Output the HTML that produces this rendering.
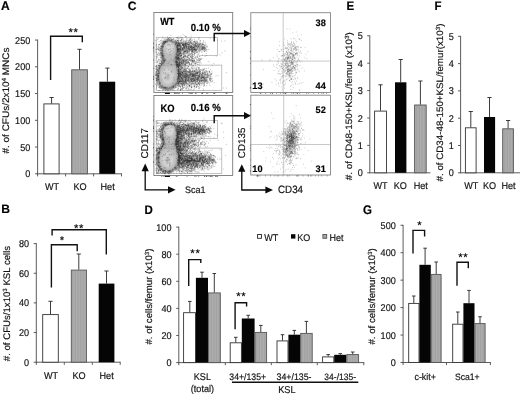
<!DOCTYPE html>
<html lang="en">
<head>
<meta charset="utf-8">
<title>Figure</title>
<style>
html,body{margin:0;padding:0;background:#fff;}
body{width:520px;height:395px;overflow:hidden;}
svg{display:block;font-family:"Liberation Sans",sans-serif;text-rendering:geometricPrecision;filter:blur(0.3px);}
text{stroke:#111;stroke-width:0.16px;paint-order:stroke;}
</style>
</head>
<body>
<svg width="520" height="395" viewBox="0 0 520 395">
<defs>
<pattern id="gs" width="1.6" height="4" patternUnits="userSpaceOnUse"><rect width="1.6" height="4" fill="#adadad"/><rect width="0.8" height="4" fill="#a1a1a1"/></pattern>
<filter id="b3" x="-5%" y="-5%" width="110%" height="110%"><feGaussianBlur stdDeviation="0.5"/></filter>
<filter id="b6" x="-10%" y="-10%" width="120%" height="120%"><feGaussianBlur stdDeviation="0.9"/></filter>
</defs>
<rect width="520" height="395" fill="#fff"/>
<text transform="translate(1.1 9.8) scale(1 1.04)" font-size="12.1" text-anchor="start" font-weight="bold" fill="#000">A</text>
<line x1="37.6" y1="39.6" x2="37.6" y2="174.2" stroke="#4a4a4a" stroke-width="0.9"/>
<line x1="35" y1="173.8" x2="37.6" y2="173.8" stroke="#4a4a4a" stroke-width="0.9"/>
<text transform="translate(30.3 177.35) scale(1 1.08)" font-size="9.1" text-anchor="end" font-weight="normal" fill="#111">0</text>
<line x1="35" y1="147.05" x2="37.6" y2="147.05" stroke="#4a4a4a" stroke-width="0.9"/>
<text transform="translate(30.3 150.6) scale(1 1.08)" font-size="9.1" text-anchor="end" font-weight="normal" fill="#111">50</text>
<line x1="35" y1="120.3" x2="37.6" y2="120.3" stroke="#4a4a4a" stroke-width="0.9"/>
<text transform="translate(30.3 123.85) scale(1 1.08)" font-size="9.1" text-anchor="end" font-weight="normal" fill="#111">100</text>
<line x1="35" y1="93.55" x2="37.6" y2="93.55" stroke="#4a4a4a" stroke-width="0.9"/>
<text transform="translate(30.3 97.1) scale(1 1.08)" font-size="9.1" text-anchor="end" font-weight="normal" fill="#111">150</text>
<line x1="35" y1="66.8" x2="37.6" y2="66.8" stroke="#4a4a4a" stroke-width="0.9"/>
<text transform="translate(30.3 70.35) scale(1 1.08)" font-size="9.1" text-anchor="end" font-weight="normal" fill="#111">200</text>
<line x1="35" y1="40.05" x2="37.6" y2="40.05" stroke="#4a4a4a" stroke-width="0.9"/>
<text transform="translate(30.3 43.6) scale(1 1.08)" font-size="9.1" text-anchor="end" font-weight="normal" fill="#111">250</text>
<line x1="37.2" y1="173.8" x2="121.9" y2="173.8" stroke="#4a4a4a" stroke-width="0.9"/>
<line x1="37.6" y1="173.8" x2="37.6" y2="176.4" stroke="#4a4a4a" stroke-width="0.9"/>
<line x1="65.6" y1="173.8" x2="65.6" y2="176.4" stroke="#4a4a4a" stroke-width="0.9"/>
<line x1="93.6" y1="173.8" x2="93.6" y2="176.4" stroke="#4a4a4a" stroke-width="0.9"/>
<line x1="121.5" y1="173.8" x2="121.5" y2="176.4" stroke="#4a4a4a" stroke-width="0.9"/>
<rect x="43.9" y="103.9" width="15.2" height="69.9" fill="#fff" stroke="#333" stroke-width="0.9"/>
<line x1="51.6" y1="97.5" x2="51.6" y2="103.5" stroke="#262626" stroke-width="0.9"/>
<line x1="49.5" y1="97.5" x2="53.7" y2="97.5" stroke="#262626" stroke-width="0.9"/>
<rect x="71.7" y="69.8" width="15.7" height="104" fill="url(#gs)" stroke="#555" stroke-width="0.9"/>
<line x1="79.5" y1="49.3" x2="79.5" y2="69.4" stroke="#262626" stroke-width="0.9"/>
<line x1="77.4" y1="49.3" x2="81.6" y2="49.3" stroke="#262626" stroke-width="0.9"/>
<rect x="99.3" y="81.7" width="15.9" height="92.1" fill="#050505"/>
<line x1="107.4" y1="68.1" x2="107.4" y2="81.7" stroke="#262626" stroke-width="0.9"/>
<line x1="105.3" y1="68.1" x2="109.5" y2="68.1" stroke="#262626" stroke-width="0.9"/>
<path d="M50.6 80V36.3H82.3V42.2" fill="none" stroke="#111" stroke-width="1.4" stroke-linejoin="miter"/>
<text transform="translate(73.55 36)" font-size="11.3" letter-spacing="0.7" text-anchor="middle" fill="#000" stroke="#000" stroke-width="0.25">**</text>
<text transform="translate(52 189.7) scale(1 1.08)" font-size="9.1" text-anchor="middle" font-weight="normal" fill="#111">WT</text>
<text transform="translate(80 189.7) scale(1 1.08)" font-size="9.1" text-anchor="middle" font-weight="normal" fill="#111">KO</text>
<text transform="translate(107.6 189.7) scale(1 1.08)" font-size="9.1" text-anchor="middle" font-weight="normal" fill="#111">Het</text>
<text transform="translate(9.4 100.5) scale(1 1.05) rotate(-90)" font-size="9.5" text-anchor="middle" fill="#111">#. of CFUs/2x10<tspan font-size="6" dy="-3">4</tspan><tspan dy="3"> MNCs</tspan></text>
<text transform="translate(1.3 213.4) scale(1 1.0)" font-size="12.1" text-anchor="start" font-weight="bold" fill="#000">B</text>
<line x1="36.3" y1="243.2" x2="36.3" y2="362.6" stroke="#4a4a4a" stroke-width="0.9"/>
<line x1="33.7" y1="362.2" x2="36.3" y2="362.2" stroke="#4a4a4a" stroke-width="0.9"/>
<text transform="translate(29 365.75) scale(1 1.08)" font-size="9.1" text-anchor="end" font-weight="normal" fill="#111">0</text>
<line x1="33.7" y1="332.55" x2="36.3" y2="332.55" stroke="#4a4a4a" stroke-width="0.9"/>
<text transform="translate(29 336.1) scale(1 1.08)" font-size="9.1" text-anchor="end" font-weight="normal" fill="#111">20</text>
<line x1="33.7" y1="302.9" x2="36.3" y2="302.9" stroke="#4a4a4a" stroke-width="0.9"/>
<text transform="translate(29 306.45) scale(1 1.08)" font-size="9.1" text-anchor="end" font-weight="normal" fill="#111">40</text>
<line x1="33.7" y1="273.25" x2="36.3" y2="273.25" stroke="#4a4a4a" stroke-width="0.9"/>
<text transform="translate(29 276.8) scale(1 1.08)" font-size="9.1" text-anchor="end" font-weight="normal" fill="#111">60</text>
<line x1="33.7" y1="243.6" x2="36.3" y2="243.6" stroke="#4a4a4a" stroke-width="0.9"/>
<text transform="translate(29 247.15) scale(1 1.08)" font-size="9.1" text-anchor="end" font-weight="normal" fill="#111">80</text>
<line x1="35.9" y1="362.2" x2="120.6" y2="362.2" stroke="#4a4a4a" stroke-width="0.9"/>
<line x1="36.3" y1="362.2" x2="36.3" y2="364.8" stroke="#4a4a4a" stroke-width="0.9"/>
<line x1="64.3" y1="362.2" x2="64.3" y2="364.8" stroke="#4a4a4a" stroke-width="0.9"/>
<line x1="92.3" y1="362.2" x2="92.3" y2="364.8" stroke="#4a4a4a" stroke-width="0.9"/>
<line x1="120.2" y1="362.2" x2="120.2" y2="364.8" stroke="#4a4a4a" stroke-width="0.9"/>
<rect x="42.7" y="314.6" width="15.6" height="47.6" fill="#fff" stroke="#333" stroke-width="0.9"/>
<line x1="50.5" y1="301.3" x2="50.5" y2="314.2" stroke="#262626" stroke-width="0.9"/>
<line x1="48.4" y1="301.3" x2="52.6" y2="301.3" stroke="#262626" stroke-width="0.9"/>
<rect x="71.3" y="270.1" width="15.1" height="92.1" fill="url(#gs)" stroke="#555" stroke-width="0.9"/>
<line x1="78.8" y1="254" x2="78.8" y2="269.7" stroke="#262626" stroke-width="0.9"/>
<line x1="76.7" y1="254" x2="80.9" y2="254" stroke="#262626" stroke-width="0.9"/>
<rect x="98.7" y="283.6" width="15.7" height="78.6" fill="#050505"/>
<line x1="106.5" y1="271" x2="106.5" y2="283.6" stroke="#262626" stroke-width="0.9"/>
<line x1="104.4" y1="271" x2="108.6" y2="271" stroke="#262626" stroke-width="0.9"/>
<path d="M51.4 287.4V244.8H77.2V251.2" fill="none" stroke="#111" stroke-width="1.4" stroke-linejoin="miter"/>
<text transform="translate(62 244.3)" font-size="11.3" letter-spacing="0" text-anchor="middle" fill="#000" stroke="#000" stroke-width="0.25">*</text>
<path d="M52.1 235.6V229.8H106.3V254.6" fill="none" stroke="#111" stroke-width="1.4" stroke-linejoin="miter"/>
<text transform="translate(79.05 232.3)" font-size="11.3" letter-spacing="0.7" text-anchor="middle" fill="#000" stroke="#000" stroke-width="0.25">**</text>
<text transform="translate(51 379.2) scale(1 1.08)" font-size="9.1" text-anchor="middle" font-weight="normal" fill="#111">WT</text>
<text transform="translate(79 379.2) scale(1 1.08)" font-size="9.1" text-anchor="middle" font-weight="normal" fill="#111">KO</text>
<text transform="translate(106.6 379.2) scale(1 1.08)" font-size="9.1" text-anchor="middle" font-weight="normal" fill="#111">Het</text>
<text transform="translate(9.8 303.5) scale(1 1.013) rotate(-90)" font-size="9.5" text-anchor="middle" fill="#111">#. of CFUs/1x10<tspan font-size="6" dy="-3">3</tspan><tspan dy="3"> KSL cells</tspan></text>
<text transform="translate(346.4 9.9) scale(1 1.08)" font-size="11.5" text-anchor="start" font-weight="bold" fill="#000">E</text>
<line x1="369.8" y1="35.4" x2="369.8" y2="173.2" stroke="#4a4a4a" stroke-width="0.9"/>
<line x1="367.2" y1="172.8" x2="369.8" y2="172.8" stroke="#4a4a4a" stroke-width="0.9"/>
<text transform="translate(362.7 176.35) scale(1 1.08)" font-size="9.1" text-anchor="end" font-weight="normal" fill="#111">0</text>
<line x1="367.2" y1="145.4" x2="369.8" y2="145.4" stroke="#4a4a4a" stroke-width="0.9"/>
<text transform="translate(362.7 148.95) scale(1 1.08)" font-size="9.1" text-anchor="end" font-weight="normal" fill="#111">1</text>
<line x1="367.2" y1="118" x2="369.8" y2="118" stroke="#4a4a4a" stroke-width="0.9"/>
<text transform="translate(362.7 121.55) scale(1 1.08)" font-size="9.1" text-anchor="end" font-weight="normal" fill="#111">2</text>
<line x1="367.2" y1="90.6" x2="369.8" y2="90.6" stroke="#4a4a4a" stroke-width="0.9"/>
<text transform="translate(362.7 94.15) scale(1 1.08)" font-size="9.1" text-anchor="end" font-weight="normal" fill="#111">3</text>
<line x1="367.2" y1="63.2" x2="369.8" y2="63.2" stroke="#4a4a4a" stroke-width="0.9"/>
<text transform="translate(362.7 66.75) scale(1 1.08)" font-size="9.1" text-anchor="end" font-weight="normal" fill="#111">4</text>
<line x1="367.2" y1="35.8" x2="369.8" y2="35.8" stroke="#4a4a4a" stroke-width="0.9"/>
<text transform="translate(362.7 39.35) scale(1 1.08)" font-size="9.1" text-anchor="end" font-weight="normal" fill="#111">5</text>
<line x1="369.4" y1="172.8" x2="430.4" y2="172.8" stroke="#4a4a4a" stroke-width="0.9"/>
<rect x="374.6" y="111.1" width="11.9" height="61.7" fill="#fff" stroke="#333" stroke-width="0.9"/>
<line x1="380.5" y1="84.8" x2="380.5" y2="110.7" stroke="#262626" stroke-width="0.9"/>
<line x1="378.4" y1="84.8" x2="382.6" y2="84.8" stroke="#262626" stroke-width="0.9"/>
<rect x="395" y="82.3" width="11.4" height="90.5" fill="#050505"/>
<line x1="400.7" y1="59.5" x2="400.7" y2="82.3" stroke="#262626" stroke-width="0.9"/>
<line x1="398.6" y1="59.5" x2="402.8" y2="59.5" stroke="#262626" stroke-width="0.9"/>
<rect x="414.6" y="105" width="11.6" height="67.8" fill="url(#gs)" stroke="#555" stroke-width="0.9"/>
<line x1="420.4" y1="81" x2="420.4" y2="104.6" stroke="#262626" stroke-width="0.9"/>
<line x1="418.3" y1="81" x2="422.5" y2="81" stroke="#262626" stroke-width="0.9"/>
<text transform="translate(380.6 189.2) scale(1 1.08)" font-size="9.1" text-anchor="middle" font-weight="normal" fill="#111">WT</text>
<text transform="translate(400.3 189.2) scale(1 1.08)" font-size="9.1" text-anchor="middle" font-weight="normal" fill="#111">KO</text>
<text transform="translate(420.8 189.2) scale(1 1.08)" font-size="9.1" text-anchor="middle" font-weight="normal" fill="#111">Het</text>
<text transform="translate(352.2 106.2) scale(1 1.06) rotate(-90)" font-size="9.3" text-anchor="middle" fill="#111">#. of CD48-150+KSL/femur (x10<tspan font-size="6" dy="-3">3</tspan><tspan dy="3">)</tspan></text>
<text transform="translate(434.5 9.9) scale(1 1.08)" font-size="11.5" text-anchor="start" font-weight="bold" fill="#000">F</text>
<line x1="460.6" y1="35.9" x2="460.6" y2="173.2" stroke="#4a4a4a" stroke-width="0.9"/>
<line x1="458" y1="172.8" x2="460.6" y2="172.8" stroke="#4a4a4a" stroke-width="0.9"/>
<text transform="translate(453.8 176.35) scale(1 1.08)" font-size="9.1" text-anchor="end" font-weight="normal" fill="#111">0</text>
<line x1="458" y1="145.5" x2="460.6" y2="145.5" stroke="#4a4a4a" stroke-width="0.9"/>
<text transform="translate(453.8 149.05) scale(1 1.08)" font-size="9.1" text-anchor="end" font-weight="normal" fill="#111">1</text>
<line x1="458" y1="118.2" x2="460.6" y2="118.2" stroke="#4a4a4a" stroke-width="0.9"/>
<text transform="translate(453.8 121.75) scale(1 1.08)" font-size="9.1" text-anchor="end" font-weight="normal" fill="#111">2</text>
<line x1="458" y1="90.9" x2="460.6" y2="90.9" stroke="#4a4a4a" stroke-width="0.9"/>
<text transform="translate(453.8 94.45) scale(1 1.08)" font-size="9.1" text-anchor="end" font-weight="normal" fill="#111">3</text>
<line x1="458" y1="63.6" x2="460.6" y2="63.6" stroke="#4a4a4a" stroke-width="0.9"/>
<text transform="translate(453.8 67.15) scale(1 1.08)" font-size="9.1" text-anchor="end" font-weight="normal" fill="#111">4</text>
<line x1="458" y1="36.3" x2="460.6" y2="36.3" stroke="#4a4a4a" stroke-width="0.9"/>
<text transform="translate(453.8 39.85) scale(1 1.08)" font-size="9.1" text-anchor="end" font-weight="normal" fill="#111">5</text>
<line x1="460.2" y1="172.8" x2="520" y2="172.8" stroke="#4a4a4a" stroke-width="0.9"/>
<rect x="465.4" y="127.8" width="10.7" height="45" fill="#fff" stroke="#333" stroke-width="0.9"/>
<line x1="470.8" y1="111.5" x2="470.8" y2="127.4" stroke="#262626" stroke-width="0.9"/>
<line x1="468.7" y1="111.5" x2="472.9" y2="111.5" stroke="#262626" stroke-width="0.9"/>
<rect x="484" y="117" width="11.1" height="55.8" fill="#050505"/>
<line x1="489.5" y1="97.5" x2="489.5" y2="117" stroke="#262626" stroke-width="0.9"/>
<line x1="487.4" y1="97.5" x2="491.6" y2="97.5" stroke="#262626" stroke-width="0.9"/>
<rect x="502.7" y="128.8" width="10.7" height="44" fill="url(#gs)" stroke="#555" stroke-width="0.9"/>
<line x1="508.1" y1="120.5" x2="508.1" y2="128.4" stroke="#262626" stroke-width="0.9"/>
<line x1="506" y1="120.5" x2="510.2" y2="120.5" stroke="#262626" stroke-width="0.9"/>
<text transform="translate(471.3 189.2) scale(1 1.08)" font-size="9.1" text-anchor="middle" font-weight="normal" fill="#111">WT</text>
<text transform="translate(489.6 189.2) scale(1 1.08)" font-size="9.1" text-anchor="middle" font-weight="normal" fill="#111">KO</text>
<text transform="translate(508.5 189.2) scale(1 1.08)" font-size="9.1" text-anchor="middle" font-weight="normal" fill="#111">Het</text>
<text transform="translate(443.2 102.5) scale(1 1.05) rotate(-90)" font-size="9.3" text-anchor="middle" fill="#111">#. of CD34-48-150+KSL/femur(x10<tspan font-size="6" dy="-3">3</tspan><tspan dy="3">)</tspan></text>
<text transform="translate(144.6 214.1) scale(1 1.08)" font-size="11.5" text-anchor="start" font-weight="bold" fill="#000">D</text>
<line x1="178.8" y1="226.7" x2="178.8" y2="363" stroke="#4a4a4a" stroke-width="0.9"/>
<line x1="176.2" y1="362.6" x2="178.8" y2="362.6" stroke="#4a4a4a" stroke-width="0.9"/>
<text transform="translate(171.5 366.15) scale(1 1.08)" font-size="9.1" text-anchor="end" font-weight="normal" fill="#111">0</text>
<line x1="176.2" y1="335.5" x2="178.8" y2="335.5" stroke="#4a4a4a" stroke-width="0.9"/>
<text transform="translate(171.5 339.05) scale(1 1.08)" font-size="9.1" text-anchor="end" font-weight="normal" fill="#111">20</text>
<line x1="176.2" y1="308.4" x2="178.8" y2="308.4" stroke="#4a4a4a" stroke-width="0.9"/>
<text transform="translate(171.5 311.95) scale(1 1.08)" font-size="9.1" text-anchor="end" font-weight="normal" fill="#111">40</text>
<line x1="176.2" y1="281.3" x2="178.8" y2="281.3" stroke="#4a4a4a" stroke-width="0.9"/>
<text transform="translate(171.5 284.85) scale(1 1.08)" font-size="9.1" text-anchor="end" font-weight="normal" fill="#111">60</text>
<line x1="176.2" y1="254.2" x2="178.8" y2="254.2" stroke="#4a4a4a" stroke-width="0.9"/>
<text transform="translate(171.5 257.75) scale(1 1.08)" font-size="9.1" text-anchor="end" font-weight="normal" fill="#111">80</text>
<line x1="176.2" y1="227.1" x2="178.8" y2="227.1" stroke="#4a4a4a" stroke-width="0.9"/>
<text transform="translate(171.5 230.65) scale(1 1.08)" font-size="9.1" text-anchor="end" font-weight="normal" fill="#111">100</text>
<line x1="178.4" y1="362.6" x2="364.2" y2="362.6" stroke="#4a4a4a" stroke-width="0.9"/>
<line x1="178.8" y1="362.6" x2="178.8" y2="365.2" stroke="#4a4a4a" stroke-width="0.9"/>
<line x1="225.3" y1="362.6" x2="225.3" y2="365.2" stroke="#4a4a4a" stroke-width="0.9"/>
<line x1="271.3" y1="362.6" x2="271.3" y2="365.2" stroke="#4a4a4a" stroke-width="0.9"/>
<line x1="317.3" y1="362.6" x2="317.3" y2="365.2" stroke="#4a4a4a" stroke-width="0.9"/>
<line x1="363.8" y1="362.6" x2="363.8" y2="365.2" stroke="#4a4a4a" stroke-width="0.9"/>
<rect x="183.6" y="312.7" width="11.9" height="49.9" fill="#fff" stroke="#333" stroke-width="0.9"/>
<line x1="189.8" y1="301.4" x2="189.8" y2="312.3" stroke="#262626" stroke-width="0.9"/>
<line x1="188" y1="301.4" x2="191.6" y2="301.4" stroke="#262626" stroke-width="0.9"/>
<rect x="195.9" y="277.8" width="12.1" height="84.8" fill="#050505"/>
<line x1="202" y1="272.2" x2="202" y2="277.8" stroke="#262626" stroke-width="0.9"/>
<line x1="200.2" y1="272.2" x2="203.8" y2="272.2" stroke="#262626" stroke-width="0.9"/>
<rect x="208.4" y="292.9" width="11.9" height="69.7" fill="url(#gs)" stroke="#555" stroke-width="0.9"/>
<line x1="214.3" y1="273.5" x2="214.3" y2="292.5" stroke="#262626" stroke-width="0.9"/>
<line x1="212.5" y1="273.5" x2="216.1" y2="273.5" stroke="#262626" stroke-width="0.9"/>
<path d="M188.7 286V259.6H200.8V263" fill="none" stroke="#111" stroke-width="1.4" stroke-linejoin="miter"/>
<text transform="translate(195.45 256.6)" font-size="11.3" letter-spacing="0.7" text-anchor="middle" fill="#000" stroke="#000" stroke-width="0.25">**</text>
<rect x="230.2" y="342.8" width="11.2" height="19.8" fill="#fff" stroke="#333" stroke-width="0.9"/>
<line x1="235.8" y1="337.3" x2="235.8" y2="342.4" stroke="#262626" stroke-width="0.9"/>
<line x1="234" y1="337.3" x2="237.6" y2="337.3" stroke="#262626" stroke-width="0.9"/>
<rect x="241.8" y="318.5" width="12.8" height="44.1" fill="#050505"/>
<line x1="248.2" y1="315.3" x2="248.2" y2="318.5" stroke="#262626" stroke-width="0.9"/>
<line x1="246.4" y1="315.3" x2="250" y2="315.3" stroke="#262626" stroke-width="0.9"/>
<rect x="255" y="332.4" width="11.6" height="30.2" fill="url(#gs)" stroke="#555" stroke-width="0.9"/>
<line x1="260.8" y1="325.4" x2="260.8" y2="332" stroke="#262626" stroke-width="0.9"/>
<line x1="259" y1="325.4" x2="262.6" y2="325.4" stroke="#262626" stroke-width="0.9"/>
<path d="M235.1 329.2V302.7H246.6V306.6" fill="none" stroke="#111" stroke-width="1.4" stroke-linejoin="miter"/>
<text transform="translate(241.25 300.1)" font-size="11.3" letter-spacing="0.7" text-anchor="middle" fill="#000" stroke="#000" stroke-width="0.25">**</text>
<rect x="277" y="340.9" width="11" height="21.7" fill="#fff" stroke="#333" stroke-width="0.9"/>
<line x1="282.5" y1="334.7" x2="282.5" y2="340.5" stroke="#262626" stroke-width="0.9"/>
<line x1="280.7" y1="334.7" x2="284.3" y2="334.7" stroke="#262626" stroke-width="0.9"/>
<rect x="288.4" y="334.7" width="11.9" height="27.9" fill="#050505"/>
<line x1="294.3" y1="330.4" x2="294.3" y2="334.7" stroke="#262626" stroke-width="0.9"/>
<line x1="292.5" y1="330.4" x2="296.1" y2="330.4" stroke="#262626" stroke-width="0.9"/>
<rect x="300.7" y="333.4" width="11.5" height="29.2" fill="url(#gs)" stroke="#555" stroke-width="0.9"/>
<line x1="306.4" y1="321.4" x2="306.4" y2="333" stroke="#262626" stroke-width="0.9"/>
<line x1="304.6" y1="321.4" x2="308.2" y2="321.4" stroke="#262626" stroke-width="0.9"/>
<rect x="322.6" y="356.9" width="11.2" height="5.7" fill="#fff" stroke="#333" stroke-width="0.9"/>
<line x1="328.2" y1="354.6" x2="328.2" y2="356.5" stroke="#262626" stroke-width="0.9"/>
<line x1="326.4" y1="354.6" x2="330" y2="354.6" stroke="#262626" stroke-width="0.9"/>
<rect x="334.2" y="354.8" width="12.2" height="7.8" fill="#050505"/>
<line x1="340.3" y1="353.6" x2="340.3" y2="354.8" stroke="#262626" stroke-width="0.9"/>
<line x1="338.5" y1="353.6" x2="342.1" y2="353.6" stroke="#262626" stroke-width="0.9"/>
<rect x="346.8" y="354.6" width="11.8" height="8" fill="url(#gs)" stroke="#555" stroke-width="0.9"/>
<line x1="352.7" y1="352" x2="352.7" y2="354.2" stroke="#262626" stroke-width="0.9"/>
<line x1="350.9" y1="352" x2="354.5" y2="352" stroke="#262626" stroke-width="0.9"/>
<text transform="translate(202.4 379.6) scale(1 1.08)" font-size="9.1" text-anchor="middle" font-weight="normal" fill="#111">KSL</text>
<text transform="translate(202.4 392.1) scale(1 1.08)" font-size="9.1" text-anchor="middle" font-weight="normal" fill="#111">(total)</text>
<text transform="translate(247.7 379.7) scale(1 1.08)" font-size="8.7" text-anchor="middle" font-weight="normal" fill="#111">34+/135+</text>
<text transform="translate(294 379.7) scale(1 1.08)" font-size="8.8" text-anchor="middle" font-weight="normal" fill="#111">34+/135-</text>
<text transform="translate(340.2 379.7) scale(1 1.08)" font-size="8.5" text-anchor="middle" font-weight="normal" fill="#111">34-/135-</text>
<line x1="232" y1="382.2" x2="358.3" y2="382.2" stroke="#111" stroke-width="1.5"/>
<text transform="translate(286.9 392.8) scale(1 1.08)" font-size="9.2" text-anchor="middle" font-weight="normal" fill="#111">KSL</text>
<text transform="translate(152 296.6) scale(1 1.013) rotate(-90)" font-size="9.5" text-anchor="middle" fill="#111">#. of cells/femur (x10<tspan font-size="6" dy="-3">3</tspan><tspan dy="3">)</tspan></text>
<rect x="257.6" y="234.5" width="3.8" height="3.8" fill="#fff" stroke="#222" stroke-width="0.9"/>
<text transform="translate(264.3 240.6) scale(1 1.08)" font-size="9" text-anchor="start" font-weight="normal" fill="#111">WT</text>
<rect x="291" y="234.2" width="4.4" height="4.4" fill="#050505"/>
<text transform="translate(297.3 240.6) scale(1 1.08)" font-size="9" text-anchor="start" font-weight="normal" fill="#111">KO</text>
<rect x="322.9" y="234.5" width="3.8" height="3.8" fill="#a9a9a9" stroke="#555" stroke-width="0.9"/>
<text transform="translate(329.6 240.6) scale(1 1.08)" font-size="9" text-anchor="start" font-weight="normal" fill="#111">Het</text>
<text transform="translate(362.9 214) scale(1 1.08)" font-size="11.5" text-anchor="start" font-weight="bold" fill="#000">G</text>
<line x1="403.1" y1="224.85" x2="403.1" y2="362.9" stroke="#4a4a4a" stroke-width="0.9"/>
<line x1="400.5" y1="362.5" x2="403.1" y2="362.5" stroke="#4a4a4a" stroke-width="0.9"/>
<text transform="translate(395.8 366.05) scale(1 1.08)" font-size="9.1" text-anchor="end" font-weight="normal" fill="#111">0</text>
<line x1="400.5" y1="335.05" x2="403.1" y2="335.05" stroke="#4a4a4a" stroke-width="0.9"/>
<text transform="translate(395.8 338.6) scale(1 1.08)" font-size="9.1" text-anchor="end" font-weight="normal" fill="#111">100</text>
<line x1="400.5" y1="307.6" x2="403.1" y2="307.6" stroke="#4a4a4a" stroke-width="0.9"/>
<text transform="translate(395.8 311.15) scale(1 1.08)" font-size="9.1" text-anchor="end" font-weight="normal" fill="#111">200</text>
<line x1="400.5" y1="280.15" x2="403.1" y2="280.15" stroke="#4a4a4a" stroke-width="0.9"/>
<text transform="translate(395.8 283.7) scale(1 1.08)" font-size="9.1" text-anchor="end" font-weight="normal" fill="#111">300</text>
<line x1="400.5" y1="252.7" x2="403.1" y2="252.7" stroke="#4a4a4a" stroke-width="0.9"/>
<text transform="translate(395.8 256.25) scale(1 1.08)" font-size="9.1" text-anchor="end" font-weight="normal" fill="#111">400</text>
<line x1="400.5" y1="225.25" x2="403.1" y2="225.25" stroke="#4a4a4a" stroke-width="0.9"/>
<text transform="translate(395.8 228.8) scale(1 1.08)" font-size="9.1" text-anchor="end" font-weight="normal" fill="#111">500</text>
<line x1="402.7" y1="362.5" x2="490.8" y2="362.5" stroke="#4a4a4a" stroke-width="0.9"/>
<line x1="403.1" y1="362.5" x2="403.1" y2="365.1" stroke="#4a4a4a" stroke-width="0.9"/>
<line x1="446.5" y1="362.5" x2="446.5" y2="365.1" stroke="#4a4a4a" stroke-width="0.9"/>
<line x1="490.4" y1="362.5" x2="490.4" y2="365.1" stroke="#4a4a4a" stroke-width="0.9"/>
<rect x="408.7" y="303.4" width="10.3" height="59.1" fill="#fff" stroke="#333" stroke-width="0.9"/>
<line x1="413.8" y1="296" x2="413.8" y2="303" stroke="#262626" stroke-width="0.9"/>
<line x1="412" y1="296" x2="415.6" y2="296" stroke="#262626" stroke-width="0.9"/>
<rect x="419.4" y="264.8" width="11.4" height="97.7" fill="#050505"/>
<line x1="425.1" y1="248.2" x2="425.1" y2="264.8" stroke="#262626" stroke-width="0.9"/>
<line x1="423.3" y1="248.2" x2="426.9" y2="248.2" stroke="#262626" stroke-width="0.9"/>
<rect x="431.2" y="274.4" width="9.9" height="88.1" fill="url(#gs)" stroke="#555" stroke-width="0.9"/>
<line x1="436.2" y1="262" x2="436.2" y2="274" stroke="#262626" stroke-width="0.9"/>
<line x1="434.4" y1="262" x2="438" y2="262" stroke="#262626" stroke-width="0.9"/>
<rect x="452.7" y="324.2" width="10.3" height="38.3" fill="#fff" stroke="#333" stroke-width="0.9"/>
<line x1="457.8" y1="312" x2="457.8" y2="323.8" stroke="#262626" stroke-width="0.9"/>
<line x1="456" y1="312" x2="459.6" y2="312" stroke="#262626" stroke-width="0.9"/>
<rect x="463.4" y="303.2" width="11.1" height="59.3" fill="#050505"/>
<line x1="469" y1="290.4" x2="469" y2="303.2" stroke="#262626" stroke-width="0.9"/>
<line x1="467.2" y1="290.4" x2="470.8" y2="290.4" stroke="#262626" stroke-width="0.9"/>
<rect x="474.9" y="323.6" width="10.2" height="38.9" fill="url(#gs)" stroke="#555" stroke-width="0.9"/>
<line x1="480" y1="316.8" x2="480" y2="323.2" stroke="#262626" stroke-width="0.9"/>
<line x1="478.2" y1="316.8" x2="481.8" y2="316.8" stroke="#262626" stroke-width="0.9"/>
<path d="M413 253.5V230.4H424.6V236.6" fill="none" stroke="#111" stroke-width="1.4" stroke-linejoin="miter"/>
<text transform="translate(419.5 229.4)" font-size="11.3" letter-spacing="0" text-anchor="middle" fill="#000" stroke="#000" stroke-width="0.25">*</text>
<path d="M457 285.8V262.3H468.3V268.2" fill="none" stroke="#111" stroke-width="1.4" stroke-linejoin="miter"/>
<text transform="translate(463.25 260.8)" font-size="11.3" letter-spacing="0.7" text-anchor="middle" fill="#000" stroke="#000" stroke-width="0.25">**</text>
<text transform="translate(425.2 379.6) scale(1 1.08)" font-size="8.9" text-anchor="middle" font-weight="normal" fill="#111">c-kit+</text>
<text transform="translate(467.2 379.6) scale(1 1.08)" font-size="8.6" text-anchor="middle" font-weight="normal" fill="#111">Sca1+</text>
<text transform="translate(375.2 296.4) scale(1 1.017) rotate(-90)" font-size="9.5" text-anchor="middle" fill="#111">#. of cells/femur (x10<tspan font-size="6" dy="-3">3</tspan><tspan dy="3">)</tspan></text>
<text transform="translate(127.8 10.1) scale(1 1.0)" font-size="12.1" text-anchor="start" font-weight="bold" fill="#000">C</text>
<clipPath id="clip11"><rect x="154.5" y="13.1" width="78.4" height="78.6"/></clipPath>
<g clip-path="url(#clip11)">
<g filter="url(#b6)">
<path d="M169.4 40.5C171.3 40.5 173.9 41.3 175.2 42.7C176.5 44.1 177.1 46.7 177.3 48.8C177.5 50.9 177.0 53.2 176.6 55.3C176.2 57.3 174.9 59.3 175.0 61.1C175.1 62.9 176.8 64.0 177.4 66.3C178.0 68.6 178.8 71.8 178.6 74.8C178.4 77.8 178.2 81.9 176.4 84.3C174.6 86.7 170.7 88.9 168.0 89.1C165.3 89.3 161.8 87.8 160.0 85.7C158.2 83.6 157.6 79.4 157.5 76.3C157.4 73.2 158.3 69.8 159.4 67.3C160.5 64.8 163.3 63.1 163.8 61.1C164.3 59.1 162.6 57.3 162.2 55.3C161.8 53.2 161.2 50.9 161.4 48.8C161.6 46.7 162.3 43.9 163.6 42.5C164.9 41.1 167.5 40.5 169.4 40.5Z" fill="#bcbcbc" stroke="#666" stroke-width="1.6"/>
<ellipse cx="169.6" cy="47.3" rx="4.2" ry="6" fill="#d8d8d8"/><ellipse cx="167.8" cy="76.3" rx="6" ry="8" fill="#d4d4d4"/>
<ellipse cx="167.6" cy="76.8" rx="2.0" ry="3.4" fill="#b0b0b0"/>
</g>
<path d="M200.3 55.5H217.5V37.5H156.3V61.1H175.8" fill="none" stroke="#999" stroke-width="0.6"/>
<rect x="156.3" y="65.1" width="65.5" height="25.2" fill="none" stroke="#999" stroke-width="0.6"/>
<g filter="url(#b3)">
<path d="M163.4 43.4h0.9M180.6 76.6h0.9M180.9 67.1h0.9M178.6 46.3h0.9M162.6 44.7h0.9M177.6 49.2h0.9M171.3 86.9h0.9M179.9 80.6h0.9M162.5 42.0h0.9M178.7 53.4h0.9M172.5 87.6h0.9M175.7 60.2h0.9M175.3 41.7h0.9M162.4 38.6h0.9M161.8 54.8h0.9M178.8 50.8h0.9M161.6 50.4h0.9M177.2 45.5h0.9M177.7 79.1h0.9M162.5 60.4h0.9M177.9 74.8h0.9M170.7 40.5h0.9M176.8 55.5h0.9M159.0 68.8h0.9M177.4 49.4h0.9M159.2 63.4h0.9M167.8 38.6h0.9M158.2 77.1h0.9M170.8 89.6h0.9M160.4 56.0h0.9M160.5 55.0h0.9M163.4 59.6h0.9M165.2 41.8h0.9M172.7 87.3h0.9M177.1 50.6h0.9M164.6 88.1h0.9M176.6 43.5h0.9M159.5 66.4h0.9M157.7 70.4h0.9M177.8 48.3h0.9M163.2 63.0h0.9M163.6 42.2h0.9M180.8 66.3h0.9M176.7 65.2h0.9M155.9 66.8h0.9M176.2 41.3h0.9M162.3 58.9h0.9M174.9 61.1h0.9M158.7 72.8h0.9M178.1 52.2h0.9M158.1 80.2h0.9M167.0 37.7h0.9M164.2 41.4h0.9M176.8 79.5h0.9M157.2 70.4h0.9M166.3 89.7h0.9M178.0 84.1h0.9M176.3 61.8h0.9M176.6 47.0h0.9M162.7 45.8h0.9M160.3 52.8h0.9M162.8 46.8h0.9M160.6 86.8h0.9M155.8 80.6h0.9M176.2 63.2h0.9M176.5 65.2h0.9M178.1 57.9h0.9M180.1 53.2h0.9M165.0 41.9h0.9M178.2 43.1h0.9M163.5 64.0h0.9M177.9 69.6h0.9M175.6 84.7h0.9M162.1 47.6h0.9M172.9 38.8h0.9M155.7 72.1h0.9M178.0 75.7h0.9M175.2 56.5h0.9M177.1 55.2h0.9M172.2 39.6h0.9M161.4 46.6h0.9M180.9 85.1h0.9M175.8 43.7h0.9M177.1 66.3h0.9M162.7 42.5h0.9M172.8 86.7h0.9M177.6 70.7h0.9M162.4 55.6h0.9M179.6 77.9h0.9M164.4 41.8h0.9M174.7 39.9h0.9M163.0 57.9h0.9M178.3 58.1h0.9M161.7 49.3h0.9M161.7 59.5h0.9M165.6 40.1h0.9M162.3 51.3h0.9M169.6 37.8h0.9M174.8 40.8h0.9M178.2 58.2h0.9M162.1 87.0h0.9M161.2 49.9h0.9M176.9 83.2h0.9M175.2 62.3h0.9M161.4 61.7h0.9M180.8 84.6h0.9M176.6 56.1h0.9M175.5 57.8h0.9M175.8 62.1h0.9M163.6 61.6h0.9M179.9 59.4h0.9M182.4 86.0h0.9M169.6 37.7h0.9M175.7 62.1h0.9M178.2 73.4h0.9M175.9 43.4h0.9M179.4 53.8h0.9M161.5 53.9h0.9M180.4 47.9h0.9M161.3 55.8h0.9M178.9 58.3h0.9M160.4 57.8h0.9M155.9 69.1h0.9M180.3 73.2h0.9M158.8 68.4h0.9M159.7 59.9h0.9M174.7 44.3h0.9M157.2 84.0h0.9M161.8 58.1h0.9M177.0 81.4h0.9M175.5 59.6h0.9M163.0 58.2h0.9M166.0 88.2h0.9M158.3 49.0h0.9M177.0 52.4h0.9M175.0 45.1h0.9M164.5 38.3h0.9M158.5 49.2h0.9M161.2 64.0h0.9M163.4 87.6h0.9M175.3 41.1h0.9M179.7 69.8h0.9M163.9 60.8h0.9M158.2 75.6h0.9M176.8 85.3h0.9M161.7 47.9h0.9M180.0 46.5h0.9M177.7 83.7h0.9M178.3 64.6h0.9M162.0 89.1h0.9M176.7 66.1h0.9M172.8 87.5h0.9M158.2 65.6h0.9M177.1 80.8h0.9M177.9 84.1h0.9M175.8 42.5h0.9M171.9 87.0h0.9M177.3 54.7h0.9M162.3 36.8h0.9M155.7 71.9h0.9M160.4 43.0h0.9M177.4 79.0h0.9M176.4 64.5h0.9M158.2 73.7h0.9M160.7 63.7h0.9M155.3 75.6h0.9M162.3 46.9h0.9M176.5 50.8h0.9M167.0 39.2h0.9M156.7 77.5h0.9M177.7 57.2h0.9M164.5 87.5h0.9M162.7 55.5h0.9M175.2 84.2h0.9M162.6 56.5h0.9M161.4 62.4h0.9M179.9 67.1h0.9M156.8 78.3h0.9M157.1 76.6h0.9M161.9 54.9h0.9M178.0 50.6h0.9M155.4 75.5h0.9M159.1 53.7h0.9M155.9 69.4h0.9M181.1 63.7h0.9M176.0 53.4h0.9M163.7 62.0h0.9M176.3 54.6h0.9M175.8 41.1h0.9M159.8 49.3h0.9M180.4 69.0h0.9M159.9 82.6h0.9M158.5 79.6h0.9M177.9 74.1h0.9M176.1 44.6h0.9M159.8 66.0h0.9M172.4 85.8h0.9M163.8 60.1h0.9M168.0 38.3h0.9M157.1 55.8h0.9M168.3 39.2h0.9M176.2 83.5h0.9M160.8 88.0h0.9M168.8 88.1h0.9M170.8 89.0h0.9M177.2 69.8h0.9M175.7 64.4h0.9M163.5 88.5h0.9M176.7 82.5h0.9M175.4 61.5h0.9M167.2 40.2h0.9M159.2 86.4h0.9M158.7 47.5h0.9M164.7 42.3h0.9M176.5 52.4h0.9M178.8 51.1h0.9M163.3 44.2h0.9M178.0 59.1h0.9M175.3 87.7h0.9M174.2 42.5h0.9M180.3 62.6h0.9M157.8 76.7h0.9M178.1 76.7h0.9M162.6 43.4h0.9M177.4 64.3h0.9M177.5 78.6h0.9M179.6 49.5h0.9M177.0 51.0h0.9M176.3 64.5h0.9M157.3 68.0h0.9M162.4 57.5h0.9M171.4 39.5h0.9M156.6 80.2h0.9M156.1 78.3h0.9M178.2 68.5h0.9M177.9 64.1h0.9M179.3 80.9h0.9M178.8 62.4h0.9M158.5 73.3h0.9M175.4 57.9h0.9M166.7 88.3h0.9M157.8 70.9h0.9M158.8 65.8h0.9M178.1 67.9h0.9M178.3 73.0h0.9M175.9 62.7h0.9M170.7 38.7h0.9M176.7 43.2h0.9M176.2 62.5h0.9M157.8 75.8h0.9M158.5 55.5h0.9M166.0 42.2h0.9M160.1 50.4h0.9M163.7 43.6h0.9M176.4 60.6h0.9M160.3 52.6h0.9M160.6 50.5h0.9M157.8 77.4h0.9M174.0 90.6h0.9M178.5 45.6h0.9M162.6 55.6h0.9M162.7 61.9h0.9M162.1 51.6h0.9M177.9 58.3h0.9M159.5 48.8h0.9M158.5 87.2h0.9M162.7 60.3h0.9M177.1 85.6h0.9M164.6 42.3h0.9M168.3 38.6h0.9M175.0 44.0h0.9M161.1 61.7h0.9M179.8 80.7h0.9M178.9 46.7h0.9M158.3 90.5h0.9M175.7 62.8h0.9M179.9 68.2h0.9M177.6 77.3h0.9M165.0 87.8h0.9M177.2 58.7h0.9M176.9 89.5h0.9M177.7 51.8h0.9M175.6 42.6h0.9M183.7 77.6h0.9M170.5 41.0h0.9M163.4 43.0h0.9M175.8 42.0h0.9M158.3 65.3h0.9M178.2 45.9h0.9M177.5 71.3h0.9M179.2 58.8h0.9M175.0 86.7h0.9M164.5 41.6h0.9M163.2 43.3h0.9M177.4 64.3h0.9M159.9 88.3h0.9M178.9 60.6h0.9M171.5 88.3h0.9M160.2 55.0h0.9M161.0 88.1h0.9M181.1 69.5h0.9M161.5 48.4h0.9M161.4 63.0h0.9M175.7 61.9h0.9M176.1 42.3h0.9M158.9 81.2h0.9M179.6 46.8h0.9M159.0 83.6h0.9M173.0 86.5h0.9M180.4 75.2h0.9M180.6 47.2h0.9M180.4 70.2h0.9M177.7 78.4h0.9M177.9 73.0h0.9M163.2 41.1h0.9M162.1 45.7h0.9M179.1 73.6h0.9M165.0 88.4h0.9M172.0 42.2h0.9M178.2 77.4h0.9M176.5 64.9h0.9M177.8 55.4h0.9M163.4 58.5h0.9M177.0 44.4h0.9M163.4 42.2h0.9M158.7 82.0h0.9M177.2 63.8h0.9M161.3 60.2h0.9M163.2 88.9h0.9M158.4 65.9h0.9M160.0 63.5h0.9M167.3 41.9h0.9M156.8 80.1h0.9M162.8 63.2h0.9M158.5 65.8h0.9M161.8 58.2h0.9M157.2 73.7h0.9M182.3 80.7h0.9M171.7 86.1h0.9M165.8 39.5h0.9M156.7 79.6h0.9M178.0 54.7h0.9M161.1 58.2h0.9M167.4 89.2h0.9M159.0 68.3h0.9M181.4 71.8h0.9M179.3 52.9h0.9M159.5 51.3h0.9M162.5 46.4h0.9M177.3 47.6h0.9M169.1 38.0h0.9M178.5 77.4h0.9M161.2 61.1h0.9M179.7 52.9h0.9M171.6 40.1h0.9M179.4 84.4h0.9M167.7 39.2h0.9M164.1 41.4h0.9M158.9 69.9h0.9M175.7 54.1h0.9M159.5 84.9h0.9M180.6 71.6h0.9M160.4 40.6h0.9M163.2 59.6h0.9M160.7 62.9h0.9M179.6 64.1h0.9M176.4 64.3h0.9M161.7 57.5h0.9M179.9 74.6h0.9M179.3 62.5h0.9M174.9 43.8h0.9M179.3 43.0h0.9M162.3 59.2h0.9M161.1 40.0h0.9M159.7 83.3h0.9M162.2 50.3h0.9M155.9 78.6h0.9M182.0 73.4h0.9M159.4 54.5h0.9M171.1 40.8h0.9M155.7 74.3h0.9M161.7 63.9h0.9M158.1 79.5h0.9M158.7 71.9h0.9M160.0 40.6h0.9M159.8 57.9h0.9M165.9 87.5h0.9M168.2 90.8h0.9M177.7 73.6h0.9M178.3 59.2h0.9M177.4 52.1h0.9M178.6 75.4h0.9M169.7 87.7h0.9M161.3 59.3h0.9M178.5 60.7h0.9M162.6 53.7h0.9M173.6 85.8h0.9M160.8 87.5h0.9M167.5 90.4h0.9M176.5 56.8h0.9M176.9 63.9h0.9M178.8 69.3h0.9M169.4 39.5h0.9M164.1 60.6h0.9M177.2 40.9h0.9M180.8 58.7h0.9M165.4 41.1h0.9M182.2 73.2h0.9M181.5 72.9h0.9M170.6 38.6h0.9M179.3 81.5h0.9M160.6 42.6h0.9M176.4 56.0h0.9M161.0 46.1h0.9M160.6 57.6h0.9M176.5 45.9h0.9M177.8 48.4h0.9M161.1 46.7h0.9M169.3 39.5h0.9M176.6 65.0h0.9M176.8 65.4h0.9M158.6 87.6h0.9M163.1 89.8h0.9M177.3 79.8h0.9M177.0 85.8h0.9M168.5 40.0h0.9M176.8 54.0h0.9M155.2 66.2h0.9M169.8 90.6h0.9M179.2 71.5h0.9M164.5 42.6h0.9M182.7 81.7h0.9M162.3 52.8h0.9M159.3 68.7h0.9M179.5 76.5h0.9M161.4 48.5h0.9M158.7 65.4h0.9M176.5 53.3h0.9M160.6 54.0h0.9M164.7 87.2h0.9M176.4 60.8h0.9M161.0 53.8h0.9M161.2 47.4h0.9M173.6 88.4h0.9M161.0 53.1h0.9M174.4 41.0h0.9M160.4 52.9h0.9M165.3 87.6h0.9M176.5 58.5h0.9M158.9 67.2h0.9M164.3 61.2h0.9M178.5 63.5h0.9M162.1 45.6h0.9M168.2 88.8h0.9M162.1 58.6h0.9M175.6 43.0h0.9M163.2 56.5h0.9M165.5 41.5h0.9M164.9 60.5h0.9M162.7 86.8h0.9M168.0 40.6h0.9M163.6 61.4h0.9M170.6 35.2h0.9M178.3 57.0h0.9M177.9 55.7h0.9M159.7 82.6h0.9M172.5 89.9h0.9M178.3 71.0h0.9M177.1 60.0h0.9M180.1 69.8h0.9M178.2 57.7h0.9M160.2 60.2h0.9M172.9 39.3h0.9M177.5 45.0h0.9M179.7 77.4h0.9M165.0 42.2h0.9M178.2 64.1h0.9M158.4 84.0h0.9M174.4 87.8h0.9M161.6 53.1h0.9M155.2 78.3h0.9M162.0 56.4h0.9M157.0 67.1h0.9M167.5 40.3h0.9M178.6 55.3h0.9M162.6 62.1h0.9M179.5 44.2h0.9M177.4 47.9h0.9M161.7 86.1h0.9M178.8 50.7h0.9M177.0 51.4h0.9M176.8 65.4h0.9M160.3 84.7h0.9M178.1 65.9h0.9M173.4 41.4h0.9M164.1 39.7h0.9M177.7 49.9h0.9M163.1 44.6h0.9M162.3 46.8h0.9M161.9 63.2h0.9M176.6 59.4h0.9M178.1 60.6h0.9M160.7 53.2h0.9M164.1 87.9h0.9M160.7 49.3h0.9M159.2 50.8h0.9M164.5 42.5h0.9M178.0 74.9h0.9M161.3 65.0h0.9M160.0 46.5h0.9M166.8 39.1h0.9M164.9 89.3h0.9M176.7 44.1h0.9M179.5 79.4h0.9M178.0 74.6h0.9M175.3 85.7h0.9M157.0 82.0h0.9M178.1 71.0h0.9M175.8 63.4h0.9M170.1 89.5h0.9M176.6 82.9h0.9M177.1 80.2h0.9M159.1 63.0h0.9M158.7 79.9h0.9M167.1 90.9h0.9M156.2 85.6h0.9M164.0 87.8h0.9M178.8 65.6h0.9M176.7 64.3h0.9M165.1 90.7h0.9M158.9 63.3h0.9M162.7 62.8h0.9M163.3 87.7h0.9M174.5 58.6h0.9M182.2 50.8h0.9M178.1 85.7h0.9M175.6 61.4h0.9M177.6 66.2h0.9M179.9 51.6h0.9M169.0 41.0h0.9M178.2 57.7h0.9M178.4 49.7h0.9M156.3 74.3h0.9M176.6 65.6h0.9M172.5 42.3h0.9M159.2 67.9h0.9M181.9 74.5h0.9M173.2 38.9h0.9M181.5 72.2h0.9M179.1 48.8h0.9M176.2 83.8h0.9M161.4 64.9h0.9M175.4 87.1h0.9M161.1 64.5h0.9M162.0 54.2h0.9M155.3 74.6h0.9M163.1 87.5h0.9M159.3 83.7h0.9M157.3 69.6h0.9M177.2 49.3h0.9M173.2 87.4h0.9M159.3 66.9h0.9M161.4 55.3h0.9M179.1 78.7h0.9M176.4 51.9h0.9M162.0 55.6h0.9M181.6 67.5h0.9M159.0 73.2h0.9M178.5 65.3h0.9M169.0 88.4h0.9M162.5 46.5h0.9M176.5 55.2h0.9M176.9 43.0h0.9M162.2 43.8h0.9M178.9 49.3h0.9M178.5 67.7h0.9M175.6 57.0h0.9M166.0 41.3h0.9M169.3 40.4h0.9M178.0 44.1h0.9M161.1 56.8h0.9M167.1 41.1h0.9M170.5 40.7h0.9M160.9 86.7h0.9M165.2 42.1h0.9M160.8 52.5h0.9M165.4 87.8h0.9M183.1 70.3h0.9M158.3 78.4h0.9M164.1 60.2h0.9M156.1 80.6h0.9M175.8 58.2h0.9M160.6 57.1h0.9M160.0 48.4h0.9M161.6 41.1h0.9M175.3 43.3h0.9M172.0 88.4h0.9M176.3 57.8h0.9M178.0 52.0h0.9M163.8 43.9h0.9M161.7 86.0h0.9M177.7 67.3h0.9M175.5 42.3h0.9M166.9 36.8h0.9M179.3 55.1h0.9M160.2 85.7h0.9M159.3 86.8h0.9M178.9 65.0h0.9M162.7 56.5h0.9M159.2 87.7h0.9M159.6 67.1h0.9M167.6 38.8h0.9M179.4 63.8h0.9M162.3 87.1h0.9M175.2 57.2h0.9M170.8 42.0h0.9M179.7 44.4h0.9M163.8 42.3h0.9M173.9 85.6h0.9M159.8 65.8h0.9M160.8 65.5h0.9M162.3 53.9h0.9M182.0 49.6h0.9M158.3 50.3h0.9M161.9 90.9h0.9M172.5 41.6h0.9M175.3 62.1h0.9M158.2 73.9h0.9M176.3 45.3h0.9M162.8 40.9h0.9M171.4 39.6h0.9M164.1 43.6h0.9M173.0 86.3h0.9M161.7 55.0h0.9M165.6 41.3h0.9M162.2 56.9h0.9M169.3 40.9h0.9M177.9 57.2h0.9M162.3 50.5h0.9M177.9 77.2h0.9M160.0 63.2h0.9M160.4 53.2h0.9M178.0 51.8h0.9M158.9 44.3h0.9M162.3 56.0h0.9M173.5 85.2h0.9M161.4 46.1h0.9M172.4 90.0h0.9M161.9 61.0h0.9M161.6 53.6h0.9M178.8 83.0h0.9M167.1 41.6h0.9M157.0 69.6h0.9M165.8 89.3h0.9M170.2 41.0h0.9M155.4 69.0h0.9M158.0 71.5h0.9M177.9 74.1h0.9M161.6 50.9h0.9M179.0 45.5h0.9M159.1 82.4h0.9M178.3 48.9h0.9M179.5 78.8h0.9M159.8 63.7h0.9M163.0 60.2h0.9M176.3 87.3h0.9M175.0 41.1h0.9M163.1 42.0h0.9M156.3 74.4h0.9M158.3 73.3h0.9M158.1 76.1h0.9M188.2 44.6h0.9M178.7 53.6h0.9M186.1 50.1h0.9M177.4 42.5h0.9M192.9 50.3h0.9M191.9 47.6h0.9M187.4 43.1h0.9M176.6 42.8h0.9M186.3 45.9h0.9M182.2 44.4h0.9M193.1 45.2h0.9M191.7 49.4h0.9M190.5 43.0h0.9M196.9 45.8h0.9M180.3 47.9h0.9M191.5 48.8h0.9M177.9 44.7h0.9M196.6 46.8h0.9M185.3 36.9h0.9M188.7 47.1h0.9M196.0 50.3h0.9M185.2 43.7h0.9M181.7 42.0h0.9M204.9 43.9h0.9M187.5 52.5h0.9M194.1 48.1h0.9M203.0 44.6h0.9M176.6 40.7h0.9M184.7 43.0h0.9M206.7 46.2h0.9M194.3 51.4h0.9M187.0 48.5h0.9M190.6 40.9h0.9M189.8 41.5h0.9M179.2 49.4h0.9M186.8 51.3h0.9M201.1 47.1h0.9M176.5 44.8h0.9M191.4 50.8h0.9M181.3 54.3h0.9M192.1 43.8h0.9M191.2 42.9h0.9M190.8 53.0h0.9M183.4 40.6h0.9M191.1 48.0h0.9M193.9 41.9h0.9M183.3 50.0h0.9M188.3 47.6h0.9M182.8 43.8h0.9M190.6 43.7h0.9M184.8 44.1h0.9M195.1 46.1h0.9M193.5 44.8h0.9M191.1 46.4h0.9M199.3 50.9h0.9M178.0 36.9h0.9M199.5 51.1h0.9M202.9 49.5h0.9M183.3 52.4h0.9M188.4 48.8h0.9M185.1 44.5h0.9M178.3 50.8h0.9M180.9 43.2h0.9M196.3 41.0h0.9M183.1 45.4h0.9M178.0 51.7h0.9M184.9 46.8h0.9M204.5 47.9h0.9M182.0 49.6h0.9M190.5 45.8h0.9M181.1 55.7h0.9M182.1 45.7h0.9M183.1 44.2h0.9M178.4 44.9h0.9M195.0 49.4h0.9M186.0 43.0h0.9M183.3 44.1h0.9M181.8 48.5h0.9M197.9 39.3h0.9M179.9 41.7h0.9M194.5 41.1h0.9M201.1 46.0h0.9M189.8 47.9h0.9M178.0 41.3h0.9M191.2 45.2h0.9M196.7 50.8h0.9M204.1 46.0h0.9M200.6 45.7h0.9M187.4 51.1h0.9M183.8 49.4h0.9M191.4 40.5h0.9M204.1 48.8h0.9M179.5 50.6h0.9M189.1 49.3h0.9M180.1 47.3h0.9M185.6 44.4h0.9M177.8 41.4h0.9M195.3 45.3h0.9M189.3 44.7h0.9M186.0 38.8h0.9M181.0 50.4h0.9M201.5 48.4h0.9M179.7 37.3h0.9M197.1 44.9h0.9M197.9 45.2h0.9M204.0 49.6h0.9M188.4 55.8h0.9M183.3 54.1h0.9M200.0 46.6h0.9M202.2 48.2h0.9M187.9 43.5h0.9M193.1 44.8h0.9M183.0 45.8h0.9M201.8 47.3h0.9M177.1 49.4h0.9M177.1 40.6h0.9M183.8 44.4h0.9M182.8 49.5h0.9M177.8 40.8h0.9M196.4 46.1h0.9M194.3 49.8h0.9M195.6 45.0h0.9M202.5 47.1h0.9M192.0 49.4h0.9M179.6 42.7h0.9M185.0 50.6h0.9M196.9 41.9h0.9M190.4 47.8h0.9M197.1 51.8h0.9M202.7 44.5h0.9M177.7 43.3h0.9M184.7 52.9h0.9M197.4 47.3h0.9M196.7 43.8h0.9M184.9 46.4h0.9M195.3 45.0h0.9M198.9 45.9h0.9M186.0 47.3h0.9M182.1 44.6h0.9M186.8 44.1h0.9M194.0 53.8h0.9M191.0 50.2h0.9M177.2 45.7h0.9M185.9 50.7h0.9M196.8 52.6h0.9M204.8 45.8h0.9M191.0 49.4h0.9M201.9 44.0h0.9M191.9 50.9h0.9M204.5 48.1h0.9M193.7 45.5h0.9M180.5 37.0h0.9M195.7 41.6h0.9M178.0 42.3h0.9M188.2 45.9h0.9M186.4 49.4h0.9M185.2 48.9h0.9M177.5 46.0h0.9M184.4 35.7h0.9M177.9 57.8h0.9M193.9 43.8h0.9M198.1 47.8h0.9M188.1 45.1h0.9M178.6 47.2h0.9M183.6 48.6h0.9M203.8 48.0h0.9M196.1 49.6h0.9M184.4 51.1h0.9M188.1 47.2h0.9M188.2 48.6h0.9M201.8 49.4h0.9M176.6 47.5h0.9M192.8 41.9h0.9M179.1 46.2h0.9M179.0 45.8h0.9M188.6 49.6h0.9M189.2 49.6h0.9M188.0 44.8h0.9M190.4 50.4h0.9M186.8 49.2h0.9M202.3 46.3h0.9M177.6 45.1h0.9M193.5 47.1h0.9M182.1 44.6h0.9M184.1 45.5h0.9M181.0 49.6h0.9M197.8 47.9h0.9M189.3 44.5h0.9M194.6 49.2h0.9M194.8 48.0h0.9M200.1 47.2h0.9M190.2 49.9h0.9M179.2 49.1h0.9M201.7 48.2h0.9M185.8 36.5h0.9M188.4 48.9h0.9M177.0 40.4h0.9M199.0 44.7h0.9M188.6 54.7h0.9M187.1 52.8h0.9M187.8 50.1h0.9M197.9 50.1h0.9M178.0 48.2h0.9M190.0 53.8h0.9M190.8 47.0h0.9M205.5 44.6h0.9M195.4 42.9h0.9M191.6 48.5h0.9M181.1 55.8h0.9M176.5 46.1h0.9M183.4 47.4h0.9M195.6 50.3h0.9M185.6 40.4h0.9M179.2 38.5h0.9M183.4 51.6h0.9M192.8 47.1h0.9M188.7 53.3h0.9M191.5 41.2h0.9M180.9 46.6h0.9M194.8 44.5h0.9M192.8 47.2h0.9M189.7 42.5h0.9M184.9 55.7h0.9M176.8 46.5h0.9M189.9 49.2h0.9M204.1 51.3h0.9M183.6 46.4h0.9M189.9 41.2h0.9M179.0 44.2h0.9M191.6 53.9h0.9M195.2 46.2h0.9M193.5 43.0h0.9M178.1 39.4h0.9M185.9 52.2h0.9M187.9 46.3h0.9M189.8 47.3h0.9M190.5 47.5h0.9M185.4 43.5h0.9M190.6 53.8h0.9M201.8 50.0h0.9M194.3 48.9h0.9M179.8 45.4h0.9M205.5 49.7h0.9M186.2 43.5h0.9M185.8 43.9h0.9M201.7 48.1h0.9M177.3 53.9h0.9M184.6 55.9h0.9M179.5 51.9h0.9M195.5 45.5h0.9M194.1 39.4h0.9M202.0 44.2h0.9M191.2 45.0h0.9M190.2 46.9h0.9M177.8 48.9h0.9M188.7 50.8h0.9M181.7 54.8h0.9M198.6 46.8h0.9M188.6 47.2h0.9M200.8 48.8h0.9M191.2 49.2h0.9M177.4 52.0h0.9M179.7 50.7h0.9M193.3 51.1h0.9M177.5 50.3h0.9M193.5 42.5h0.9M195.1 42.4h0.9M181.6 50.6h0.9M194.5 46.2h0.9M183.9 44.7h0.9M198.8 51.6h0.9M185.6 45.6h0.9M192.2 54.1h0.9M187.2 53.1h0.9M193.3 47.3h0.9M184.4 51.0h0.9M197.4 46.1h0.9M194.5 45.9h0.9M190.4 42.4h0.9M193.0 46.7h0.9M185.4 46.8h0.9M203.6 47.9h0.9M181.1 50.0h0.9M179.9 44.0h0.9M186.2 50.5h0.9M186.5 46.2h0.9M191.9 44.6h0.9M178.3 43.5h0.9M199.6 44.4h0.9M195.2 49.6h0.9M188.5 49.9h0.9M179.0 48.9h0.9M191.9 51.0h0.9M182.8 47.3h0.9M179.9 47.7h0.9M185.0 43.4h0.9M194.3 54.8h0.9M201.9 45.0h0.9M206.0 49.4h0.9M191.4 43.0h0.9M193.6 50.3h0.9M191.4 50.6h0.9M187.1 43.1h0.9M182.4 42.5h0.9M199.5 47.2h0.9M185.4 51.3h0.9M183.1 46.6h0.9M181.8 48.6h0.9M202.7 47.5h0.9M195.6 43.9h0.9M186.5 43.7h0.9M197.7 49.2h0.9M178.7 44.0h0.9M179.6 45.5h0.9M176.7 42.4h0.9M182.2 44.5h0.9M181.4 39.0h0.9M186.4 47.4h0.9M179.0 43.1h0.9M190.7 38.1h0.9M190.8 49.3h0.9M188.4 49.7h0.9M195.9 43.9h0.9M183.1 50.2h0.9M180.5 42.8h0.9M182.3 44.6h0.9M186.4 46.6h0.9M181.9 41.9h0.9M193.4 49.4h0.9M202.6 42.3h0.9M192.3 51.3h0.9M191.0 47.4h0.9M194.0 46.2h0.9M199.1 48.9h0.9M195.7 46.7h0.9M181.3 54.3h0.9M180.2 48.6h0.9M192.8 47.6h0.9M183.6 47.4h0.9M197.0 44.3h0.9M192.3 50.0h0.9M184.2 47.8h0.9M189.7 54.3h0.9M204.0 45.1h0.9M182.3 44.1h0.9M180.2 53.7h0.9M193.2 49.8h0.9M197.0 57.2h0.9M184.5 51.6h0.9M185.8 46.9h0.9M184.5 47.6h0.9M182.8 55.1h0.9M178.3 43.5h0.9M177.5 48.4h0.9M198.5 48.1h0.9M183.4 47.8h0.9M178.8 43.8h0.9M196.8 52.2h0.9M190.7 49.5h0.9M180.6 49.6h0.9M186.9 45.3h0.9M176.5 47.1h0.9M189.4 46.4h0.9M184.4 42.5h0.9M195.1 44.2h0.9M179.7 52.2h0.9M185.3 45.0h0.9M205.2 48.5h0.9M180.2 55.3h0.9M180.4 44.8h0.9M184.2 53.2h0.9M193.5 48.8h0.9M182.1 48.4h0.9M191.9 48.4h0.9M180.4 40.5h0.9M183.9 43.6h0.9M177.3 46.0h0.9M183.7 41.7h0.9M185.6 59.5h0.9M178.0 45.8h0.9M180.6 45.6h0.9M189.0 46.0h0.9M179.5 52.4h0.9M194.1 49.2h0.9M183.3 48.0h0.9M188.4 46.9h0.9M195.6 52.9h0.9M191.0 43.3h0.9M206.6 49.8h0.9M179.3 49.9h0.9M198.6 37.5h0.9M179.6 45.3h0.9M190.2 46.1h0.9M179.5 47.6h0.9M189.5 48.6h0.9M182.5 48.3h0.9M190.9 49.3h0.9M192.1 39.9h0.9M183.9 46.6h0.9M182.8 45.5h0.9M188.4 42.6h0.9M196.9 42.4h0.9M177.5 41.7h0.9M203.4 46.0h0.9M194.8 48.9h0.9M196.9 48.7h0.9M197.8 43.5h0.9M190.5 56.8h0.9M190.6 39.3h0.9M192.6 44.0h0.9M180.7 47.4h0.9M196.1 46.3h0.9M181.0 46.0h0.9M187.6 47.2h0.9M185.3 43.8h0.9M199.5 47.0h0.9M186.8 50.8h0.9M208.0 49.5h0.9M193.9 45.3h0.9M187.6 46.4h0.9M203.1 42.0h0.9M204.0 51.0h0.9M187.4 43.0h0.9M195.8 51.9h0.9M186.0 46.0h0.9M186.8 50.2h0.9M185.8 49.9h0.9M179.2 51.4h0.9M178.4 43.5h0.9M196.3 43.8h0.9M180.2 49.5h0.9M195.4 50.6h0.9M182.6 34.7h0.9M192.2 43.9h0.9M191.1 45.7h0.9M178.5 43.6h0.9M196.7 49.5h0.9M197.5 43.1h0.9M187.7 48.7h0.9M178.9 44.3h0.9M184.3 52.1h0.9M204.6 49.4h0.9M203.3 48.8h0.9M182.1 48.4h0.9M177.1 45.5h0.9M184.2 51.2h0.9M197.7 54.1h0.9M186.1 47.9h0.9M182.8 39.9h0.9M178.0 49.0h0.9M186.5 50.3h0.9M179.1 51.2h0.9M198.2 46.3h0.9M182.9 48.7h0.9M185.3 45.5h0.9M187.4 55.1h0.9M188.8 47.8h0.9M192.6 50.1h0.9M178.2 54.2h0.9M176.9 57.9h0.9M186.1 44.3h0.9M181.2 39.3h0.9M196.6 45.1h0.9M193.6 53.9h0.9M188.0 48.6h0.9M188.8 40.3h0.9M196.6 41.1h0.9M186.8 41.1h0.9M176.7 47.3h0.9M185.6 44.6h0.9M187.3 51.8h0.9M199.8 49.5h0.9M187.6 42.6h0.9M191.4 53.9h0.9M184.5 53.1h0.9M196.1 48.2h0.9M201.4 43.8h0.9M190.1 46.9h0.9M188.6 48.5h0.9M194.2 47.0h0.9M180.6 47.0h0.9M181.8 40.1h0.9M186.5 42.7h0.9M188.3 47.0h0.9M187.8 44.3h0.9M177.5 47.0h0.9M189.8 43.7h0.9M184.9 41.3h0.9M193.0 43.5h0.9M199.4 43.4h0.9M178.1 49.8h0.9M176.5 37.6h0.9M189.4 46.8h0.9M177.5 53.0h0.9M181.0 51.3h0.9M178.2 43.0h0.9M192.0 45.7h0.9M193.0 48.7h0.9M186.8 51.1h0.9M184.4 50.9h0.9M192.0 52.8h0.9M200.5 43.2h0.9M191.0 46.0h0.9M178.0 49.6h0.9M204.3 47.4h0.9M189.2 50.1h0.9M197.3 55.6h0.9M190.5 57.8h0.9M190.4 47.1h0.9M179.5 49.0h0.9M191.0 48.9h0.9M189.7 45.2h0.9M197.4 46.3h0.9M194.2 48.4h0.9M203.4 44.9h0.9M185.0 45.3h0.9M188.0 40.9h0.9M203.5 47.8h0.9M186.5 40.5h0.9M180.0 48.7h0.9M194.1 53.5h0.9M187.2 43.8h0.9M192.2 47.4h0.9M202.4 46.3h0.9M191.1 46.7h0.9M178.1 43.8h0.9M194.2 41.3h0.9M197.9 46.6h0.9M185.2 41.8h0.9M176.7 48.4h0.9M206.4 51.0h0.9M186.3 42.7h0.9M193.8 51.0h0.9M176.6 50.0h0.9M188.6 49.8h0.9M192.2 46.6h0.9M199.4 48.6h0.9M184.1 47.9h0.9M190.8 36.0h0.9M182.4 42.8h0.9M196.0 43.7h0.9M187.6 48.8h0.9M192.8 49.7h0.9M194.5 46.5h0.9M192.0 46.7h0.9M186.6 46.5h0.9M188.6 40.1h0.9M203.0 40.6h0.9M197.7 46.2h0.9M189.8 39.3h0.9M202.1 44.8h0.9M204.6 42.3h0.9M181.3 37.6h0.9M182.3 49.4h0.9M202.4 49.2h0.9M197.5 42.8h0.9M184.9 47.7h0.9M204.9 50.7h0.9M181.6 49.3h0.9M201.5 50.1h0.9M176.5 42.3h0.9M186.7 44.2h0.9M203.8 49.0h0.9M189.0 43.0h0.9M178.1 45.6h0.9M196.2 49.7h0.9M181.8 45.8h0.9M200.1 44.4h0.9M188.0 44.7h0.9M202.4 43.8h0.9M199.9 50.3h0.9M183.6 51.1h0.9M190.1 50.1h0.9M203.5 51.1h0.9M180.9 53.4h0.9M187.3 52.0h0.9M184.7 45.6h0.9M188.4 47.1h0.9M183.0 45.0h0.9M180.0 54.3h0.9M177.6 56.3h0.9M179.4 51.8h0.9M179.4 42.7h0.9M188.2 51.3h0.9M186.8 51.7h0.9M176.7 37.5h0.9M200.4 48.7h0.9M186.1 48.3h0.9M185.9 45.9h0.9M185.9 53.8h0.9M204.1 46.9h0.9M191.4 47.9h0.9M199.1 56.2h0.9M183.6 43.8h0.9M185.4 36.5h0.9M205.7 47.7h0.9M185.0 48.9h0.9M182.4 44.0h0.9M207.1 46.9h0.9M182.4 52.1h0.9M190.6 47.6h0.9M186.0 47.8h0.9M203.2 44.6h0.9M179.7 41.0h0.9M183.7 42.4h0.9M194.1 47.3h0.9M190.6 46.7h0.9M177.5 44.1h0.9M182.8 52.3h0.9M204.5 49.6h0.9M183.7 45.6h0.9M179.1 44.2h0.9M194.1 48.4h0.9M199.9 46.0h0.9M185.8 46.6h0.9M200.8 49.5h0.9M194.1 49.7h0.9M177.7 48.7h0.9M181.0 44.2h0.9M195.4 43.2h0.9M180.7 47.6h0.9M177.6 45.5h0.9M184.1 49.5h0.9M203.0 46.8h0.9M176.8 46.1h0.9M182.7 53.8h0.9M197.3 44.1h0.9M197.8 51.2h0.9M195.3 57.1h0.9M180.6 53.3h0.9M178.6 55.3h0.9M195.0 53.3h0.9M192.8 51.5h0.9M181.6 45.6h0.9M189.5 47.8h0.9M181.1 43.4h0.9M195.5 48.0h0.9M192.2 48.9h0.9M200.1 40.4h0.9M189.3 50.6h0.9M185.7 49.2h0.9M177.8 46.8h0.9M180.2 46.6h0.9M195.1 49.2h0.9M191.1 43.3h0.9M186.4 52.8h0.9M192.8 47.5h0.9M193.0 52.5h0.9M194.0 50.8h0.9M187.1 48.8h0.9M177.4 51.5h0.9M183.0 47.1h0.9M195.1 42.2h0.9M185.2 51.5h0.9M188.7 45.6h0.9M188.8 46.7h0.9M179.9 51.5h0.9M177.6 49.6h0.9M180.7 59.4h0.9M194.8 50.1h0.9M198.5 47.9h0.9M178.1 44.1h0.9M201.1 46.4h0.9M180.5 46.0h0.9M195.8 46.6h0.9M180.0 56.9h0.9M192.6 47.8h0.9M194.3 49.9h0.9M185.5 46.6h0.9M199.3 40.8h0.9M194.8 43.9h0.9M192.4 46.8h0.9M178.8 43.2h0.9M201.7 46.5h0.9M190.0 47.1h0.9M198.7 44.0h0.9M182.2 45.3h0.9M194.1 49.5h0.9M184.3 51.2h0.9M193.3 44.7h0.9M183.4 48.8h0.9M188.7 49.6h0.9M180.5 52.8h0.9M205.4 50.0h0.9M196.3 45.5h0.9M185.6 42.1h0.9M183.3 47.2h0.9M186.7 39.1h0.9M194.8 45.1h0.9M198.4 44.2h0.9M178.2 49.3h0.9M177.8 50.5h0.9M183.8 46.8h0.9M181.8 48.3h0.9M177.0 48.3h0.9M186.7 50.2h0.9M204.6 48.4h0.9M178.6 45.4h0.9M183.1 44.7h0.9M191.1 49.1h0.9M177.8 46.3h0.9M200.1 41.2h0.9M198.5 50.0h0.9M187.0 52.9h0.9M194.8 48.3h0.9M176.6 47.1h0.9M202.9 47.9h0.9M182.7 45.0h0.9M197.2 48.8h0.9M179.7 47.4h0.9M190.5 47.1h0.9M185.1 44.6h0.9M186.3 47.5h0.9M193.8 42.7h0.9M188.4 42.4h0.9M187.0 44.6h0.9M193.3 41.5h0.9M185.4 52.0h0.9M185.1 50.7h0.9M180.8 48.3h0.9M192.8 49.2h0.9M187.3 47.2h0.9M183.3 44.4h0.9M189.8 41.8h0.9M198.7 49.4h0.9M187.6 48.4h0.9M182.6 43.8h0.9M202.6 48.4h0.9M195.8 42.4h0.9M184.9 43.9h0.9M193.2 49.3h0.9M200.0 43.6h0.9M188.7 51.7h0.9M190.2 46.1h0.9M183.2 43.5h0.9M179.1 48.5h0.9M198.9 47.1h0.9M198.6 45.1h0.9M198.3 45.4h0.9M184.2 47.2h0.9M176.9 49.6h0.9M193.0 45.4h0.9M181.5 43.4h0.9M181.0 40.0h0.9M191.6 49.7h0.9M179.3 54.3h0.9M199.2 43.0h0.9M177.8 55.1h0.9M190.1 38.5h0.9M205.3 48.0h0.9M182.1 45.6h0.9M203.5 47.4h0.9M201.2 51.9h0.9M178.9 45.4h0.9M180.2 55.3h0.9M176.7 46.8h0.9M190.0 56.7h0.9M199.5 42.2h0.9M176.6 53.0h0.9M203.3 47.9h0.9M185.9 41.4h0.9M189.5 43.7h0.9M179.0 51.7h0.9M198.0 46.4h0.9M190.7 43.1h0.9M188.7 50.3h0.9M193.2 49.7h0.9M184.6 43.9h0.9M176.7 49.1h0.9M202.0 47.5h0.9M184.4 52.0h0.9M191.3 52.1h0.9M180.8 40.7h0.9M192.2 42.8h0.9M183.3 45.7h0.9M189.2 48.2h0.9M185.3 46.0h0.9M177.1 50.9h0.9M190.7 60.8h0.9M178.1 44.6h0.9M196.6 47.9h0.9M197.2 47.1h0.9M188.0 47.1h0.9M182.9 49.5h0.9M179.6 44.2h0.9M184.6 41.0h0.9M177.3 49.4h0.9M182.2 49.8h0.9M186.8 44.0h0.9M180.2 43.3h0.9M201.0 45.8h0.9M186.1 48.6h0.9M200.1 50.1h0.9M179.5 46.1h0.9M202.3 47.9h0.9M183.5 52.2h0.9M189.5 41.3h0.9M177.6 40.6h0.9M189.6 42.7h0.9M183.9 48.6h0.9M199.1 44.5h0.9M199.9 43.6h0.9M178.3 51.2h0.9M193.7 41.2h0.9M196.9 47.5h0.9M185.8 48.8h0.9M193.4 48.1h0.9M204.3 45.7h0.9M184.2 51.6h0.9M196.8 42.9h0.9M188.0 42.5h0.9M185.0 49.3h0.9M185.3 45.0h0.9M199.4 44.8h0.9M182.0 49.7h0.9M183.7 44.8h0.9M181.8 43.1h0.9M180.1 48.7h0.9M194.5 47.7h0.9M190.5 51.6h0.9M191.8 44.8h0.9M206.2 55.5h0.9M192.1 50.7h0.9M185.0 50.7h0.9M182.5 38.8h0.9M196.4 48.1h0.9M186.7 51.4h0.9M178.6 50.8h0.9M183.7 46.1h0.9M184.3 44.2h0.9M196.2 46.2h0.9M184.2 44.9h0.9M182.1 47.9h0.9M182.1 50.2h0.9M183.7 52.7h0.9M179.9 49.4h0.9M201.8 43.9h0.9M194.2 46.9h0.9M194.0 52.5h0.9M197.6 44.6h0.9M201.9 49.3h0.9M180.1 48.8h0.9M183.1 53.9h0.9M184.5 45.1h0.9M179.6 45.9h0.9M179.6 48.8h0.9M195.3 50.5h0.9M191.0 52.2h0.9M180.7 50.4h0.9M194.2 41.6h0.9M184.2 48.3h0.9M179.0 45.2h0.9M188.9 39.0h0.9M197.0 47.2h0.9M198.7 49.8h0.9M185.2 43.4h0.9M185.4 43.5h0.9M182.8 44.3h0.9M176.4 39.3h0.9M194.5 44.4h0.9M180.0 45.4h0.9M187.7 44.8h0.9M194.0 49.6h0.9M189.4 44.1h0.9M202.3 47.5h0.9M195.2 50.4h0.9M181.0 39.3h0.9M180.3 44.1h0.9M180.7 41.2h0.9M196.3 50.0h0.9M189.1 52.0h0.9M178.1 49.3h0.9M183.1 42.3h0.9M184.2 51.3h0.9M190.3 48.8h0.9M177.4 54.9h0.9M178.9 52.6h0.9M198.4 44.9h0.9M190.9 47.0h0.9M203.4 46.5h0.9M192.9 48.2h0.9M189.9 45.6h0.9M193.2 47.3h0.9M194.6 47.2h0.9M192.1 50.0h0.9M195.3 49.8h0.9M196.3 51.9h0.9M181.3 42.7h0.9M198.6 53.8h0.9M201.4 47.6h0.9M176.6 50.1h0.9M190.5 41.2h0.9M201.1 49.5h0.9M184.0 48.2h0.9M191.0 47.9h0.9M204.7 47.5h0.9M180.0 49.8h0.9M178.8 50.9h0.9M202.3 48.6h0.9M180.1 40.3h0.9M194.2 44.5h0.9M183.5 51.2h0.9M183.3 46.6h0.9M188.7 41.0h0.9M178.5 48.3h0.9M191.8 51.5h0.9M198.9 38.7h0.9M184.5 43.7h0.9M205.6 45.6h0.9M204.5 51.3h0.9M177.2 44.6h0.9M191.6 48.4h0.9M201.0 45.0h0.9M198.9 44.8h0.9M202.8 50.5h0.9M178.2 40.6h0.9M191.1 51.3h0.9M179.8 47.8h0.9M177.2 49.6h0.9M199.1 46.2h0.9M198.6 52.2h0.9M184.0 46.4h0.9M192.1 51.0h0.9M194.8 46.9h0.9M179.6 46.6h0.9M195.0 43.5h0.9M176.8 46.4h0.9M185.0 42.9h0.9M177.0 44.1h0.9M205.8 53.8h0.9M201.7 49.3h0.9M195.3 51.5h0.9M186.4 53.2h0.9M189.0 45.3h0.9M191.4 46.5h0.9M201.5 44.5h0.9M183.2 57.1h0.9M183.2 45.8h0.9M177.8 56.3h0.9M201.6 52.1h0.9M183.9 46.9h0.9M188.2 41.5h0.9M179.9 44.8h0.9M187.2 48.9h0.9M183.4 44.0h0.9M186.3 47.4h0.9M189.1 44.4h0.9M190.0 47.8h0.9M192.3 47.5h0.9M202.1 47.0h0.9M178.1 42.4h0.9M191.9 56.2h0.9M192.4 49.5h0.9M202.0 48.4h0.9M180.2 50.1h0.9M189.1 49.8h0.9M194.5 45.0h0.9M180.6 52.1h0.9M191.8 51.6h0.9M188.7 48.5h0.9M176.6 38.1h0.9M189.9 39.6h0.9M199.8 44.8h0.9M180.4 49.6h0.9M188.5 52.1h0.9M194.0 46.8h0.9M206.2 46.4h0.9M195.3 46.2h0.9M179.3 42.3h0.9M181.1 47.9h0.9M185.6 51.5h0.9M194.0 53.3h0.9M177.2 49.8h0.9M200.8 48.4h0.9M196.0 49.8h0.9M185.9 46.2h0.9M177.3 37.8h0.9M203.3 48.5h0.9M195.4 50.0h0.9M190.1 49.5h0.9M187.7 51.9h0.9M189.3 40.2h0.9M184.0 47.6h0.9M194.4 51.6h0.9M182.3 47.6h0.9M180.2 43.0h0.9M178.1 38.7h0.9M191.2 50.9h0.9M183.5 47.3h0.9M181.9 43.7h0.9M182.3 48.7h0.9M186.7 47.3h0.9M176.8 65.8h0.9M180.4 52.2h0.9M195.8 52.6h0.9M180.2 50.1h0.9M199.5 48.7h0.9M185.7 42.8h0.9M185.2 45.6h0.9M188.8 51.3h0.9M181.2 42.2h0.9M195.8 45.8h0.9M203.4 49.2h0.9M182.8 48.7h0.9M189.9 42.7h0.9M183.5 56.1h0.9M180.6 43.5h0.9M182.1 48.2h0.9M183.1 41.5h0.9M178.6 48.9h0.9M179.5 49.8h0.9M193.0 47.7h0.9M186.7 44.7h0.9M192.1 48.6h0.9M183.0 45.4h0.9M188.2 45.0h0.9M192.4 52.1h0.9M192.8 52.3h0.9M181.6 38.0h0.9M179.5 40.4h0.9M195.0 81.9h0.9M204.1 74.7h0.9M181.3 83.1h0.9M194.4 81.4h0.9M198.9 76.5h0.9M201.7 83.0h0.9M203.8 78.6h0.9M197.8 80.3h0.9M190.0 79.0h0.9M189.6 83.9h0.9M182.6 76.6h0.9M195.3 82.3h0.9M186.6 80.5h0.9M199.6 82.9h0.9M199.2 76.2h0.9M202.5 75.1h0.9M194.7 77.1h0.9M181.8 80.3h0.9M192.7 86.2h0.9M184.1 68.0h0.9M202.8 77.8h0.9M209.0 71.4h0.9M200.0 77.8h0.9M191.2 73.5h0.9M181.5 81.2h0.9M193.5 76.6h0.9M193.5 77.8h0.9M207.2 77.5h0.9M191.4 80.4h0.9M191.0 83.8h0.9M181.1 71.3h0.9M188.5 77.2h0.9M197.3 75.7h0.9M193.7 75.8h0.9M200.2 73.1h0.9M198.9 67.7h0.9M182.7 76.7h0.9M181.1 64.6h0.9M190.8 73.0h0.9M181.3 76.1h0.9M194.0 71.1h0.9M207.2 72.7h0.9M198.2 77.0h0.9M185.3 87.8h0.9M180.1 89.5h0.9M198.8 77.5h0.9M204.0 85.3h0.9M186.7 74.1h0.9M181.0 74.3h0.9M184.6 78.9h0.9M181.4 79.3h0.9M178.1 75.4h0.9M192.9 76.8h0.9M177.8 82.9h0.9M184.9 71.4h0.9M201.0 75.0h0.9M205.2 80.4h0.9M179.0 79.4h0.9M196.5 78.7h0.9M183.9 78.9h0.9M206.4 83.3h0.9M195.3 74.7h0.9M209.3 75.1h0.9M209.8 78.2h0.9M191.2 79.4h0.9M190.9 77.5h0.9M181.5 65.6h0.9M191.3 81.3h0.9M195.7 75.5h0.9M185.4 80.1h0.9M192.1 73.5h0.9M205.8 77.6h0.9M206.1 71.1h0.9M178.9 73.2h0.9M178.1 80.1h0.9M192.4 70.7h0.9M198.3 83.3h0.9M178.5 61.1h0.9M183.8 73.4h0.9M200.0 79.2h0.9M202.6 81.3h0.9M182.5 84.2h0.9M191.4 81.1h0.9M185.0 81.9h0.9M204.7 75.1h0.9M203.0 86.4h0.9M184.9 76.5h0.9M191.5 71.8h0.9M190.1 75.7h0.9M196.6 79.8h0.9M185.5 88.8h0.9M199.7 81.1h0.9M177.8 70.8h0.9M187.3 62.7h0.9M181.5 77.8h0.9M203.9 80.0h0.9M180.3 53.5h0.9M188.5 74.2h0.9M183.4 87.2h0.9M179.9 80.0h0.9M203.7 81.7h0.9M186.1 75.7h0.9M192.4 80.0h0.9M179.8 76.6h0.9M186.6 77.8h0.9M178.9 81.0h0.9M209.3 78.5h0.9M182.7 77.5h0.9M206.1 78.0h0.9M191.4 80.3h0.9M207.3 77.4h0.9M180.5 83.7h0.9M185.1 74.8h0.9M193.3 80.0h0.9M187.5 80.8h0.9M189.8 79.7h0.9M195.0 75.4h0.9M189.3 85.5h0.9M189.4 74.8h0.9M185.7 69.5h0.9M198.1 72.0h0.9M209.6 78.4h0.9M204.9 76.5h0.9M196.4 75.2h0.9M182.6 72.4h0.9M186.2 79.3h0.9M186.3 85.2h0.9M192.8 73.9h0.9M182.2 79.4h0.9M179.9 80.2h0.9M185.5 80.8h0.9M185.2 75.1h0.9M198.3 77.9h0.9M188.8 77.9h0.9M180.1 73.7h0.9M178.1 83.5h0.9M182.6 83.6h0.9M193.7 75.4h0.9M195.8 70.8h0.9M184.7 76.5h0.9M194.2 85.8h0.9M179.4 73.5h0.9M200.0 71.4h0.9M195.2 75.1h0.9M198.7 88.7h0.9M201.7 75.8h0.9M195.6 81.6h0.9M180.2 81.9h0.9M191.2 81.4h0.9M209.8 74.2h0.9M198.9 80.6h0.9M180.2 83.3h0.9M186.9 74.4h0.9M189.7 77.6h0.9M186.5 82.8h0.9M212.1 80.5h0.9M187.4 84.1h0.9M199.7 80.2h0.9M193.9 79.8h0.9M178.7 81.6h0.9M194.6 84.0h0.9M185.1 80.6h0.9M186.3 86.9h0.9M179.1 67.0h0.9M198.8 75.5h0.9M184.4 73.0h0.9M178.1 81.3h0.9M192.6 73.0h0.9M195.1 72.4h0.9M182.9 83.4h0.9M201.1 78.3h0.9M195.6 77.8h0.9M189.5 70.3h0.9M192.0 71.7h0.9M185.4 82.5h0.9M205.1 79.2h0.9M199.9 70.0h0.9M196.4 71.4h0.9M191.1 87.2h0.9M200.2 79.0h0.9M203.1 69.8h0.9M188.9 80.7h0.9M179.5 64.4h0.9M193.7 75.0h0.9M191.7 75.0h0.9M185.9 79.4h0.9M185.7 77.4h0.9M196.2 79.5h0.9M191.3 87.3h0.9M177.9 88.6h0.9M197.1 85.3h0.9M196.7 77.9h0.9M193.6 70.4h0.9M179.5 77.1h0.9M198.9 81.2h0.9M198.6 75.2h0.9M184.0 73.6h0.9M196.3 76.9h0.9M180.4 69.6h0.9M202.4 77.5h0.9M194.8 71.7h0.9M189.9 79.1h0.9M185.8 81.9h0.9M193.6 83.6h0.9M197.4 78.6h0.9M185.3 78.8h0.9M184.4 77.9h0.9M190.7 79.9h0.9M198.9 84.9h0.9M180.3 76.5h0.9M181.5 66.1h0.9M189.7 74.2h0.9M190.0 73.5h0.9M200.8 81.2h0.9M177.8 82.4h0.9M211.4 73.3h0.9M182.1 75.8h0.9M189.2 75.4h0.9M199.5 87.2h0.9M195.7 70.0h0.9M200.9 76.4h0.9M197.2 81.6h0.9M200.8 75.5h0.9M203.0 73.5h0.9M198.5 81.6h0.9M184.9 70.0h0.9M192.4 76.7h0.9M181.0 83.4h0.9M204.9 73.0h0.9M190.5 74.6h0.9M193.8 86.9h0.9M185.7 68.8h0.9M208.7 71.2h0.9M177.4 89.3h0.9M183.1 71.4h0.9M201.9 77.2h0.9M195.8 72.9h0.9M193.0 78.3h0.9M180.6 72.3h0.9M203.7 77.3h0.9M203.9 81.1h0.9M197.6 77.4h0.9M177.5 89.0h0.9M204.6 80.8h0.9M184.4 75.3h0.9M184.5 82.0h0.9M199.9 77.1h0.9M178.2 70.6h0.9M185.4 72.1h0.9M209.0 72.3h0.9M187.3 77.2h0.9M178.4 77.3h0.9M203.6 72.1h0.9M184.0 83.4h0.9M185.3 83.1h0.9M206.9 79.5h0.9M180.9 78.8h0.9M184.2 82.6h0.9M191.1 87.1h0.9M200.2 80.4h0.9M193.5 76.3h0.9M195.6 73.3h0.9M199.2 75.9h0.9M180.8 68.6h0.9M205.2 79.3h0.9M203.1 77.9h0.9M198.0 82.7h0.9M197.4 70.4h0.9M178.0 68.0h0.9M186.9 75.8h0.9M199.0 74.4h0.9M197.6 74.1h0.9M182.4 75.6h0.9M197.4 78.0h0.9M183.1 69.2h0.9M198.0 67.5h0.9M206.5 77.2h0.9M194.9 82.8h0.9M197.1 79.8h0.9M179.6 71.8h0.9M196.0 69.2h0.9M196.3 75.5h0.9M205.5 81.8h0.9M185.8 70.3h0.9M207.2 81.4h0.9M178.6 66.2h0.9M191.6 72.9h0.9M190.6 82.3h0.9M212.0 78.3h0.9M203.0 83.3h0.9M196.0 81.7h0.9M180.0 87.4h0.9M181.7 81.2h0.9M184.7 83.2h0.9M194.3 78.4h0.9M193.9 86.3h0.9M184.9 73.9h0.9M197.4 84.5h0.9M185.4 75.8h0.9M179.7 73.6h0.9M179.5 81.9h0.9M181.7 74.3h0.9M194.4 81.3h0.9M195.1 76.8h0.9M184.2 76.4h0.9M194.9 76.6h0.9M179.8 72.6h0.9M193.7 84.8h0.9M192.4 75.7h0.9M192.0 61.5h0.9M195.9 87.2h0.9M200.3 71.9h0.9M188.3 77.8h0.9M194.2 70.8h0.9M198.9 69.0h0.9M195.4 77.6h0.9M191.4 72.1h0.9M196.1 71.5h0.9M193.2 75.2h0.9M191.5 74.8h0.9M191.7 78.4h0.9M196.8 73.4h0.9M187.2 72.5h0.9M184.6 86.1h0.9M182.3 78.3h0.9M185.1 70.5h0.9M188.0 75.8h0.9M178.4 78.6h0.9M182.2 85.1h0.9M178.3 83.3h0.9M192.1 83.1h0.9M184.0 74.5h0.9M198.2 86.7h0.9M192.5 74.7h0.9M182.6 67.1h0.9M180.3 83.6h0.9M183.6 71.1h0.9M201.5 72.4h0.9M199.3 85.6h0.9M180.6 81.7h0.9M192.8 84.3h0.9M177.9 80.6h0.9M196.1 86.6h0.9M180.0 72.0h0.9M200.2 83.3h0.9M202.1 80.3h0.9M178.3 75.9h0.9M182.4 79.1h0.9M177.7 69.4h0.9M194.2 71.9h0.9M207.1 74.0h0.9M179.8 78.6h0.9M184.2 66.6h0.9M180.0 90.0h0.9M196.6 73.5h0.9M206.2 80.5h0.9M180.2 76.0h0.9M182.2 73.4h0.9M210.8 74.2h0.9M186.0 77.2h0.9M204.3 71.6h0.9M203.5 81.1h0.9M192.2 82.9h0.9M201.9 77.4h0.9M178.8 73.4h0.9M189.5 70.1h0.9M181.0 88.7h0.9M191.2 79.1h0.9M204.0 77.2h0.9M199.4 76.6h0.9M198.1 83.1h0.9M200.3 74.2h0.9M192.7 81.1h0.9M189.9 73.8h0.9M203.7 76.2h0.9M199.3 82.1h0.9M179.2 86.6h0.9M197.8 72.0h0.9M204.2 82.9h0.9M201.4 78.8h0.9M185.0 81.7h0.9M181.2 76.9h0.9M182.5 79.5h0.9M179.4 81.3h0.9M179.8 73.4h0.9M179.7 86.2h0.9M188.3 72.5h0.9M194.8 76.4h0.9M194.4 79.3h0.9M180.7 83.6h0.9M204.8 74.5h0.9M184.4 72.2h0.9M187.5 86.4h0.9M207.4 81.1h0.9M183.5 70.2h0.9M189.7 74.3h0.9M189.2 75.0h0.9M188.1 81.5h0.9M180.0 90.1h0.9M192.7 71.4h0.9M197.2 71.6h0.9M187.6 80.1h0.9M179.9 86.8h0.9M182.8 80.8h0.9M193.7 79.9h0.9M181.2 68.2h0.9M192.4 77.7h0.9M188.1 61.4h0.9M180.2 68.9h0.9M180.3 73.0h0.9M193.3 79.1h0.9M192.3 78.9h0.9M194.2 85.0h0.9M210.1 78.3h0.9M178.9 75.3h0.9M186.2 75.5h0.9M194.3 80.4h0.9M195.0 78.9h0.9M194.6 80.3h0.9M197.1 72.6h0.9M185.5 79.0h0.9M190.7 81.5h0.9M194.6 68.9h0.9M186.7 71.5h0.9M191.1 65.0h0.9M195.4 77.5h0.9M179.2 71.4h0.9M193.4 79.8h0.9M193.5 76.1h0.9M194.0 68.4h0.9M183.0 77.3h0.9M202.8 89.1h0.9M188.0 79.1h0.9M186.7 80.2h0.9M179.5 76.2h0.9M188.7 75.2h0.9M183.9 85.0h0.9M187.8 73.6h0.9M192.5 73.6h0.9M203.4 83.2h0.9M199.3 69.9h0.9M186.3 77.2h0.9M177.8 78.4h0.9M178.8 69.7h0.9M209.5 76.3h0.9M181.8 89.2h0.9M177.9 71.1h0.9M197.9 78.7h0.9M185.3 80.4h0.9M203.3 84.5h0.9M201.0 81.6h0.9M179.4 75.1h0.9M180.6 82.6h0.9M202.5 78.2h0.9M209.7 81.0h0.9M186.1 76.6h0.9M188.0 75.7h0.9M202.3 80.1h0.9M190.1 72.2h0.9M183.2 80.0h0.9M190.9 81.4h0.9M203.1 79.8h0.9M196.0 84.6h0.9M188.9 77.9h0.9M198.7 84.6h0.9M185.0 70.6h0.9M196.9 75.8h0.9M180.6 74.5h0.9M183.9 71.5h0.9M194.2 75.0h0.9M179.3 79.1h0.9M181.9 79.0h0.9M195.1 80.7h0.9M187.0 78.7h0.9M201.4 79.0h0.9M204.4 80.4h0.9M179.5 60.9h0.9M188.7 71.9h0.9M185.4 84.4h0.9M184.2 72.1h0.9M198.3 77.0h0.9M195.9 79.2h0.9M204.7 75.3h0.9M188.0 77.1h0.9M190.0 74.6h0.9M205.1 73.8h0.9M195.0 73.9h0.9M186.2 78.0h0.9M197.6 80.5h0.9M206.4 75.3h0.9M193.9 76.8h0.9M188.2 76.3h0.9M182.3 84.3h0.9M188.6 76.1h0.9M191.3 84.4h0.9M195.6 75.6h0.9M182.7 83.2h0.9M192.5 74.6h0.9M192.9 83.0h0.9M206.2 74.3h0.9M185.3 71.7h0.9M202.3 77.3h0.9M193.6 77.8h0.9M199.8 83.8h0.9M182.1 87.6h0.9M197.0 73.3h0.9M194.4 81.8h0.9M189.5 73.9h0.9M183.3 74.6h0.9M178.4 68.2h0.9M184.0 76.6h0.9M203.1 73.6h0.9M199.5 80.6h0.9M195.0 78.3h0.9M181.8 76.6h0.9M185.0 69.0h0.9M187.4 86.9h0.9M201.6 82.7h0.9M184.6 80.7h0.9M203.1 77.6h0.9M183.9 69.1h0.9M179.2 75.2h0.9M205.4 81.8h0.9M190.1 79.5h0.9M190.2 77.4h0.9M188.8 80.1h0.9M179.1 80.7h0.9M206.9 83.8h0.9M188.1 76.2h0.9M192.1 79.4h0.9M181.9 88.6h0.9M184.9 64.6h0.9M181.7 72.5h0.9M198.3 76.1h0.9M181.9 86.3h0.9M186.7 74.9h0.9M183.5 70.8h0.9M191.5 74.4h0.9M196.8 79.4h0.9M196.3 70.0h0.9M195.5 72.6h0.9M208.0 75.8h0.9M195.6 73.8h0.9M186.7 77.9h0.9M191.5 85.0h0.9M187.8 78.8h0.9M193.6 71.2h0.9M204.0 83.1h0.9M198.8 76.4h0.9M188.3 81.0h0.9M188.2 77.4h0.9M188.0 88.8h0.9M177.9 79.0h0.9M188.3 69.6h0.9M186.4 83.7h0.9M189.5 76.2h0.9M197.0 72.7h0.9M185.6 72.4h0.9M189.0 64.4h0.9M206.6 81.2h0.9M203.3 76.1h0.9M188.1 80.4h0.9M182.4 77.7h0.9M185.8 81.0h0.9M185.1 66.0h0.9M201.6 80.4h0.9M198.9 78.9h0.9M193.6 81.7h0.9M200.2 69.8h0.9M202.6 68.4h0.9M196.9 76.9h0.9M202.7 70.0h0.9M182.4 68.6h0.9M180.2 80.6h0.9M197.2 82.8h0.9M182.8 87.8h0.9M188.1 78.1h0.9M191.6 74.3h0.9M191.5 77.7h0.9M188.5 69.4h0.9M193.8 78.8h0.9M202.3 75.1h0.9M185.4 81.2h0.9M195.8 75.7h0.9M178.3 72.7h0.9M194.2 76.7h0.9M197.9 83.7h0.9M204.6 70.9h0.9M190.4 84.3h0.9M192.0 71.8h0.9M185.5 78.4h0.9M205.3 80.8h0.9M188.5 89.6h0.9M185.8 78.6h0.9M208.1 82.3h0.9M183.0 79.1h0.9M198.6 68.0h0.9M180.8 83.5h0.9M181.0 89.3h0.9M183.1 84.1h0.9M203.6 78.0h0.9M182.1 67.5h0.9M182.2 76.9h0.9M177.7 83.2h0.9M200.7 81.1h0.9M183.1 73.6h0.9M181.5 68.5h0.9M183.4 84.1h0.9M177.6 78.3h0.9M195.3 83.3h0.9M178.6 75.8h0.9M181.9 69.1h0.9M185.6 75.1h0.9M204.5 73.0h0.9M180.2 66.5h0.9M181.3 66.0h0.9M177.5 81.5h0.9M202.8 77.2h0.9M179.2 74.1h0.9M209.5 72.7h0.9M190.9 80.5h0.9M185.1 77.7h0.9M208.2 68.1h0.9M194.9 84.3h0.9M206.1 79.1h0.9M188.8 85.7h0.9M198.4 88.5h0.9M178.8 81.8h0.9M180.8 80.7h0.9M211.0 74.3h0.9M187.5 73.7h0.9M182.5 79.5h0.9M178.7 65.9h0.9M186.1 62.5h0.9M193.3 80.1h0.9M182.2 72.0h0.9M181.7 80.2h0.9M184.1 82.9h0.9M206.2 85.9h0.9M190.4 71.3h0.9M188.0 81.3h0.9M185.0 73.7h0.9M188.4 68.1h0.9M189.6 77.1h0.9M179.3 84.4h0.9M178.1 67.1h0.9M198.6 74.5h0.9M178.5 73.9h0.9M207.5 76.4h0.9M203.6 73.9h0.9M183.3 75.8h0.9M196.8 80.3h0.9M181.7 86.5h0.9M189.1 80.2h0.9M181.5 79.4h0.9M185.5 71.3h0.9M181.8 81.3h0.9M203.1 78.4h0.9M193.5 67.0h0.9M178.1 74.9h0.9M186.3 66.0h0.9M210.7 76.3h0.9M197.5 83.1h0.9M181.1 81.3h0.9M192.2 78.5h0.9M205.4 74.9h0.9M193.2 80.6h0.9M177.8 87.4h0.9M179.9 81.8h0.9M187.5 81.3h0.9M192.4 76.4h0.9M193.7 88.3h0.9M199.5 79.1h0.9M189.3 74.2h0.9M187.4 68.4h0.9M191.1 80.9h0.9M193.7 71.8h0.9M181.3 71.1h0.9M185.4 71.4h0.9M210.1 79.4h0.9M184.8 69.2h0.9M186.5 86.3h0.9M184.4 68.0h0.9M189.9 70.3h0.9M182.0 69.2h0.9M189.6 77.2h0.9M196.9 72.7h0.9M198.2 83.5h0.9M203.6 72.1h0.9M187.9 77.8h0.9M206.2 81.4h0.9M191.7 78.9h0.9M183.1 78.6h0.9M181.0 68.1h0.9M207.8 75.1h0.9M196.3 87.1h0.9M204.9 80.7h0.9M183.5 78.8h0.9M177.7 66.7h0.9M196.6 84.6h0.9M182.6 80.6h0.9M191.9 76.0h0.9M191.2 89.6h0.9M203.7 76.6h0.9M184.9 77.9h0.9M197.9 75.9h0.9M203.9 79.2h0.9M206.4 72.4h0.9M197.8 78.1h0.9M194.2 73.9h0.9M207.3 74.4h0.9M187.8 72.4h0.9M195.8 87.6h0.9M182.1 81.9h0.9M179.4 70.6h0.9M203.6 81.7h0.9M193.1 74.9h0.9M201.5 80.6h0.9M199.1 76.5h0.9M196.9 75.2h0.9M195.0 71.1h0.9M195.2 81.1h0.9M194.7 74.3h0.9M197.5 72.5h0.9M210.0 80.5h0.9M186.7 76.7h0.9M185.0 77.2h0.9M177.4 73.5h0.9M181.6 78.9h0.9M179.5 82.4h0.9M195.1 73.4h0.9M202.6 69.7h0.9M194.0 71.4h0.9M196.4 81.3h0.9M190.1 89.3h0.9M178.1 76.5h0.9M181.3 78.1h0.9M191.6 87.4h0.9M188.2 71.1h0.9M181.9 81.2h0.9M183.7 81.6h0.9M204.2 73.9h0.9M180.2 74.6h0.9M196.2 68.2h0.9M182.4 67.2h0.9M186.0 71.6h0.9M196.2 79.7h0.9M188.8 73.1h0.9M182.1 70.6h0.9M206.4 76.6h0.9M196.2 79.2h0.9M200.3 76.3h0.9M180.5 79.7h0.9M201.1 80.0h0.9M197.9 76.7h0.9M178.2 72.4h0.9M182.3 68.0h0.9M201.7 83.9h0.9M184.4 64.5h0.9M186.0 80.9h0.9M178.2 89.1h0.9M179.0 72.6h0.9M192.5 80.1h0.9M203.5 72.3h0.9M183.3 73.3h0.9M193.7 83.2h0.9M190.0 75.5h0.9M199.2 73.6h0.9M186.5 74.7h0.9M194.1 86.7h0.9M179.3 74.1h0.9M188.1 79.7h0.9M199.0 82.3h0.9M186.5 87.5h0.9M191.6 81.9h0.9M184.6 79.4h0.9M200.4 72.4h0.9M183.9 87.4h0.9M203.5 79.0h0.9M190.0 81.9h0.9M203.4 81.1h0.9M186.9 90.4h0.9M199.4 72.8h0.9M193.3 76.0h0.9M183.7 76.2h0.9M202.5 74.2h0.9M199.0 74.7h0.9M179.3 66.3h0.9M195.7 79.1h0.9M199.6 81.3h0.9M197.7 79.7h0.9M185.0 80.3h0.9M181.0 74.3h0.9M200.2 80.7h0.9M180.1 79.7h0.9M190.9 83.8h0.9M193.0 75.0h0.9M179.9 72.3h0.9M205.6 74.6h0.9M201.5 80.1h0.9M178.1 74.6h0.9M206.5 71.3h0.9M201.1 77.9h0.9M189.9 72.4h0.9M197.4 70.2h0.9M192.0 70.8h0.9M186.0 83.1h0.9M199.2 77.5h0.9M211.9 81.7h0.9M181.9 64.3h0.9M199.7 73.5h0.9M203.8 75.5h0.9M181.7 73.1h0.9M197.0 77.9h0.9M187.4 80.0h0.9M185.5 85.5h0.9M187.3 76.2h0.9M181.3 78.4h0.9M192.5 79.8h0.9M180.8 81.3h0.9M179.0 82.4h0.9M194.7 75.4h0.9M180.5 77.2h0.9M178.5 71.9h0.9M196.5 73.0h0.9M190.5 79.8h0.9M178.9 65.9h0.9M185.0 76.7h0.9M198.4 78.1h0.9M208.4 77.5h0.9M198.5 77.3h0.9M209.6 74.1h0.9M202.8 77.3h0.9M180.9 72.6h0.9M191.5 78.5h0.9M198.5 83.3h0.9M198.9 70.8h0.9M204.8 77.6h0.9M183.5 71.8h0.9M178.0 63.0h0.9M184.1 81.8h0.9M182.5 74.8h0.9M209.1 75.3h0.9M204.0 72.8h0.9M182.0 85.8h0.9M180.7 79.1h0.9M184.9 77.5h0.9M186.5 76.6h0.9M197.2 72.9h0.9M183.0 82.7h0.9M185.4 73.8h0.9M198.0 69.0h0.9M191.5 73.2h0.9M204.9 81.5h0.9M181.9 72.9h0.9M209.6 79.1h0.9M200.2 71.2h0.9M195.2 83.0h0.9M185.9 70.3h0.9M186.1 62.8h0.9M178.9 77.6h0.9M185.1 75.5h0.9M191.3 75.9h0.9M190.9 83.2h0.9M193.3 75.4h0.9M193.2 72.2h0.9M186.1 73.8h0.9M184.6 76.2h0.9M181.1 81.3h0.9M182.7 80.9h0.9M191.7 76.2h0.9M192.7 74.7h0.9M178.8 73.3h0.9M210.5 77.2h0.9M191.1 76.4h0.9M204.2 74.9h0.9M184.6 75.3h0.9M185.7 83.1h0.9M190.4 76.2h0.9M205.0 74.5h0.9M189.5 86.3h0.9M194.7 79.9h0.9M186.1 73.8h0.9M198.3 79.6h0.9M182.8 88.6h0.9M178.6 86.1h0.9M204.4 82.1h0.9M184.3 84.5h0.9M179.8 75.0h0.9M183.9 77.0h0.9M197.0 81.3h0.9M211.1 78.6h0.9M206.3 80.3h0.9M189.5 80.7h0.9M184.0 75.2h0.9M204.9 81.2h0.9M189.1 71.1h0.9M188.3 84.7h0.9M191.8 80.0h0.9M186.7 79.9h0.9M188.1 66.6h0.9M198.4 71.0h0.9M180.4 70.1h0.9M192.2 76.5h0.9M181.7 75.6h0.9M177.5 84.9h0.9M188.8 75.8h0.9M210.4 80.0h0.9M184.0 70.6h0.9M190.9 80.1h0.9M179.7 75.8h0.9M182.1 83.8h0.9M193.8 85.6h0.9M182.1 82.7h0.9M196.6 74.4h0.9M189.8 79.8h0.9M179.3 81.4h0.9M190.4 74.4h0.9M201.0 75.9h0.9M198.0 75.0h0.9M187.5 75.8h0.9M203.2 80.7h0.9M187.6 80.9h0.9M177.5 83.4h0.9M197.4 79.9h0.9M203.4 74.4h0.9M181.0 83.6h0.9M178.6 84.1h0.9M182.8 85.4h0.9M194.8 73.8h0.9M202.2 81.2h0.9M196.8 73.9h0.9M193.1 78.2h0.9M197.6 78.8h0.9M208.7 78.0h0.9M197.4 76.0h0.9M183.3 80.7h0.9M193.7 77.5h0.9M185.5 69.4h0.9M188.1 79.4h0.9M193.0 80.9h0.9M185.8 75.1h0.9M190.9 78.9h0.9M191.6 71.8h0.9M198.7 78.9h0.9M183.0 71.5h0.9M180.6 83.3h0.9M190.1 79.0h0.9M195.5 67.9h0.9M182.1 84.5h0.9M177.8 65.7h0.9M195.6 70.3h0.9M192.3 81.5h0.9M191.0 86.4h0.9M195.8 73.7h0.9M184.7 80.0h0.9M202.3 80.6h0.9M206.2 83.2h0.9M191.7 74.6h0.9M187.9 83.4h0.9M183.9 81.5h0.9M197.5 80.8h0.9M192.4 69.2h0.9M183.4 81.1h0.9M188.5 82.1h0.9M180.4 88.3h0.9M180.8 81.0h0.9M184.3 79.2h0.9M184.1 69.5h0.9M195.6 81.3h0.9M183.2 68.2h0.9M184.2 75.5h0.9M193.5 75.1h0.9M197.7 69.8h0.9M192.5 73.8h0.9M202.2 79.2h0.9M179.6 74.4h0.9M184.2 76.1h0.9M182.3 82.0h0.9M184.5 71.3h0.9M205.3 77.4h0.9M206.5 77.9h0.9M199.1 72.7h0.9M194.4 78.2h0.9M188.4 72.0h0.9M185.6 88.6h0.9M189.0 79.0h0.9M192.0 76.0h0.9M187.1 75.3h0.9M183.6 68.6h0.9M196.9 83.2h0.9M183.5 76.3h0.9M187.2 79.4h0.9M183.2 82.8h0.9M200.9 85.4h0.9M208.5 72.0h0.9M184.8 77.3h0.9M189.8 74.9h0.9M191.9 81.6h0.9M185.6 61.3h0.9M200.0 75.9h0.9M196.8 75.7h0.9M184.4 69.2h0.9M199.2 71.5h0.9M192.7 80.1h0.9M186.2 72.2h0.9M203.5 72.8h0.9M206.8 75.8h0.9M208.6 76.9h0.9M180.1 89.8h0.9M178.6 76.5h0.9M190.2 81.0h0.9M188.7 76.6h0.9M196.3 72.7h0.9M193.0 76.0h0.9M182.5 79.1h0.9M178.4 71.6h0.9M177.7 83.7h0.9M197.6 78.1h0.9M184.8 79.3h0.9M188.8 89.4h0.9M178.6 85.8h0.9M187.8 79.3h0.9M206.9 71.5h0.9M209.1 79.3h0.9M186.4 70.9h0.9M192.7 74.6h0.9M188.6 71.2h0.9M205.3 70.7h0.9M188.3 75.0h0.9M194.2 82.3h0.9M193.7 72.8h0.9M188.3 85.2h0.9M184.6 73.2h0.9M207.8 76.2h0.9M188.9 60.3h0.9M186.0 72.4h0.9M181.3 60.6h0.9M197.1 77.2h0.9M208.3 74.1h0.9M195.3 78.1h0.9M181.4 81.4h0.9M202.2 73.2h0.9M182.7 75.7h0.9M201.3 70.2h0.9M191.8 70.8h0.9M201.0 78.4h0.9M186.3 88.1h0.9M186.2 74.4h0.9M179.4 65.0h0.9M180.2 74.6h0.9M196.8 79.5h0.9M203.6 69.6h0.9M204.2 76.7h0.9M179.5 76.2h0.9M186.6 73.6h0.9M194.4 79.7h0.9M206.0 79.8h0.9M185.9 79.7h0.9M183.0 82.9h0.9M180.6 77.8h0.9M177.5 81.8h0.9M179.2 74.6h0.9M196.3 74.8h0.9M196.2 82.0h0.9M196.2 73.0h0.9M182.1 83.9h0.9M185.7 81.6h0.9M189.2 82.3h0.9M200.6 77.3h0.9M190.8 67.2h0.9M199.1 84.7h0.9M181.4 77.6h0.9M194.8 71.6h0.9M179.5 75.6h0.9M196.0 69.3h0.9M207.7 75.2h0.9M189.1 72.6h0.9M189.9 73.2h0.9M210.3 81.8h0.9M202.1 73.0h0.9M188.8 76.7h0.9M181.6 70.9h0.9M184.0 85.6h0.9M178.0 84.7h0.9M180.4 60.4h0.9M194.8 79.1h0.9M182.8 77.0h0.9M202.1 73.5h0.9M196.2 77.8h0.9M189.5 71.2h0.9M181.9 74.7h0.9M202.4 76.3h0.9M199.2 73.1h0.9M190.5 78.8h0.9M194.7 83.2h0.9M180.1 86.3h0.9M194.8 74.7h0.9M178.3 75.8h0.9M204.1 84.5h0.9M206.1 75.9h0.9M180.8 74.4h0.9M181.4 67.5h0.9M191.4 74.0h0.9M192.3 79.3h0.9M189.9 73.5h0.9M179.4 79.8h0.9M192.2 75.1h0.9M180.1 81.8h0.9M187.3 76.8h0.9M181.8 80.8h0.9M186.2 74.6h0.9M178.9 73.9h0.9M184.8 75.6h0.9M204.4 68.5h0.9M182.1 71.7h0.9M197.1 81.1h0.9M189.6 71.3h0.9M209.5 79.0h0.9M185.2 72.3h0.9M186.4 75.4h0.9M180.1 73.5h0.9M199.3 78.9h0.9M189.3 81.8h0.9M201.0 80.6h0.9M178.1 86.3h0.9M189.7 82.8h0.9M185.6 70.9h0.9M211.4 71.2h0.9M190.8 80.3h0.9M183.3 74.6h0.9M192.3 66.5h0.9M181.0 77.5h0.9M204.1 69.1h0.9M177.7 72.8h0.9M200.9 78.8h0.9M200.5 77.3h0.9M192.7 77.1h0.9M189.0 85.3h0.9M189.6 65.7h0.9M196.2 83.2h0.9M186.8 68.5h0.9M201.0 77.3h0.9M194.0 70.8h0.9M180.4 84.1h0.9M182.4 70.4h0.9M199.9 78.5h0.9M179.2 70.8h0.9M185.4 67.1h0.9M183.5 81.0h0.9M206.8 73.6h0.9M196.7 78.3h0.9M199.6 81.6h0.9M187.3 84.6h0.9M193.1 83.8h0.9M180.1 76.2h0.9M199.8 73.3h0.9M190.8 87.7h0.9M211.3 81.9h0.9M195.7 85.1h0.9M178.0 82.2h0.9M182.1 75.8h0.9M199.4 70.1h0.9M178.7 72.2h0.9M206.4 80.3h0.9M204.2 85.3h0.9M190.7 75.2h0.9M185.5 81.6h0.9M193.1 81.5h0.9M189.6 76.2h0.9M206.8 82.7h0.9M201.2 74.2h0.9M187.9 78.2h0.9M205.1 78.6h0.9M180.3 88.9h0.9M188.1 66.3h0.9M181.2 70.8h0.9M194.0 71.0h0.9M184.8 76.9h0.9M188.6 71.8h0.9M181.2 84.8h0.9M204.8 72.5h0.9M178.5 83.4h0.9M191.2 71.7h0.9M196.1 72.7h0.9M197.7 77.6h0.9M181.1 82.2h0.9M189.0 72.7h0.9M183.9 77.5h0.9M190.3 74.8h0.9M180.9 75.1h0.9M201.9 72.2h0.9M195.4 75.4h0.9M183.7 82.7h0.9M182.5 82.3h0.9M185.2 81.0h0.9M185.0 76.0h0.9M183.8 73.9h0.9M179.1 68.8h0.9M195.0 87.0h0.9M179.4 81.5h0.9M188.6 72.2h0.9M187.8 72.1h0.9M197.1 79.9h0.9M184.7 81.3h0.9M207.1 74.1h0.9M190.8 87.8h0.9M188.5 69.6h0.9M182.9 72.8h0.9M202.9 70.3h0.9M192.1 81.6h0.9M177.8 67.7h0.9M203.6 77.7h0.9M184.4 84.2h0.9M195.3 77.7h0.9M199.4 71.5h0.9M194.3 77.2h0.9M198.7 71.5h0.9M181.3 80.6h0.9M194.1 74.3h0.9M177.8 76.7h0.9M194.4 80.6h0.9M203.8 82.8h0.9M178.7 76.5h0.9M190.4 69.8h0.9M186.6 76.4h0.9M181.9 79.0h0.9M195.7 84.8h0.9M191.1 78.4h0.9M178.5 70.0h0.9M184.2 84.4h0.9M189.4 78.5h0.9M193.3 81.0h0.9M181.7 76.5h0.9M185.3 79.2h0.9M191.6 79.4h0.9M181.0 77.3h0.9M193.7 80.2h0.9M180.3 69.6h0.9M198.7 80.4h0.9M186.6 77.6h0.9M192.7 73.4h0.9M183.9 75.9h0.9M194.4 73.5h0.9M177.7 77.1h0.9M186.7 80.7h0.9M188.6 75.2h0.9M189.0 82.8h0.9M188.2 71.6h0.9M198.6 75.0h0.9M194.7 74.9h0.9M194.3 74.8h0.9M202.9 77.1h0.9M192.6 78.3h0.9M210.0 76.6h0.9M204.6 79.3h0.9M178.4 70.8h0.9M184.4 71.0h0.9M198.4 76.2h0.9M186.8 84.2h0.9M196.9 78.3h0.9M190.6 79.8h0.9M196.7 67.0h0.9M196.5 73.4h0.9M196.2 84.3h0.9M196.7 77.8h0.9M181.4 72.9h0.9M202.0 70.9h0.9M180.7 74.0h0.9M181.9 72.7h0.9M186.0 82.6h0.9M202.0 77.1h0.9M198.6 79.7h0.9M179.7 78.9h0.9M198.9 75.3h0.9M196.5 84.5h0.9M201.0 76.5h0.9M179.4 73.2h0.9M200.7 79.6h0.9M181.9 77.8h0.9M189.2 86.8h0.9M182.5 88.3h0.9M202.3 70.8h0.9M194.2 86.6h0.9M197.3 78.8h0.9M194.2 80.4h0.9M187.8 82.9h0.9M179.5 81.4h0.9M200.5 78.2h0.9M184.0 74.2h0.9M204.7 71.9h0.9M181.8 79.9h0.9M192.8 81.1h0.9M199.6 65.6h0.9M189.4 72.5h0.9M197.3 80.1h0.9M183.4 66.2h0.9M189.3 79.0h0.9M210.2 74.3h0.9M197.1 86.0h0.9M189.3 71.1h0.9M193.0 72.2h0.9M198.8 72.6h0.9M201.6 76.1h0.9M206.5 78.2h0.9M178.2 79.2h0.9M196.3 80.6h0.9M186.1 62.4h0.9M193.3 78.6h0.9M190.5 73.1h0.9M194.0 75.3h0.9M202.8 77.3h0.9M191.2 77.9h0.9M194.3 80.3h0.9M183.1 81.4h0.9M197.8 67.9h0.9M185.2 81.2h0.9M210.1 69.6h0.9M206.7 82.3h0.9M177.9 70.7h0.9M187.8 88.3h0.9M208.9 80.4h0.9M202.1 74.0h0.9M179.4 64.0h0.9M195.1 72.1h0.9M179.8 81.6h0.9M187.0 74.3h0.9M181.0 77.6h0.9M205.7 71.0h0.9M193.2 74.6h0.9M185.5 68.3h0.9M198.4 68.7h0.9M193.5 75.1h0.9M186.4 74.9h0.9M202.1 76.1h0.9M203.4 80.5h0.9M185.2 82.5h0.9M181.4 74.9h0.9M181.7 78.6h0.9M197.6 83.1h0.9M205.6 80.6h0.9M204.1 79.4h0.9M190.7 71.5h0.9M179.5 85.8h0.9M187.6 74.1h0.9M192.4 68.0h0.9M179.7 74.0h0.9M189.3 83.5h0.9M185.5 79.7h0.9M192.3 75.8h0.9M202.2 78.0h0.9M194.8 80.0h0.9M182.5 72.3h0.9M189.0 81.9h0.9M202.3 82.6h0.9M186.6 72.8h0.9M192.2 83.2h0.9M182.4 87.5h0.9M208.9 71.4h0.9M190.9 75.9h0.9M204.9 77.9h0.9M185.4 74.3h0.9M185.6 83.2h0.9M183.9 85.1h0.9M185.3 83.6h0.9M201.3 84.0h0.9M182.9 75.0h0.9M203.8 79.6h0.9M199.4 82.5h0.9M199.0 70.5h0.9M181.5 78.6h0.9M198.9 87.8h0.9M201.0 80.7h0.9M200.3 73.6h0.9M179.0 82.8h0.9M188.8 85.3h0.9M202.2 72.5h0.9M183.2 74.6h0.9M201.6 77.5h0.9M192.0 76.9h0.9M179.6 76.6h0.9M182.8 73.2h0.9M182.3 82.7h0.9M191.8 78.3h0.9M177.8 77.7h0.9M201.6 75.1h0.9M184.4 80.4h0.9M177.7 72.9h0.9M190.8 76.7h0.9M202.1 73.8h0.9M178.7 77.1h0.9M182.8 83.9h0.9M179.9 86.2h0.9M184.8 73.0h0.9M206.1 68.6h0.9M196.6 73.6h0.9M205.6 79.7h0.9M196.4 76.8h0.9M192.3 75.5h0.9M181.0 78.5h0.9M202.1 77.5h0.9M211.2 79.4h0.9M186.4 78.4h0.9M194.0 80.7h0.9M188.5 81.8h0.9M184.5 80.1h0.9M194.2 73.3h0.9M207.7 75.3h0.9M194.5 73.4h0.9M198.3 73.3h0.9M189.0 86.0h0.9M187.3 79.2h0.9M191.5 81.5h0.9M201.6 75.1h0.9M192.1 83.7h0.9M185.9 73.0h0.9M199.1 81.3h0.9M195.1 76.2h0.9M192.4 75.1h0.9M209.1 72.1h0.9M211.0 74.0h0.9M189.6 71.9h0.9M178.2 71.3h0.9M193.6 75.6h0.9M188.4 77.8h0.9M183.6 72.2h0.9M196.4 72.8h0.9M180.2 77.7h0.9M200.9 78.2h0.9M187.1 71.6h0.9M182.2 90.2h0.9M204.1 78.5h0.9M208.8 79.2h0.9M201.2 74.3h0.9M197.4 78.9h0.9M180.2 90.4h0.9M179.1 78.4h0.9M177.6 79.9h0.9M186.8 81.0h0.9M195.1 79.7h0.9M198.8 84.2h0.9M182.1 75.4h0.9M192.6 69.0h0.9M181.4 78.9h0.9M184.5 82.6h0.9M203.6 78.0h0.9M180.4 75.4h0.9M201.3 81.0h0.9M185.6 75.4h0.9M193.6 89.3h0.9M185.9 76.7h0.9M181.4 86.0h0.9M186.1 76.3h0.9M197.9 86.8h0.9M207.2 75.6h0.9M179.4 69.3h0.9M184.8 77.5h0.9M197.3 73.6h0.9M201.0 74.7h0.9M190.7 72.7h0.9M190.2 78.5h0.9M198.1 75.6h0.9M178.3 75.6h0.9M200.1 74.3h0.9M199.6 74.8h0.9M178.0 69.7h0.9M205.9 77.7h0.9M188.3 74.9h0.9M201.0 81.1h0.9M191.3 73.3h0.9M189.2 77.5h0.9M185.7 77.9h0.9M180.7 71.4h0.9M187.0 81.1h0.9M203.1 80.1h0.9M184.0 71.8h0.9M194.4 78.3h0.9M177.7 81.7h0.9M184.6 67.1h0.9M189.4 70.3h0.9M183.8 82.0h0.9M185.8 83.7h0.9M196.3 86.6h0.9M183.6 77.8h0.9M196.7 80.1h0.9M185.5 80.9h0.9M186.9 75.1h0.9M190.8 83.2h0.9M197.0 72.2h0.9M182.3 72.4h0.9M183.6 80.7h0.9M181.8 72.7h0.9M183.5 70.1h0.9M192.5 90.2h0.9M185.3 73.6h0.9M178.9 81.7h0.9M178.5 82.9h0.9M183.9 78.0h0.9M186.2 76.7h0.9M191.2 76.1h0.9M187.8 77.9h0.9M194.8 69.9h0.9M192.0 75.7h0.9M188.2 80.3h0.9M207.2 77.1h0.9M187.0 71.6h0.9M189.0 74.4h0.9M188.4 84.6h0.9M201.1 69.6h0.9M196.3 75.1h0.9M184.9 73.9h0.9M204.2 78.1h0.9M203.1 76.0h0.9M179.9 70.4h0.9M203.6 85.7h0.9M183.2 75.0h0.9M197.8 71.7h0.9M202.4 80.1h0.9M187.1 76.0h0.9M192.6 75.7h0.9M179.7 71.7h0.9M190.1 81.9h0.9M183.8 76.2h0.9M190.7 68.5h0.9M199.4 75.3h0.9M182.3 86.0h0.9M190.2 84.9h0.9M189.2 85.4h0.9M185.5 77.7h0.9M179.1 85.5h0.9M201.5 75.0h0.9M205.5 72.8h0.9M199.0 80.9h0.9M178.6 81.9h0.9M180.9 75.3h0.9M182.8 83.9h0.9M183.0 81.3h0.9M191.4 74.7h0.9M179.9 75.9h0.9M185.0 79.5h0.9M192.6 71.2h0.9M204.7 77.9h0.9M181.8 73.2h0.9M206.6 76.5h0.9M187.8 77.4h0.9M190.9 85.9h0.9M201.6 77.2h0.9M193.6 77.0h0.9M191.7 71.4h0.9M180.7 74.8h0.9M198.2 79.8h0.9M190.5 80.3h0.9M182.5 75.3h0.9M206.7 74.2h0.9M180.7 73.2h0.9M198.5 78.0h0.9M182.9 76.0h0.9M193.3 74.1h0.9M185.9 89.3h0.9M204.2 79.8h0.9M180.7 62.8h0.9M186.9 83.5h0.9M184.9 63.7h0.9M186.8 62.7h0.9M177.7 65.1h0.9M177.1 62.9h0.9M179.6 55.9h0.9M184.3 56.3h0.9M182.0 67.2h0.9M185.0 61.8h0.9M180.0 55.8h0.9M198.4 60.4h0.9M187.5 55.4h0.9M190.8 57.2h0.9M185.8 58.7h0.9M177.3 62.0h0.9M187.1 67.7h0.9M192.2 58.2h0.9M179.1 59.5h0.9M179.1 59.6h0.9M177.9 62.1h0.9M185.9 60.9h0.9M187.8 60.4h0.9M190.9 64.1h0.9M191.8 52.3h0.9M183.0 63.0h0.9M178.3 58.5h0.9M183.2 53.7h0.9M184.1 61.0h0.9M176.2 65.2h0.9M181.8 62.1h0.9M177.9 59.0h0.9M194.8 63.7h0.9M187.0 61.3h0.9M189.2 59.8h0.9M179.8 60.1h0.9M177.4 59.5h0.9M186.2 63.5h0.9M187.4 59.5h0.9M184.3 65.5h0.9M179.8 53.5h0.9M181.1 58.3h0.9M176.3 69.7h0.9M178.4 66.3h0.9M178.3 69.7h0.9M192.8 58.2h0.9M185.4 53.7h0.9M178.3 59.2h0.9M180.8 51.1h0.9M188.4 60.1h0.9M186.0 59.8h0.9M177.4 57.3h0.9M186.6 57.1h0.9M192.7 60.8h0.9M181.5 53.1h0.9M178.1 58.7h0.9M179.4 61.9h0.9M180.7 58.3h0.9M176.3 61.5h0.9M178.0 57.7h0.9M178.7 64.3h0.9M198.8 61.2h0.9M184.6 56.0h0.9M191.2 61.6h0.9M199.8 59.3h0.9M176.7 64.1h0.9M176.2 58.8h0.9M192.0 57.0h0.9M180.4 53.5h0.9M176.4 61.3h0.9M179.2 65.4h0.9M193.1 61.0h0.9M179.4 63.1h0.9M188.7 63.7h0.9M193.6 60.0h0.9M194.9 64.8h0.9M177.6 64.0h0.9M187.0 57.6h0.9M179.3 64.7h0.9M191.4 60.2h0.9M177.2 66.7h0.9M179.0 65.3h0.9M183.1 61.1h0.9M181.0 61.9h0.9M176.0 66.4h0.9M180.7 66.4h0.9M178.9 61.2h0.9M191.7 62.0h0.9M184.5 66.0h0.9M188.2 58.0h0.9M179.5 61.6h0.9M185.2 60.7h0.9M198.3 60.8h0.9M187.4 59.5h0.9M176.8 58.1h0.9M191.4 55.5h0.9M192.7 65.2h0.9M187.3 62.8h0.9M179.1 62.0h0.9M190.0 70.7h0.9M198.8 58.4h0.9M185.3 64.1h0.9M198.8 56.0h0.9M195.0 61.6h0.9M192.6 60.4h0.9M188.8 54.9h0.9M198.4 59.0h0.9M183.4 66.0h0.9M176.7 66.6h0.9M194.5 52.2h0.9M183.5 56.6h0.9M193.2 54.5h0.9M177.4 62.8h0.9M179.0 63.1h0.9M188.2 57.5h0.9M182.9 57.3h0.9M178.8 54.3h0.9M177.7 60.2h0.9M189.0 63.7h0.9M181.9 65.1h0.9M177.1 54.7h0.9M191.9 61.2h0.9M195.4 62.7h0.9M180.4 65.1h0.9M177.9 53.8h0.9M180.7 60.9h0.9M177.2 64.1h0.9M176.9 62.9h0.9M177.0 66.6h0.9M182.4 60.7h0.9M183.7 60.7h0.9M188.7 62.3h0.9M189.6 55.2h0.9M184.8 64.1h0.9M201.0 59.3h0.9M181.5 63.3h0.9M175.9 63.7h0.9M178.7 66.8h0.9M180.3 62.2h0.9M179.3 68.2h0.9M197.4 62.6h0.9M186.5 65.3h0.9M177.0 58.0h0.9M191.3 56.8h0.9M177.5 65.6h0.9M178.8 59.2h0.9M177.6 60.0h0.9M186.0 61.2h0.9M183.3 60.8h0.9M186.8 60.0h0.9M179.8 53.2h0.9M189.1 58.6h0.9M176.5 61.6h0.9M188.8 53.7h0.9M182.4 51.0h0.9M186.6 56.4h0.9M194.2 60.5h0.9M183.9 62.2h0.9M176.6 62.4h0.9M179.9 56.1h0.9M178.6 63.4h0.9M178.1 60.4h0.9M196.8 56.7h0.9M191.6 65.4h0.9M178.1 66.8h0.9M181.0 61.0h0.9M182.4 62.8h0.9M199.3 60.1h0.9M176.7 65.3h0.9M183.0 60.4h0.9M193.9 55.5h0.9M176.7 59.1h0.9M190.1 60.3h0.9M175.8 56.5h0.9M175.6 61.1h0.9M178.5 67.4h0.9M187.7 55.4h0.9M180.1 65.7h0.9M183.4 60.7h0.9M191.8 60.2h0.9M186.6 59.5h0.9M184.8 60.8h0.9M183.7 64.5h0.9M195.9 58.6h0.9M192.6 63.4h0.9M184.6 60.1h0.9M188.3 66.3h0.9M190.4 64.4h0.9M200.8 63.5h0.9M182.4 60.7h0.9M189.0 60.4h0.9M185.3 60.8h0.9M191.0 67.7h0.9M188.6 57.8h0.9M199.3 56.0h0.9M192.4 56.5h0.9M180.3 62.7h0.9M196.7 60.8h0.9M178.1 57.4h0.9M180.4 61.3h0.9M188.2 56.2h0.9M193.1 56.2h0.9M193.0 58.7h0.9M188.6 58.6h0.9M181.3 54.7h0.9M181.1 55.3h0.9M179.8 52.6h0.9M179.2 60.1h0.9M183.0 61.4h0.9M196.1 61.6h0.9M178.0 64.2h0.9M200.3 58.0h0.9M190.6 60.5h0.9M183.0 59.4h0.9M176.7 57.5h0.9M192.5 62.0h0.9M181.1 61.8h0.9M179.1 58.6h0.9M186.5 63.3h0.9M195.8 56.2h0.9M184.7 48.6h0.9M179.2 63.0h0.9M199.5 60.2h0.9M190.9 63.5h0.9M176.9 62.0h0.9M182.4 57.1h0.9M179.8 60.7h0.9M189.4 55.0h0.9M179.0 55.9h0.9M176.5 60.5h0.9M181.0 58.5h0.9M194.3 63.3h0.9M184.1 59.8h0.9M175.6 59.1h0.9M189.8 54.7h0.9M198.8 60.7h0.9M180.7 63.6h0.9M186.4 60.1h0.9M184.3 59.0h0.9M186.8 57.5h0.9M179.8 56.9h0.9M177.2 58.8h0.9M180.7 62.6h0.9M178.6 64.7h0.9M177.9 65.3h0.9M183.5 60.9h0.9M181.7 57.8h0.9M188.1 62.4h0.9M183.4 64.6h0.9M176.0 57.4h0.9M185.1 64.1h0.9M182.5 62.2h0.9M182.9 63.1h0.9M182.9 59.9h0.9M183.2 56.6h0.9M196.1 59.9h0.9M181.9 61.0h0.9M188.0 63.0h0.9M199.8 61.4h0.9M178.3 59.3h0.9M199.6 59.1h0.9M180.9 60.0h0.9M192.6 61.5h0.9M194.2 60.8h0.9M178.7 63.0h0.9M185.2 62.8h0.9M184.2 59.4h0.9M201.6 58.5h0.9M185.8 56.1h0.9M177.7 66.5h0.9M178.6 57.6h0.9M181.4 57.4h0.9M178.3 53.7h0.9M195.6 63.2h0.9M182.8 65.6h0.9M182.4 63.9h0.9M182.9 60.1h0.9M193.2 60.9h0.9M176.4 65.4h0.9M177.5 73.4h0.9M189.0 68.8h0.9M177.9 67.3h0.9M187.5 55.1h0.9M197.9 59.1h0.9M187.1 56.6h0.9M185.1 55.4h0.9M176.2 61.7h0.9M187.9 58.4h0.9M182.3 59.8h0.9M182.6 62.0h0.9M187.2 63.5h0.9M180.3 55.7h0.9M185.0 61.1h0.9M183.9 61.1h0.9M188.7 62.9h0.9M186.0 60.9h0.9M175.9 67.6h0.9M179.3 58.9h0.9M195.4 57.4h0.9M184.4 55.1h0.9M176.7 56.3h0.9M186.6 57.0h0.9M197.4 59.6h0.9M180.0 59.8h0.9M189.7 59.9h0.9M189.9 56.5h0.9M197.8 64.5h0.9M184.1 56.7h0.9M194.0 57.9h0.9M184.7 56.3h0.9M190.6 64.1h0.9M176.9 55.7h0.9M182.3 63.6h0.9M176.3 62.3h0.9M184.4 63.5h0.9M178.8 57.4h0.9M191.5 58.9h0.9M180.9 67.9h0.9M193.7 61.3h0.9M193.8 62.5h0.9M177.3 61.7h0.9M202.0 54.9h0.9M196.4 59.9h0.9M176.1 59.9h0.9M192.3 62.4h0.9M193.3 59.1h0.9M178.5 53.7h0.9M190.1 61.4h0.9M179.8 64.6h0.9M186.9 62.5h0.9M177.0 59.4h0.9M183.2 57.5h0.9M181.0 55.5h0.9M191.9 55.6h0.9M181.9 58.8h0.9M177.2 64.2h0.9M178.5 56.3h0.9M183.8 64.0h0.9M192.0 54.5h0.9M197.1 56.2h0.9M194.9 58.3h0.9M190.9 57.7h0.9M177.6 57.0h0.9M177.1 62.1h0.9M180.0 66.9h0.9M179.7 63.5h0.9M184.1 58.5h0.9M186.4 60.6h0.9M187.2 61.3h0.9M185.7 53.1h0.9M183.2 52.2h0.9M183.5 57.1h0.9M177.4 66.5h0.9M191.6 67.8h0.9M176.7 62.2h0.9M180.0 50.7h0.9M184.1 54.5h0.9M179.4 61.7h0.9M181.3 62.4h0.9M179.3 64.5h0.9M189.2 64.4h0.9M191.5 55.1h0.9M192.7 65.5h0.9M190.2 56.4h0.9M177.0 58.9h0.9M180.4 56.6h0.9M184.5 58.6h0.9M178.8 61.7h0.9M188.8 59.5h0.9M178.6 63.7h0.9M191.1 59.1h0.9M186.7 57.2h0.9M193.9 61.6h0.9M177.1 66.0h0.9M180.9 63.1h0.9M175.9 57.4h0.9M190.1 59.4h0.9M185.1 58.0h0.9M192.1 68.7h0.9M180.9 55.9h0.9M183.1 53.8h0.9M191.5 57.3h0.9M179.6 58.6h0.9M182.1 59.6h0.9M187.4 59.9h0.9M177.2 62.8h0.9M176.1 59.9h0.9M179.2 53.6h0.9M180.9 57.4h0.9M182.6 54.8h0.9M198.7 62.4h0.9M175.8 62.7h0.9M178.7 62.6h0.9M188.2 62.4h0.9M187.9 53.9h0.9M192.1 58.5h0.9M179.1 54.5h0.9M175.9 58.8h0.9M194.7 62.8h0.9M183.2 63.7h0.9M180.7 59.2h0.9M196.8 62.0h0.9M189.2 63.9h0.9M199.3 59.1h0.9M185.8 68.2h0.9M184.9 62.8h0.9M192.0 60.8h0.9M178.5 55.1h0.9M184.2 62.3h0.9M179.4 62.2h0.9M180.8 66.3h0.9M176.3 67.8h0.9M184.3 64.0h0.9M191.4 53.6h0.9M182.2 60.1h0.9M183.8 55.5h0.9M178.2 59.7h0.9M191.9 58.8h0.9M176.1 62.6h0.9M196.6 62.8h0.9M197.7 54.5h0.9M194.1 59.9h0.9M191.0 59.4h0.9M186.4 59.4h0.9M187.4 68.1h0.9M198.2 62.7h0.9M191.9 60.3h0.9M187.0 71.1h0.9M191.4 55.9h0.9M198.2 58.2h0.9M181.8 58.0h0.9M178.0 57.3h0.9M182.3 56.9h0.9M181.8 62.8h0.9M182.8 50.6h0.9M178.8 63.5h0.9M176.9 58.7h0.9M181.3 59.3h0.9M191.4 60.5h0.9M199.0 64.1h0.9M182.8 62.7h0.9M185.0 51.3h0.9M177.6 61.0h0.9M194.8 65.8h0.9M193.6 60.5h0.9M179.4 63.8h0.9M188.3 55.5h0.9M178.3 64.7h0.9M183.2 61.2h0.9M178.0 55.4h0.9M200.2 59.5h0.9M181.3 63.7h0.9M192.4 61.1h0.9M176.5 58.3h0.9M182.6 63.0h0.9M183.1 62.6h0.9M179.0 61.1h0.9M181.9 53.7h0.9M180.3 58.3h0.9M187.6 61.5h0.9M194.9 63.5h0.9M185.0 65.0h0.9M180.8 62.1h0.9M179.9 65.5h0.9M178.4 54.8h0.9M179.7 64.9h0.9M180.8 55.9h0.9M181.4 63.3h0.9M181.4 61.2h0.9M179.6 55.3h0.9M183.5 54.2h0.9M184.8 54.0h0.9M183.3 61.4h0.9M187.5 66.2h0.9M182.7 58.1h0.9M177.4 60.8h0.9M197.1 57.5h0.9M191.2 62.8h0.9M182.0 60.4h0.9M185.3 62.6h0.9M185.2 61.4h0.9M179.9 59.1h0.9M179.2 62.4h0.9M192.2 56.9h0.9M192.0 60.1h0.9M184.1 61.9h0.9M184.6 57.4h0.9M188.0 61.9h0.9M183.7 69.7h0.9M176.9 58.1h0.9M177.3 57.1h0.9M177.7 62.0h0.9M193.3 62.6h0.9M182.6 57.7h0.9M188.9 63.0h0.9M184.8 65.6h0.9M180.8 55.3h0.9M177.9 64.5h0.9M176.6 57.1h0.9M179.8 58.3h0.9M181.6 63.8h0.9M181.8 64.4h0.9M182.5 62.2h0.9M182.9 58.9h0.9M178.4 63.0h0.9M180.3 65.2h0.9M179.0 56.5h0.9M185.4 56.4h0.9M178.6 58.3h0.9M189.0 58.7h0.9M180.4 53.4h0.9M178.0 70.9h0.9M175.7 54.6h0.9M199.8 62.5h0.9M180.0 67.8h0.9M194.6 57.2h0.9M191.4 58.1h0.9M177.1 61.1h0.9M185.6 63.6h0.9M184.9 59.6h0.9M183.0 71.5h0.9M177.8 59.2h0.9M195.4 63.4h0.9M181.7 52.4h0.9M183.0 56.6h0.9M182.5 60.9h0.9M178.7 68.9h0.9M185.3 56.6h0.9M178.8 65.0h0.9M156.6 48.4h0.9M156.3 46.6h0.9M157.3 85.7h0.9M157.5 69.3h0.9M156.0 75.3h0.9M156.4 62.8h0.9M156.8 81.6h0.9M155.7 49.5h0.9M159.0 44.6h0.9M157.9 53.0h0.9M157.1 54.4h0.9M156.9 49.5h0.9M157.5 75.5h0.9M156.9 78.9h0.9M156.2 47.8h0.9M155.4 49.5h0.9M157.6 53.2h0.9M155.7 88.8h0.9M156.0 44.5h0.9M155.8 56.5h0.9M157.5 69.4h0.9M156.4 71.3h0.9M157.7 75.5h0.9M157.7 78.7h0.9M158.3 49.0h0.9M156.1 57.7h0.9M156.3 67.0h0.9M155.8 45.3h0.9M158.3 59.5h0.9M155.6 74.3h0.9M155.3 40.5h0.9M156.2 65.8h0.9M158.2 46.8h0.9M157.6 62.8h0.9M157.4 76.1h0.9M155.2 74.0h0.9M157.0 79.8h0.9M158.3 47.4h0.9M157.7 57.9h0.9M158.4 77.5h0.9M157.8 76.0h0.9M157.1 83.1h0.9M157.7 73.2h0.9M156.5 54.6h0.9M156.4 80.3h0.9M158.6 59.7h0.9M156.0 80.0h0.9M157.4 75.7h0.9M158.3 75.5h0.9M157.0 39.3h0.9M155.6 52.0h0.9M158.2 68.2h0.9M157.3 76.7h0.9M155.4 84.3h0.9M158.9 90.6h0.9M158.6 84.6h0.9M158.1 38.8h0.9M156.9 62.5h0.9M155.5 62.7h0.9M157.5 54.4h0.9M158.5 44.6h0.9M156.7 56.8h0.9M157.3 74.0h0.9M158.3 70.7h0.9M158.5 59.8h0.9M158.1 45.7h0.9M156.1 66.2h0.9M155.6 67.9h0.9M156.0 49.9h0.9M157.9 49.9h0.9M157.0 74.4h0.9M157.2 61.2h0.9M158.6 41.4h0.9M155.5 61.9h0.9M155.3 84.2h0.9M157.4 48.4h0.9M158.0 79.7h0.9M156.4 71.1h0.9M156.1 87.2h0.9M157.9 49.7h0.9M155.7 52.4h0.9M158.6 54.0h0.9M155.3 66.4h0.9M156.8 78.0h0.9M158.6 55.7h0.9M155.5 75.6h0.9M155.6 72.7h0.9M158.6 68.0h0.9M162.7 60.5h0.9M161.5 63.6h0.9M164.1 69.9h0.9M171.3 44.0h0.9M164.9 77.8h0.9M175.1 57.9h0.9M168.2 49.8h0.9M170.2 46.1h0.9M158.6 44.6h0.9M169.3 49.3h0.9M173.9 79.9h0.9M163.2 73.1h0.9M160.6 48.5h0.9M171.0 87.1h0.9M167.6 63.3h0.9M164.4 86.9h0.9M171.3 71.0h0.9M165.4 41.5h0.9M168.2 69.5h0.9M171.2 64.7h0.9M166.2 48.8h0.9M168.7 63.0h0.9M171.3 64.2h0.9M167.5 44.3h0.9M170.7 71.2h0.9M170.7 59.2h0.9M167.8 50.1h0.9M164.7 73.7h0.9M169.5 54.9h0.9M165.1 59.9h0.9M169.8 51.5h0.9M171.0 50.5h0.9M169.3 44.8h0.9M161.4 80.1h0.9M165.2 59.3h0.9M172.6 83.3h0.9M167.8 75.2h0.9M162.6 55.5h0.9M166.4 63.4h0.9M175.4 87.1h0.9M162.0 43.4h0.9M173.4 77.7h0.9M165.1 72.8h0.9M169.5 87.3h0.9M174.3 64.7h0.9M167.1 87.4h0.9M172.7 48.7h0.9M168.7 44.6h0.9M170.0 48.8h0.9M170.3 64.4h0.9M169.4 52.3h0.9M164.3 55.2h0.9M164.1 78.4h0.9M164.0 58.2h0.9M164.9 77.7h0.9M171.0 72.3h0.9M165.2 41.8h0.9M175.0 84.0h0.9M167.5 45.1h0.9M192.8 78.9h0.9M198.8 50.7h0.9M223.1 88.0h0.9M187.7 46.2h0.9M215.8 56.2h0.9M195.1 43.8h0.9M210.2 75.6h0.9M224.6 40.8h0.9M221.0 41.1h0.9M215.5 75.9h0.9M189.4 86.6h0.9M209.6 38.6h0.9M182.1 84.9h0.9M209.5 85.3h0.9M211.7 73.2h0.9M201.2 83.3h0.9M213.8 82.7h0.9M179.5 56.9h0.9M199.7 47.4h0.9M192.9 83.1h0.9M197.0 64.5h0.9M198.0 45.9h0.9M178.4 52.7h0.9M224.5 50.9h0.9M180.0 74.8h0.9M214.7 37.2h0.9M211.8 65.6h0.9M192.4 73.9h0.9M219.6 54.8h0.9M189.1 43.2h0.9M213.6 37.6h0.9M199.0 83.7h0.9M179.5 83.8h0.9M221.5 52.9h0.9M198.6 76.3h0.9M204.7 56.4h0.9M203.3 90.7h0.9M225.9 72.6h0.9M195.2 50.3h0.9M210.3 80.8h0.9M198.7 72.2h0.9M213.3 63.4h0.9M217.1 40.3h0.9M197.3 60.3h0.9M196.8 48.7h0.9M225.7 88.0h0.9M208.5 61.7h0.9M217.6 75.7h0.9M208.9 83.0h0.9M198.0 72.5h0.9M179.6 77.9h0.9" stroke="#2a2a2a" stroke-width="0.9" fill="none" opacity="0.33"/>
</g>
</g>
<rect x="153.9" y="12.5" width="78.8" height="80" fill="none" stroke="#7a7a7a" stroke-width="0.9"/>
<path d="M182.1 93.4h0.8M226.2 93.4h0.8M213.2 93.4h0.8M226.7 93.4h0.8M207.4 93.4h0.8M225.7 93.4h0.8M195.1 93.4h0.8M206.3 93.4h0.8M176.4 93.4h0.8M178.3 93.4h0.8M189.7 93.4h0.8M202.1 93.4h0.8M174.2 93.4h0.8M190.8 93.4h0.8M190.8 93.4h0.8M192.0 93.4h0.8M214.4 93.4h0.8M178.8 93.4h0.8M188.7 93.4h0.8M174.4 93.4h0.8M202.3 93.4h0.8M195.8 93.4h0.8M201.0 93.4h0.8M176.8 93.4h0.8M175.3 93.4h0.8M214.3 93.4h0.8" stroke="#222" stroke-width="0.8" fill="none" opacity="0.8"/>
<path d="M153.0 79.0h0.8M153.0 47.7h0.8M153.0 68.3h0.8M153.0 48.4h0.8M153.0 46.9h0.8M153.0 86.2h0.8M153.0 44.1h0.8M153.0 60.0h0.8M153.0 77.2h0.8M153.0 79.4h0.8M153.0 43.1h0.8M153.0 51.0h0.8M153.0 76.4h0.8M153.0 34.1h0.8" stroke="#222" stroke-width="0.8" fill="none" opacity="0.7"/>
<rect x="164.9" y="92.8" width="5" height="1.2" fill="#111"/>
<clipPath id="clip12"><rect x="154.5" y="96.1" width="78.4" height="78.6"/></clipPath>
<g clip-path="url(#clip12)">
<g filter="url(#b6)">
<path d="M169.4 123.5C171.3 123.5 173.9 124.3 175.2 125.7C176.5 127.1 177.1 129.7 177.3 131.8C177.5 133.9 177.0 136.2 176.6 138.3C176.2 140.4 174.9 142.3 175.0 144.1C175.1 145.9 176.8 147.0 177.4 149.3C178.0 151.6 178.8 154.8 178.6 157.8C178.4 160.8 178.2 164.9 176.4 167.3C174.6 169.7 170.7 171.9 168.0 172.1C165.3 172.3 161.8 170.8 160.0 168.7C158.2 166.6 157.6 162.4 157.5 159.3C157.4 156.2 158.3 152.8 159.4 150.3C160.5 147.8 163.3 146.1 163.8 144.1C164.3 142.1 162.6 140.4 162.2 138.3C161.8 136.2 161.2 133.9 161.4 131.8C161.6 129.7 162.3 126.9 163.6 125.5C164.9 124.1 167.5 123.5 169.4 123.5Z" fill="#bcbcbc" stroke="#666" stroke-width="1.6"/>
<ellipse cx="169.6" cy="130.3" rx="4.2" ry="6" fill="#d8d8d8"/><ellipse cx="167.8" cy="159.3" rx="6" ry="8" fill="#d4d4d4"/>
<ellipse cx="167.6" cy="159.8" rx="2.0" ry="3.4" fill="#b0b0b0"/>
</g>
<path d="M200.3 138.5H217.5V120.5H156.3V144.1H175.8" fill="none" stroke="#999" stroke-width="0.6"/>
<rect x="156.3" y="148.1" width="65.5" height="25.2" fill="none" stroke="#999" stroke-width="0.6"/>
<g filter="url(#b3)">
<path d="M164.1 124.2h0.9M159.8 147.3h0.9M159.9 127.1h0.9M178.5 149.2h0.9M158.9 151.1h0.9M159.0 153.2h0.9M179.5 131.9h0.9M177.9 138.2h0.9M160.4 131.1h0.9M178.2 157.6h0.9M180.6 153.6h0.9M165.0 123.0h0.9M174.1 123.9h0.9M162.5 140.2h0.9M177.0 149.5h0.9M161.9 138.1h0.9M177.4 165.4h0.9M176.0 169.5h0.9M162.1 146.6h0.9M158.9 129.5h0.9M165.2 125.1h0.9M162.2 125.5h0.9M174.2 125.9h0.9M158.2 157.7h0.9M175.0 144.0h0.9M176.0 144.2h0.9M180.3 139.6h0.9M165.8 123.8h0.9M180.1 153.1h0.9M175.0 127.5h0.9M177.3 164.9h0.9M175.7 123.0h0.9M158.7 137.4h0.9M169.0 120.0h0.9M160.3 172.6h0.9M176.3 137.7h0.9M161.2 146.3h0.9M180.7 149.4h0.9M178.9 137.7h0.9M161.9 139.5h0.9M166.4 122.9h0.9M162.3 140.7h0.9M157.1 158.0h0.9M158.2 166.6h0.9M159.1 135.9h0.9M165.8 121.9h0.9M160.9 130.3h0.9M176.5 167.5h0.9M160.5 136.4h0.9M177.5 146.7h0.9M172.3 169.1h0.9M180.6 130.8h0.9M162.1 141.1h0.9M178.1 131.6h0.9M172.0 122.5h0.9M158.3 146.4h0.9M176.2 145.4h0.9M161.1 148.5h0.9M156.5 158.0h0.9M177.5 130.8h0.9M165.4 170.4h0.9M165.5 124.4h0.9M177.8 166.4h0.9M163.1 172.5h0.9M164.6 144.2h0.9M179.6 148.6h0.9M174.3 122.7h0.9M179.4 151.0h0.9M183.0 155.9h0.9M173.7 124.1h0.9M159.1 131.2h0.9M178.5 148.3h0.9M162.9 139.2h0.9M175.3 123.6h0.9M162.7 146.0h0.9M161.9 134.7h0.9M176.4 145.9h0.9M160.5 137.8h0.9M175.6 142.3h0.9M173.5 124.1h0.9M160.2 126.5h0.9M157.9 152.1h0.9M176.9 131.7h0.9M158.8 149.4h0.9M167.9 172.2h0.9M165.0 123.5h0.9M162.8 139.7h0.9M165.9 125.1h0.9M179.4 133.3h0.9M178.7 148.5h0.9M157.6 155.5h0.9M162.6 123.9h0.9M161.6 142.2h0.9M156.5 150.8h0.9M177.6 167.6h0.9M159.7 145.0h0.9M157.9 143.9h0.9M177.6 137.2h0.9M169.3 122.5h0.9M181.4 156.0h0.9M179.5 159.7h0.9M179.5 164.3h0.9M165.4 124.3h0.9M160.8 148.6h0.9M164.8 122.3h0.9M159.2 164.9h0.9M164.8 125.4h0.9M164.7 170.5h0.9M175.6 144.4h0.9M176.6 142.8h0.9M164.2 124.0h0.9M163.3 139.1h0.9M161.7 145.4h0.9M179.4 142.9h0.9M160.0 131.1h0.9M180.0 128.4h0.9M166.2 125.1h0.9M163.0 128.3h0.9M163.7 140.9h0.9M172.7 121.1h0.9M158.1 171.3h0.9M163.5 141.1h0.9M178.2 131.0h0.9M176.5 136.1h0.9M176.0 144.0h0.9M177.5 150.8h0.9M161.1 144.2h0.9M157.3 165.4h0.9M158.9 152.5h0.9M162.4 137.0h0.9M158.7 148.1h0.9M157.4 158.9h0.9M171.0 124.6h0.9M181.9 131.3h0.9M179.0 167.9h0.9M161.6 131.8h0.9M160.4 150.3h0.9M156.3 156.3h0.9M158.3 153.4h0.9M178.2 137.2h0.9M168.9 124.4h0.9M162.3 128.4h0.9M159.7 150.4h0.9M180.7 153.8h0.9M175.7 144.7h0.9M176.7 133.9h0.9M161.4 128.5h0.9M179.1 154.8h0.9M178.6 155.4h0.9M167.6 123.5h0.9M178.2 144.9h0.9M175.0 167.8h0.9M168.3 124.4h0.9M172.7 171.3h0.9M167.4 172.6h0.9M174.6 119.9h0.9M177.6 149.1h0.9M179.4 129.8h0.9M175.9 142.6h0.9M161.4 127.6h0.9M176.7 135.1h0.9M163.2 144.0h0.9M170.3 123.4h0.9M177.3 153.0h0.9M160.0 135.9h0.9M163.3 144.1h0.9M160.2 172.4h0.9M155.9 159.3h0.9M167.5 124.2h0.9M162.5 139.0h0.9M178.7 154.5h0.9M162.0 129.8h0.9M178.6 160.9h0.9M159.7 152.5h0.9M160.2 137.4h0.9M162.6 144.1h0.9M156.0 159.1h0.9M176.1 171.3h0.9M176.7 122.8h0.9M176.1 138.6h0.9M176.3 123.6h0.9M178.0 134.2h0.9M177.1 137.8h0.9M164.4 124.9h0.9M178.3 139.4h0.9M163.2 127.1h0.9M170.0 171.1h0.9M159.1 167.7h0.9M176.4 138.5h0.9M179.5 144.0h0.9M159.2 134.5h0.9M174.5 125.8h0.9M158.0 157.8h0.9M176.8 133.1h0.9M170.7 122.2h0.9M168.2 173.6h0.9M162.9 137.2h0.9M163.1 123.0h0.9M162.7 125.2h0.9M169.9 171.5h0.9M160.1 134.6h0.9M178.6 136.3h0.9M176.6 141.4h0.9M175.0 126.0h0.9M159.5 135.8h0.9M163.3 143.8h0.9M177.7 167.8h0.9M164.4 173.5h0.9M162.1 142.9h0.9M167.2 124.4h0.9M177.7 165.5h0.9M176.0 146.4h0.9M160.9 141.9h0.9M160.5 137.9h0.9M160.7 170.8h0.9M157.8 171.5h0.9M162.8 134.3h0.9M174.2 122.2h0.9M157.2 168.6h0.9M160.3 126.5h0.9M176.7 129.9h0.9M164.9 125.3h0.9M158.7 144.1h0.9M162.5 129.5h0.9M164.3 142.8h0.9M155.9 158.2h0.9M176.9 148.9h0.9M174.5 144.4h0.9M176.7 136.9h0.9M175.4 140.1h0.9M177.6 139.9h0.9M156.5 150.6h0.9M160.3 137.2h0.9M175.6 170.5h0.9M159.2 130.2h0.9M180.9 163.9h0.9M157.5 159.2h0.9M175.3 141.0h0.9M177.1 152.5h0.9M175.6 140.1h0.9M159.5 133.6h0.9M161.3 147.4h0.9M160.8 146.5h0.9M164.4 170.9h0.9M179.8 146.3h0.9M178.5 149.1h0.9M157.9 152.2h0.9M157.7 162.1h0.9M162.6 138.3h0.9M157.6 133.9h0.9M181.0 139.5h0.9M161.5 146.5h0.9M175.6 141.7h0.9M162.5 126.1h0.9M179.4 131.1h0.9M163.4 142.8h0.9M170.4 171.4h0.9M156.6 133.6h0.9M174.9 143.9h0.9M179.2 131.3h0.9M180.6 131.9h0.9M176.9 138.5h0.9M168.8 171.3h0.9M170.7 124.8h0.9M158.5 136.0h0.9M157.6 158.9h0.9M159.9 145.5h0.9M161.8 134.9h0.9M161.0 143.2h0.9M162.0 145.3h0.9M161.8 131.9h0.9M157.5 153.7h0.9M177.1 147.0h0.9M159.2 166.8h0.9M178.2 149.4h0.9M160.0 168.9h0.9M160.5 135.9h0.9M176.2 143.1h0.9M160.1 127.5h0.9M160.5 146.9h0.9M156.0 155.8h0.9M179.8 128.9h0.9M155.6 164.0h0.9M159.5 148.4h0.9M177.7 127.2h0.9M158.3 165.2h0.9M161.9 172.1h0.9M176.5 143.3h0.9M155.9 155.1h0.9M175.6 125.4h0.9M178.8 161.1h0.9M177.8 153.1h0.9M167.9 122.8h0.9M180.5 156.8h0.9M177.1 168.9h0.9M162.0 130.4h0.9M163.6 173.6h0.9M181.4 156.2h0.9M176.7 162.8h0.9M176.8 147.2h0.9M157.1 148.9h0.9M176.3 138.5h0.9M175.7 139.2h0.9M166.6 124.6h0.9M172.0 169.7h0.9M180.5 137.8h0.9M178.6 156.7h0.9M176.6 147.2h0.9M162.9 145.0h0.9M175.9 147.1h0.9M158.4 130.6h0.9M158.0 156.5h0.9M175.6 141.5h0.9M175.5 140.3h0.9M173.8 125.6h0.9M157.2 148.5h0.9M179.1 159.7h0.9M176.4 148.0h0.9M180.4 157.4h0.9M160.4 129.3h0.9M175.7 144.2h0.9M160.4 149.0h0.9M162.5 139.8h0.9M155.9 163.4h0.9M180.9 150.1h0.9M167.9 122.2h0.9M160.9 169.4h0.9M178.8 149.4h0.9M171.2 171.2h0.9M174.9 146.0h0.9M179.0 129.6h0.9M162.8 171.0h0.9M168.3 171.8h0.9M178.6 151.4h0.9M177.3 125.5h0.9M176.2 139.4h0.9M158.4 148.2h0.9M162.5 144.3h0.9M160.6 168.5h0.9M171.3 121.5h0.9M178.9 147.5h0.9M175.6 129.0h0.9M171.2 124.3h0.9M176.1 135.3h0.9M175.8 144.6h0.9M178.4 150.3h0.9M157.5 161.8h0.9M180.9 136.6h0.9M160.5 137.1h0.9M178.0 160.3h0.9M159.5 163.3h0.9M176.7 126.5h0.9M158.5 162.5h0.9M177.5 148.1h0.9M161.2 148.7h0.9M160.3 170.2h0.9M158.9 167.2h0.9M168.7 171.0h0.9M161.4 123.3h0.9M176.9 144.5h0.9M175.8 130.4h0.9M178.4 134.1h0.9M160.6 166.3h0.9M157.3 169.2h0.9M176.8 128.4h0.9M158.3 170.8h0.9M158.3 162.5h0.9M177.3 167.0h0.9M159.1 152.0h0.9M156.8 136.6h0.9M179.8 160.6h0.9M179.2 156.7h0.9M179.0 130.9h0.9M164.2 173.8h0.9M178.7 163.8h0.9M179.4 162.3h0.9M158.1 154.9h0.9M177.8 136.1h0.9M179.2 157.3h0.9M179.1 131.9h0.9M168.9 173.3h0.9M160.8 148.6h0.9M162.7 127.8h0.9M177.7 135.7h0.9M161.2 129.5h0.9M163.2 141.0h0.9M176.0 173.1h0.9M163.0 139.8h0.9M176.0 143.5h0.9M178.8 150.9h0.9M170.5 172.4h0.9M162.4 124.3h0.9M176.4 166.6h0.9M181.1 159.7h0.9M176.3 130.4h0.9M179.4 136.7h0.9M163.0 126.6h0.9M180.4 138.4h0.9M181.5 152.8h0.9M162.1 134.8h0.9M160.9 129.3h0.9M167.2 171.6h0.9M179.2 149.5h0.9M170.7 170.0h0.9M175.3 142.8h0.9M161.9 143.6h0.9M159.4 148.8h0.9M177.4 137.6h0.9M179.3 159.3h0.9M177.3 137.9h0.9M171.3 122.5h0.9M178.8 149.1h0.9M160.2 141.3h0.9M178.3 151.4h0.9M169.3 172.2h0.9M178.1 140.9h0.9M178.1 131.5h0.9M158.7 154.8h0.9M165.9 125.2h0.9M157.7 166.4h0.9M158.6 131.0h0.9M168.1 173.9h0.9M176.0 126.4h0.9M164.4 125.5h0.9M162.7 138.7h0.9M177.7 138.7h0.9M165.1 172.9h0.9M178.4 157.4h0.9M169.8 172.4h0.9M162.7 137.2h0.9M175.7 139.3h0.9M178.6 167.2h0.9M160.4 168.6h0.9M161.1 128.6h0.9M156.5 138.9h0.9M179.9 130.4h0.9M176.6 168.9h0.9M162.7 130.0h0.9M157.6 160.7h0.9M160.9 144.2h0.9M172.9 123.9h0.9M177.5 152.7h0.9M176.4 168.8h0.9M177.2 143.9h0.9M177.2 142.1h0.9M160.8 148.0h0.9M164.7 122.3h0.9M180.4 132.8h0.9M173.0 123.7h0.9M170.9 124.6h0.9M177.1 132.0h0.9M178.2 136.8h0.9M179.6 142.0h0.9M157.6 150.8h0.9M156.4 157.6h0.9M169.1 171.6h0.9M180.2 156.8h0.9M159.2 166.8h0.9M161.7 173.7h0.9M176.8 162.4h0.9M162.9 128.1h0.9M176.5 139.0h0.9M163.1 171.0h0.9M178.5 134.5h0.9M178.7 154.0h0.9M179.6 147.9h0.9M178.9 137.3h0.9M180.6 149.8h0.9M162.5 139.3h0.9M161.9 140.2h0.9M162.6 138.1h0.9M161.9 133.1h0.9M176.3 139.8h0.9M162.1 139.6h0.9M155.8 157.1h0.9M161.0 136.1h0.9M159.9 167.0h0.9M175.8 141.4h0.9M163.5 144.8h0.9M170.2 123.7h0.9M162.0 145.9h0.9M178.1 133.1h0.9M161.8 132.6h0.9M177.8 164.1h0.9M157.8 162.3h0.9M178.7 130.2h0.9M177.6 152.4h0.9M159.5 148.4h0.9M176.0 127.9h0.9M162.8 171.6h0.9M158.3 165.7h0.9M160.1 131.4h0.9M178.0 127.2h0.9M160.3 136.7h0.9M178.0 154.8h0.9M157.3 153.0h0.9M166.2 124.6h0.9M175.5 167.8h0.9M161.8 171.3h0.9M157.8 160.3h0.9M177.5 151.0h0.9M180.0 162.1h0.9M179.4 161.4h0.9M161.4 147.0h0.9M166.1 171.9h0.9M174.9 124.4h0.9M177.0 152.5h0.9M177.0 141.3h0.9M158.5 169.1h0.9M178.0 131.8h0.9M166.5 171.3h0.9M174.2 124.9h0.9M161.4 135.7h0.9M161.1 124.1h0.9M155.8 162.1h0.9M177.2 134.2h0.9M159.8 169.9h0.9M175.0 169.3h0.9M158.6 160.0h0.9M177.3 165.1h0.9M176.5 126.0h0.9M159.2 151.7h0.9M170.7 123.6h0.9M176.0 139.3h0.9M168.4 171.0h0.9M158.6 162.3h0.9M172.1 171.2h0.9M162.9 146.0h0.9M171.1 173.0h0.9M178.2 136.8h0.9M179.0 160.8h0.9M155.2 155.0h0.9M168.2 124.3h0.9M174.1 168.2h0.9M159.9 135.8h0.9M177.8 152.8h0.9M160.1 145.1h0.9M157.5 153.0h0.9M177.6 130.2h0.9M156.7 134.9h0.9M163.4 127.5h0.9M178.9 148.6h0.9M157.9 158.2h0.9M177.9 160.9h0.9M162.7 122.5h0.9M159.2 166.7h0.9M178.0 132.5h0.9M164.0 173.3h0.9M177.4 160.5h0.9M179.8 158.3h0.9M179.3 131.5h0.9M176.9 146.2h0.9M162.0 132.7h0.9M162.7 125.8h0.9M176.3 145.2h0.9M177.6 146.6h0.9M175.8 128.0h0.9M157.4 172.9h0.9M170.9 124.0h0.9M163.3 128.2h0.9M180.1 153.2h0.9M177.3 134.6h0.9M164.4 126.5h0.9M162.0 141.8h0.9M158.4 166.8h0.9M174.5 167.5h0.9M176.9 131.5h0.9M177.1 144.0h0.9M177.2 139.7h0.9M182.4 135.9h0.9M159.8 131.7h0.9M161.4 173.5h0.9M180.1 128.4h0.9M178.1 153.8h0.9M158.6 148.5h0.9M161.6 137.8h0.9M176.7 135.6h0.9M181.7 156.3h0.9M161.8 131.9h0.9M168.3 171.8h0.9M172.4 169.4h0.9M176.2 137.9h0.9M160.2 146.1h0.9M159.9 136.3h0.9M178.1 131.5h0.9M159.2 151.6h0.9M163.0 142.6h0.9M178.9 139.1h0.9M174.4 167.5h0.9M167.4 124.5h0.9M178.3 145.8h0.9M163.6 142.6h0.9M158.3 162.3h0.9M180.7 128.7h0.9M164.2 124.7h0.9M162.4 171.8h0.9M181.4 134.4h0.9M158.2 165.7h0.9M178.4 156.5h0.9M159.3 152.3h0.9M158.9 123.3h0.9M169.7 122.6h0.9M167.5 123.1h0.9M162.3 128.7h0.9M163.2 171.0h0.9M180.8 141.6h0.9M175.0 143.1h0.9M164.1 170.8h0.9M167.4 124.7h0.9M160.3 148.9h0.9M160.2 133.5h0.9M158.8 170.3h0.9M156.7 151.6h0.9M177.5 140.7h0.9M159.1 149.9h0.9M177.9 142.0h0.9M176.5 140.7h0.9M160.8 139.6h0.9M177.8 155.1h0.9M156.6 154.0h0.9M159.2 129.1h0.9M159.1 162.7h0.9M160.2 138.2h0.9M161.3 130.1h0.9M155.6 159.7h0.9M174.9 125.6h0.9M181.0 163.3h0.9M171.3 123.2h0.9M176.1 139.8h0.9M176.8 148.6h0.9M163.8 122.5h0.9M176.3 129.9h0.9M171.7 124.7h0.9M159.2 137.7h0.9M180.5 145.7h0.9M178.7 144.1h0.9M178.1 153.0h0.9M179.3 169.1h0.9M169.7 121.4h0.9M160.3 124.2h0.9M162.3 125.4h0.9M175.6 142.8h0.9M162.2 135.8h0.9M162.9 139.7h0.9M169.7 119.6h0.9M170.6 171.8h0.9M158.2 135.1h0.9M176.5 147.8h0.9M172.3 124.8h0.9M157.7 160.9h0.9M178.9 127.2h0.9M163.6 172.7h0.9M160.4 133.9h0.9M174.3 125.0h0.9M176.2 141.4h0.9M178.4 133.3h0.9M158.4 169.5h0.9M169.8 120.7h0.9M178.6 136.0h0.9M178.8 157.6h0.9M179.8 131.7h0.9M182.6 135.8h0.9M161.4 139.1h0.9M158.2 156.9h0.9M177.8 161.9h0.9M178.3 161.2h0.9M172.9 122.9h0.9M162.4 124.4h0.9M176.5 144.9h0.9M178.4 163.2h0.9M177.3 137.7h0.9M156.0 149.1h0.9M160.6 123.4h0.9M173.1 124.1h0.9M178.6 150.2h0.9M164.8 171.8h0.9M156.7 149.2h0.9M175.9 168.8h0.9M165.0 171.3h0.9M179.2 160.2h0.9M160.2 169.6h0.9M177.3 149.8h0.9M158.4 152.5h0.9M177.5 140.1h0.9M176.4 143.9h0.9M176.0 129.3h0.9M177.3 133.5h0.9M156.8 154.9h0.9M163.5 123.5h0.9M177.9 126.6h0.9M178.6 159.9h0.9M177.0 131.5h0.9M175.2 145.6h0.9M174.2 168.2h0.9M159.0 161.9h0.9M165.0 171.8h0.9M158.0 147.1h0.9M160.1 172.5h0.9M178.3 163.6h0.9M177.6 154.4h0.9M161.5 137.4h0.9M169.5 171.0h0.9M158.9 168.6h0.9M172.5 123.9h0.9M177.2 149.2h0.9M177.6 169.6h0.9M161.9 169.8h0.9M164.9 125.7h0.9M177.5 149.1h0.9M160.8 147.7h0.9M162.7 127.2h0.9M175.1 168.4h0.9M162.2 135.7h0.9M168.8 172.4h0.9M169.0 124.1h0.9M181.2 150.9h0.9M160.8 136.0h0.9M158.8 153.2h0.9M163.0 124.6h0.9M179.1 155.4h0.9M157.4 159.1h0.9M179.7 151.9h0.9M178.6 159.8h0.9M156.9 156.7h0.9M160.3 168.7h0.9M175.6 145.2h0.9M167.7 125.1h0.9M167.2 124.2h0.9M179.5 168.9h0.9M179.1 153.0h0.9M173.4 169.4h0.9M163.0 169.7h0.9M181.5 149.5h0.9M165.3 170.9h0.9M162.4 138.9h0.9M160.4 138.2h0.9M160.2 166.7h0.9M162.2 145.8h0.9M166.6 124.7h0.9M159.2 148.3h0.9M158.8 170.0h0.9M159.8 132.2h0.9M179.8 155.6h0.9M165.0 173.7h0.9M163.0 140.2h0.9M178.2 129.6h0.9M161.4 170.6h0.9M177.6 134.9h0.9M167.7 172.5h0.9M168.9 124.2h0.9M176.0 168.7h0.9M177.2 162.8h0.9M167.1 172.7h0.9M159.2 148.5h0.9M180.8 153.5h0.9M158.6 156.8h0.9M161.8 146.8h0.9M172.0 120.2h0.9M179.3 151.4h0.9M179.4 158.7h0.9M169.5 173.9h0.9M178.1 133.2h0.9M175.8 139.8h0.9M179.4 157.6h0.9M175.1 169.2h0.9M164.0 124.2h0.9M159.1 151.8h0.9M177.6 147.7h0.9M160.9 139.0h0.9M177.8 165.1h0.9M162.5 138.4h0.9M163.4 122.4h0.9M177.3 139.7h0.9M174.4 167.5h0.9M162.5 136.1h0.9M176.8 142.3h0.9M174.1 125.2h0.9M165.5 124.4h0.9M166.3 123.1h0.9M162.8 171.8h0.9M161.8 138.6h0.9M162.9 144.0h0.9M161.4 169.1h0.9M174.8 141.8h0.9M161.7 143.8h0.9M179.8 149.0h0.9M162.3 172.6h0.9M180.9 166.1h0.9M176.0 130.0h0.9M170.7 123.5h0.9M175.4 141.5h0.9M166.8 122.4h0.9M176.7 136.9h0.9M164.6 124.2h0.9M160.6 140.3h0.9M169.1 173.8h0.9M175.4 143.7h0.9M161.8 140.8h0.9M161.5 134.0h0.9M158.6 139.7h0.9M177.8 122.0h0.9M179.1 156.3h0.9M163.0 143.8h0.9M162.0 145.7h0.9M168.0 124.2h0.9M160.3 135.0h0.9M179.0 163.3h0.9M155.3 164.5h0.9M177.2 143.9h0.9M157.2 153.5h0.9M174.7 143.8h0.9M181.8 157.5h0.9M160.0 136.8h0.9M156.2 147.0h0.9M163.1 139.4h0.9M178.1 156.1h0.9M156.5 167.9h0.9M170.8 122.8h0.9M176.5 138.3h0.9M178.8 166.4h0.9M175.9 139.4h0.9M161.6 147.0h0.9M161.3 168.8h0.9M178.6 164.1h0.9M170.5 122.6h0.9M160.0 135.3h0.9M164.8 170.6h0.9M164.9 172.5h0.9M179.2 127.1h0.9M181.1 156.4h0.9M175.6 141.8h0.9M177.4 149.1h0.9M165.0 124.9h0.9M160.8 143.1h0.9M170.5 124.7h0.9M162.3 134.1h0.9M168.7 124.2h0.9M175.8 127.9h0.9M164.2 124.0h0.9M160.9 126.1h0.9M161.4 143.3h0.9M175.6 144.6h0.9M180.1 150.9h0.9M176.9 133.0h0.9M160.3 129.6h0.9M180.3 136.0h0.9M175.8 139.9h0.9M165.3 125.3h0.9M163.7 140.8h0.9M158.2 137.8h0.9M158.5 157.2h0.9M175.2 128.7h0.9M175.9 126.0h0.9M160.1 166.1h0.9M159.3 131.3h0.9M175.9 137.1h0.9M157.1 154.9h0.9M162.6 125.8h0.9M164.9 125.7h0.9M156.8 132.4h0.9M178.8 149.1h0.9M160.3 170.4h0.9M180.0 163.6h0.9M161.0 168.9h0.9M177.3 126.1h0.9M162.1 130.8h0.9M158.9 147.1h0.9M181.8 153.7h0.9M179.1 150.2h0.9M173.3 173.5h0.9M163.3 144.1h0.9M158.0 161.8h0.9M162.6 129.3h0.9M165.4 171.2h0.9M163.5 142.2h0.9M159.2 131.7h0.9M176.7 134.8h0.9M169.5 170.7h0.9M175.4 121.1h0.9M177.8 159.8h0.9M157.6 165.5h0.9M179.5 133.4h0.9M181.8 150.7h0.9M198.8 127.6h0.9M182.3 130.0h0.9M182.4 124.4h0.9M185.3 132.1h0.9M186.2 134.4h0.9M180.6 134.4h0.9M187.3 137.5h0.9M205.3 130.9h0.9M189.7 137.4h0.9M192.2 130.9h0.9M180.9 132.7h0.9M183.2 135.0h0.9M191.7 126.8h0.9M181.4 126.5h0.9M201.7 127.3h0.9M204.7 132.1h0.9M182.3 132.2h0.9M187.8 123.1h0.9M192.9 128.5h0.9M199.6 129.9h0.9M186.7 133.3h0.9M190.2 128.4h0.9M194.0 126.1h0.9M203.4 125.6h0.9M178.4 133.1h0.9M192.6 126.1h0.9M202.5 130.7h0.9M187.4 124.9h0.9M194.2 132.1h0.9M194.1 131.9h0.9M184.4 129.5h0.9M178.7 132.8h0.9M181.9 127.0h0.9M187.8 125.8h0.9M195.5 137.0h0.9M188.1 133.8h0.9M193.6 130.1h0.9M198.9 133.8h0.9M181.3 128.2h0.9M200.9 130.8h0.9M181.1 128.4h0.9M199.8 134.2h0.9M179.6 129.2h0.9M185.8 139.1h0.9M187.7 126.9h0.9M182.9 129.6h0.9M177.0 124.5h0.9M202.7 131.7h0.9M196.6 139.3h0.9M186.1 129.7h0.9M208.0 128.6h0.9M195.6 132.3h0.9M191.6 134.4h0.9M200.4 133.6h0.9M179.8 139.0h0.9M182.3 120.6h0.9M187.2 132.5h0.9M186.8 128.5h0.9M201.8 132.3h0.9M184.6 129.2h0.9M197.6 130.1h0.9M192.5 125.0h0.9M179.4 133.5h0.9M191.6 127.0h0.9M179.4 131.1h0.9M204.9 127.7h0.9M188.5 130.9h0.9M179.0 131.5h0.9M181.0 136.0h0.9M178.7 137.8h0.9M198.6 126.4h0.9M197.5 132.2h0.9M195.7 131.2h0.9M196.4 134.7h0.9M181.5 124.8h0.9M183.8 129.1h0.9M191.8 141.7h0.9M194.0 123.3h0.9M193.9 136.9h0.9M188.7 127.9h0.9M185.3 125.8h0.9M194.5 128.7h0.9M192.5 132.9h0.9M187.8 126.1h0.9M201.0 138.2h0.9M200.0 131.2h0.9M206.1 129.8h0.9M193.6 128.5h0.9M195.4 127.3h0.9M202.3 133.7h0.9M185.2 128.1h0.9M196.0 126.4h0.9M180.8 135.5h0.9M187.2 130.6h0.9M179.3 128.7h0.9M192.9 127.0h0.9M179.6 131.5h0.9M193.3 130.6h0.9M193.2 136.4h0.9M178.6 125.5h0.9M201.6 128.2h0.9M185.6 126.0h0.9M186.2 129.9h0.9M203.3 132.4h0.9M195.6 129.3h0.9M180.7 133.5h0.9M183.9 135.4h0.9M196.0 131.2h0.9M188.7 127.7h0.9M177.1 134.8h0.9M181.2 137.2h0.9M188.1 125.0h0.9M178.8 124.1h0.9M190.2 131.4h0.9M191.0 127.4h0.9M194.4 128.9h0.9M182.8 137.2h0.9M200.0 126.6h0.9M186.9 130.8h0.9M179.7 140.5h0.9M183.0 123.6h0.9M202.2 129.8h0.9M183.2 127.0h0.9M196.4 134.2h0.9M181.6 137.9h0.9M186.9 128.0h0.9M187.6 129.5h0.9M179.0 125.1h0.9M193.5 129.3h0.9M192.1 125.7h0.9M189.5 123.6h0.9M178.8 134.6h0.9M182.5 122.6h0.9M181.4 131.4h0.9M205.1 129.5h0.9M198.2 134.1h0.9M206.1 129.8h0.9M199.1 133.3h0.9M184.1 129.2h0.9M206.9 128.2h0.9M185.5 128.7h0.9M178.6 134.6h0.9M199.4 130.8h0.9M181.3 124.8h0.9M182.7 134.9h0.9M191.4 129.0h0.9M195.0 138.7h0.9M187.6 130.0h0.9M192.3 130.7h0.9M193.2 129.9h0.9M187.7 126.4h0.9M180.6 129.6h0.9M179.7 141.9h0.9M192.7 127.2h0.9M185.7 132.7h0.9M177.6 129.5h0.9M185.8 121.8h0.9M201.6 138.0h0.9M191.5 128.1h0.9M179.4 132.4h0.9M187.7 131.4h0.9M203.9 131.0h0.9M182.4 128.2h0.9M190.0 125.5h0.9M197.0 130.4h0.9M201.5 132.5h0.9M185.9 129.5h0.9M180.8 138.8h0.9M189.0 133.5h0.9M198.8 128.4h0.9M199.2 126.7h0.9M195.9 124.8h0.9M189.1 129.1h0.9M182.3 131.1h0.9M193.3 127.4h0.9M196.7 126.7h0.9M198.0 128.2h0.9M188.0 124.8h0.9M194.7 127.8h0.9M191.3 136.1h0.9M195.3 129.9h0.9M207.3 127.9h0.9M185.7 124.2h0.9M185.6 127.6h0.9M183.9 126.2h0.9M191.0 125.6h0.9M204.1 125.4h0.9M179.4 133.5h0.9M204.2 133.8h0.9M199.7 134.7h0.9M191.8 131.0h0.9M191.5 124.2h0.9M198.9 122.2h0.9M183.1 123.8h0.9M179.3 125.4h0.9M203.1 132.2h0.9M198.7 127.5h0.9M192.0 127.1h0.9M186.4 129.1h0.9M200.6 129.5h0.9M179.1 119.4h0.9M207.3 129.9h0.9M188.2 135.2h0.9M194.4 131.6h0.9M180.1 130.0h0.9M210.6 131.9h0.9M196.2 127.9h0.9M209.9 128.0h0.9M177.7 132.0h0.9M183.6 129.2h0.9M192.9 128.3h0.9M188.2 130.0h0.9M190.3 129.6h0.9M197.8 128.0h0.9M184.8 121.5h0.9M188.5 133.7h0.9M191.4 122.3h0.9M177.9 131.4h0.9M195.2 130.9h0.9M203.6 130.5h0.9M194.1 129.1h0.9M202.6 128.3h0.9M187.0 125.3h0.9M208.2 130.6h0.9M190.5 127.1h0.9M176.7 134.2h0.9M199.9 124.9h0.9M181.6 125.0h0.9M181.0 128.2h0.9M186.2 130.1h0.9M196.0 125.4h0.9M177.0 127.8h0.9M183.7 127.5h0.9M186.4 135.3h0.9M192.9 123.2h0.9M208.4 128.4h0.9M189.7 130.2h0.9M201.7 130.2h0.9M189.4 125.5h0.9M182.9 129.6h0.9M187.9 127.6h0.9M188.0 136.6h0.9M198.1 122.6h0.9M209.1 130.2h0.9M183.3 128.1h0.9M202.2 133.7h0.9M199.0 131.7h0.9M179.7 123.0h0.9M179.6 129.4h0.9M177.2 132.3h0.9M183.3 138.0h0.9M189.4 125.9h0.9M186.7 128.2h0.9M199.9 125.1h0.9M200.6 129.0h0.9M187.9 139.0h0.9M197.7 133.4h0.9M182.4 122.2h0.9M204.0 131.3h0.9M197.1 126.3h0.9M191.2 128.7h0.9M195.3 135.9h0.9M209.9 131.3h0.9M209.5 131.1h0.9M194.9 132.1h0.9M178.9 129.7h0.9M181.5 130.3h0.9M196.0 136.0h0.9M202.3 134.3h0.9M194.8 132.1h0.9M179.9 130.6h0.9M191.1 134.3h0.9M186.8 132.1h0.9M202.4 129.2h0.9M198.5 133.9h0.9M193.4 131.4h0.9M188.0 125.1h0.9M190.2 129.4h0.9M188.5 121.0h0.9M176.9 126.0h0.9M182.7 128.8h0.9M195.6 128.9h0.9M191.6 135.1h0.9M195.2 132.3h0.9M194.4 131.0h0.9M193.8 133.4h0.9M204.3 127.8h0.9M203.0 129.6h0.9M187.8 129.2h0.9M187.1 137.5h0.9M194.3 127.3h0.9M189.8 129.9h0.9M193.9 129.4h0.9M182.8 124.3h0.9M183.9 127.9h0.9M199.1 132.2h0.9M199.3 132.9h0.9M178.3 126.5h0.9M176.5 131.7h0.9M182.3 128.0h0.9M184.5 132.7h0.9M193.4 126.2h0.9M182.0 136.0h0.9M191.5 132.3h0.9M192.5 130.1h0.9M182.5 133.7h0.9M178.4 131.8h0.9M189.1 127.7h0.9M189.5 121.3h0.9M206.9 131.5h0.9M194.4 127.6h0.9M183.5 138.2h0.9M181.6 130.7h0.9M187.3 130.2h0.9M205.8 129.7h0.9M198.4 128.9h0.9M194.1 124.1h0.9M202.4 129.2h0.9M180.9 126.5h0.9M194.3 136.0h0.9M192.9 128.2h0.9M198.1 130.7h0.9M180.1 138.6h0.9M199.1 129.2h0.9M202.7 130.1h0.9M197.2 132.9h0.9M193.8 132.3h0.9M187.7 133.1h0.9M204.7 127.0h0.9M195.3 132.9h0.9M194.2 124.2h0.9M190.9 126.4h0.9M198.8 131.2h0.9M196.7 128.3h0.9M179.6 123.1h0.9M201.8 130.3h0.9M192.6 129.9h0.9M177.9 123.9h0.9M192.2 129.3h0.9M181.8 129.6h0.9M185.0 133.8h0.9M202.0 129.3h0.9M206.0 129.2h0.9M191.2 132.8h0.9M188.7 127.1h0.9M201.9 130.9h0.9M193.6 136.5h0.9M199.7 131.1h0.9M180.1 128.1h0.9M195.6 131.7h0.9M179.6 127.1h0.9M200.0 126.2h0.9M201.2 135.2h0.9M191.3 133.5h0.9M193.1 127.3h0.9M196.1 127.1h0.9M196.4 131.3h0.9M176.5 129.6h0.9M178.7 136.3h0.9M178.7 133.0h0.9M190.7 133.8h0.9M189.7 124.8h0.9M192.3 130.6h0.9M191.4 136.0h0.9M187.7 130.0h0.9M198.9 133.3h0.9M181.2 129.3h0.9M193.7 131.2h0.9M186.1 125.6h0.9M197.2 130.7h0.9M209.5 132.3h0.9M195.1 128.2h0.9M198.0 126.4h0.9M196.5 135.1h0.9M201.1 129.1h0.9M184.2 128.1h0.9M193.5 135.2h0.9M189.4 128.4h0.9M200.5 131.9h0.9M177.3 136.0h0.9M195.8 127.6h0.9M185.5 132.9h0.9M194.1 141.5h0.9M190.9 127.7h0.9M196.2 122.0h0.9M200.5 128.1h0.9M201.6 131.7h0.9M207.1 132.0h0.9M185.0 140.2h0.9M194.8 127.3h0.9M181.4 135.1h0.9M177.8 136.1h0.9M186.4 128.8h0.9M189.5 132.6h0.9M179.9 126.5h0.9M180.6 121.9h0.9M180.2 130.5h0.9M193.1 131.1h0.9M195.5 132.5h0.9M181.6 131.5h0.9M182.6 132.9h0.9M185.0 127.7h0.9M194.7 133.4h0.9M201.1 128.0h0.9M186.0 131.2h0.9M198.1 127.0h0.9M191.0 130.4h0.9M180.0 129.4h0.9M204.4 131.5h0.9M202.3 132.8h0.9M180.5 125.1h0.9M197.3 130.2h0.9M199.6 125.7h0.9M187.3 128.4h0.9M192.9 133.5h0.9M184.0 126.8h0.9M189.2 128.7h0.9M186.6 128.8h0.9M186.9 125.9h0.9M178.3 120.6h0.9M196.1 128.8h0.9M198.1 128.0h0.9M194.5 136.4h0.9M189.3 135.3h0.9M194.1 133.7h0.9M209.8 128.9h0.9M203.5 129.9h0.9M180.5 134.2h0.9M184.9 130.8h0.9M203.7 126.9h0.9M185.8 126.2h0.9M183.1 130.5h0.9M190.7 136.0h0.9M182.1 135.4h0.9M185.4 131.1h0.9M202.1 131.0h0.9M207.1 129.7h0.9M202.5 128.6h0.9M181.9 124.3h0.9M203.3 131.5h0.9M182.0 127.0h0.9M197.8 130.3h0.9M191.0 129.6h0.9M183.6 129.7h0.9M181.3 136.6h0.9M188.3 126.4h0.9M208.8 130.3h0.9M184.3 134.1h0.9M198.1 129.2h0.9M210.6 131.3h0.9M182.8 127.4h0.9M208.7 133.2h0.9M180.9 131.7h0.9M197.6 129.0h0.9M180.7 121.1h0.9M180.0 128.0h0.9M181.4 131.4h0.9M201.5 133.7h0.9M197.6 130.0h0.9M190.7 126.8h0.9M189.0 130.2h0.9M181.6 124.9h0.9M182.9 135.7h0.9M188.1 135.9h0.9M188.0 136.3h0.9M200.8 131.8h0.9M184.7 131.0h0.9M211.1 131.4h0.9M181.4 134.0h0.9M194.1 132.1h0.9M187.8 129.1h0.9M177.6 129.7h0.9M198.1 129.6h0.9M181.2 120.5h0.9M207.6 129.8h0.9M209.0 129.2h0.9M198.0 131.7h0.9M178.3 128.4h0.9M197.7 128.3h0.9M179.6 131.8h0.9M182.4 133.1h0.9M195.6 123.3h0.9M180.8 129.7h0.9M177.5 141.3h0.9M195.3 130.8h0.9M189.3 124.3h0.9M182.9 128.9h0.9M205.3 131.0h0.9M199.6 129.0h0.9M196.5 126.7h0.9M179.9 126.4h0.9M207.9 132.7h0.9M192.6 133.3h0.9M202.9 129.6h0.9M178.5 129.8h0.9M203.6 132.0h0.9M183.4 134.3h0.9M182.8 135.4h0.9M197.0 136.4h0.9M179.7 134.0h0.9M209.9 128.6h0.9M195.5 128.9h0.9M197.6 137.9h0.9M176.8 135.5h0.9M179.2 125.6h0.9M201.0 129.5h0.9M180.9 127.9h0.9M180.6 137.9h0.9M203.5 129.3h0.9M181.1 132.3h0.9M185.7 136.8h0.9M189.8 128.3h0.9M194.7 126.0h0.9M205.7 128.9h0.9M191.8 131.5h0.9M185.8 126.1h0.9M181.0 133.1h0.9M182.5 125.7h0.9M176.8 127.4h0.9M179.0 132.4h0.9M192.1 129.1h0.9M184.5 121.2h0.9M181.6 125.3h0.9M204.5 131.7h0.9M207.5 129.8h0.9M184.6 124.6h0.9M182.8 129.3h0.9M208.3 129.7h0.9M182.4 131.1h0.9M184.9 130.7h0.9M190.0 128.6h0.9M179.6 122.7h0.9M185.1 125.5h0.9M194.0 127.2h0.9M195.6 128.5h0.9M200.2 129.4h0.9M179.8 124.6h0.9M179.6 127.6h0.9M191.9 123.4h0.9M197.1 133.3h0.9M196.6 128.0h0.9M177.0 127.4h0.9M184.7 124.3h0.9M187.5 133.1h0.9M198.0 131.8h0.9M187.9 141.6h0.9M181.8 133.9h0.9M181.2 128.3h0.9M181.4 136.1h0.9M202.2 125.7h0.9M184.7 133.9h0.9M187.7 127.4h0.9M196.3 129.1h0.9M181.0 130.5h0.9M203.6 125.7h0.9M195.6 135.7h0.9M202.4 130.4h0.9M193.8 122.9h0.9M179.8 128.2h0.9M179.9 121.7h0.9M205.2 133.8h0.9M192.9 133.3h0.9M185.8 130.5h0.9M189.6 128.4h0.9M182.8 131.7h0.9M186.8 125.9h0.9M186.9 127.8h0.9M199.9 131.0h0.9M196.4 128.6h0.9M198.1 135.8h0.9M190.2 131.6h0.9M197.7 128.6h0.9M196.9 126.0h0.9M202.4 130.7h0.9M203.0 130.6h0.9M188.0 133.5h0.9M193.0 131.0h0.9M176.5 133.0h0.9M189.0 133.8h0.9M183.0 126.6h0.9M188.9 136.5h0.9M188.8 130.9h0.9M200.4 134.8h0.9M189.5 129.7h0.9M192.6 124.5h0.9M181.4 132.1h0.9M191.3 131.6h0.9M182.1 130.7h0.9M205.6 136.3h0.9M202.1 135.3h0.9M202.8 128.9h0.9M182.1 127.8h0.9M185.8 125.8h0.9M191.3 130.0h0.9M189.0 127.3h0.9M194.7 129.7h0.9M178.7 125.6h0.9M181.5 133.0h0.9M184.1 134.4h0.9M199.7 131.3h0.9M190.8 133.5h0.9M178.4 125.8h0.9M200.1 125.5h0.9M176.9 126.5h0.9M204.6 130.4h0.9M182.0 124.7h0.9M200.6 128.7h0.9M190.8 131.9h0.9M204.3 131.9h0.9M192.0 126.3h0.9M188.3 135.5h0.9M196.6 125.3h0.9M201.2 129.8h0.9M193.7 127.8h0.9M184.0 130.0h0.9M193.7 134.9h0.9M180.2 135.3h0.9M184.2 120.8h0.9M188.6 132.3h0.9M181.3 132.6h0.9M199.7 125.4h0.9M186.9 134.8h0.9M179.2 133.6h0.9M195.9 130.1h0.9M192.7 131.9h0.9M186.1 139.1h0.9M193.6 128.5h0.9M178.4 138.5h0.9M203.8 131.0h0.9M188.9 128.6h0.9M184.2 132.2h0.9M195.6 129.1h0.9M190.8 127.9h0.9M190.5 126.2h0.9M187.9 139.6h0.9M194.3 129.2h0.9M194.8 131.6h0.9M203.5 130.6h0.9M195.1 130.7h0.9M192.8 131.7h0.9M179.4 140.8h0.9M195.9 130.4h0.9M203.7 125.2h0.9M177.2 129.4h0.9M184.2 130.1h0.9M210.0 127.6h0.9M199.5 127.7h0.9M201.9 127.8h0.9M181.6 134.7h0.9M181.7 130.0h0.9M178.8 120.5h0.9M186.7 132.0h0.9M181.9 131.3h0.9M201.5 132.0h0.9M200.0 125.6h0.9M183.7 137.7h0.9M199.0 133.3h0.9M191.3 130.5h0.9M200.1 128.0h0.9M196.9 128.7h0.9M186.5 129.8h0.9M187.6 125.5h0.9M179.1 134.7h0.9M189.2 128.7h0.9M185.0 133.4h0.9M205.1 126.5h0.9M187.6 134.8h0.9M183.3 125.3h0.9M194.3 127.5h0.9M207.7 136.5h0.9M201.2 132.0h0.9M191.0 133.4h0.9M193.1 128.8h0.9M178.4 141.4h0.9M188.8 132.0h0.9M202.3 126.7h0.9M181.9 132.4h0.9M209.7 131.2h0.9M182.6 128.8h0.9M187.7 131.4h0.9M183.2 130.8h0.9M183.3 129.8h0.9M179.7 135.1h0.9M178.8 127.8h0.9M198.6 129.8h0.9M193.2 129.1h0.9M179.9 131.6h0.9M205.9 133.7h0.9M183.5 124.8h0.9M190.8 137.1h0.9M194.2 132.4h0.9M203.4 127.6h0.9M180.1 128.5h0.9M198.0 129.3h0.9M178.3 138.5h0.9M202.3 130.0h0.9M183.8 130.0h0.9M196.6 130.6h0.9M177.1 126.6h0.9M200.9 134.2h0.9M182.2 129.9h0.9M199.4 125.7h0.9M205.3 132.6h0.9M199.8 131.9h0.9M183.4 130.5h0.9M188.8 128.4h0.9M177.8 126.0h0.9M183.2 120.9h0.9M177.9 130.9h0.9M182.9 126.9h0.9M198.1 128.2h0.9M181.2 131.2h0.9M189.2 139.7h0.9M197.6 131.8h0.9M194.0 130.0h0.9M199.9 134.0h0.9M198.2 124.9h0.9M188.0 124.6h0.9M188.5 132.7h0.9M193.2 134.8h0.9M176.9 134.9h0.9M195.6 128.7h0.9M193.0 131.1h0.9M209.0 130.8h0.9M194.3 135.8h0.9M183.3 126.3h0.9M198.5 130.8h0.9M195.6 127.9h0.9M197.4 129.6h0.9M177.5 136.2h0.9M196.2 130.6h0.9M202.2 131.2h0.9M198.0 129.5h0.9M209.0 132.0h0.9M199.6 129.2h0.9M184.5 131.8h0.9M202.5 129.0h0.9M197.1 126.0h0.9M178.7 134.4h0.9M199.8 126.8h0.9M189.8 125.1h0.9M198.9 127.0h0.9M187.8 129.1h0.9M185.1 124.6h0.9M184.8 127.3h0.9M185.5 120.6h0.9M204.2 129.0h0.9M185.6 133.1h0.9M183.3 134.7h0.9M199.4 131.0h0.9M190.2 134.3h0.9M195.0 130.6h0.9M179.7 130.5h0.9M180.4 133.8h0.9M189.3 133.9h0.9M197.7 132.5h0.9M199.3 130.2h0.9M185.4 127.9h0.9M192.0 127.0h0.9M201.2 132.0h0.9M197.7 129.5h0.9M181.2 126.6h0.9M183.3 127.3h0.9M183.1 131.8h0.9M186.5 128.2h0.9M182.8 136.4h0.9M182.8 127.1h0.9M188.1 126.7h0.9M206.0 129.6h0.9M180.9 134.4h0.9M190.2 133.5h0.9M193.9 126.6h0.9M195.9 136.1h0.9M205.2 127.0h0.9M185.0 130.1h0.9M188.7 130.6h0.9M180.5 140.4h0.9M200.3 129.4h0.9M187.6 128.9h0.9M191.2 135.1h0.9M178.2 128.0h0.9M195.1 131.0h0.9M185.4 134.5h0.9M184.2 130.8h0.9M179.9 132.4h0.9M191.6 124.9h0.9M183.3 132.3h0.9M191.2 134.4h0.9M188.1 131.5h0.9M189.1 134.9h0.9M193.1 129.5h0.9M196.6 132.3h0.9M178.5 130.7h0.9M202.3 125.0h0.9M196.8 129.3h0.9M199.6 128.6h0.9M203.2 127.7h0.9M195.3 133.7h0.9M178.5 139.1h0.9M184.3 141.8h0.9M188.0 126.9h0.9M184.7 131.1h0.9M183.4 135.4h0.9M187.5 135.5h0.9M200.3 126.6h0.9M186.4 130.1h0.9M199.1 128.3h0.9M208.3 130.0h0.9M179.8 120.5h0.9M197.3 133.9h0.9M201.2 133.0h0.9M205.5 128.4h0.9M190.8 129.2h0.9M186.9 127.9h0.9M177.9 132.7h0.9M201.6 134.4h0.9M185.4 126.8h0.9M190.0 130.6h0.9M194.7 130.5h0.9M184.5 130.8h0.9M209.2 126.5h0.9M179.3 129.9h0.9M184.4 126.6h0.9M203.9 136.1h0.9M202.1 126.1h0.9M185.2 120.1h0.9M177.0 130.4h0.9M180.4 130.1h0.9M197.5 128.7h0.9M198.5 134.1h0.9M177.0 142.2h0.9M202.2 127.3h0.9M177.5 128.1h0.9M204.2 129.0h0.9M176.6 127.6h0.9M181.1 129.1h0.9M181.5 126.4h0.9M185.1 128.5h0.9M197.2 123.1h0.9M190.6 132.9h0.9M194.4 129.1h0.9M202.7 130.2h0.9M193.2 133.9h0.9M179.0 127.2h0.9M179.3 128.2h0.9M192.8 125.9h0.9M180.3 127.7h0.9M208.8 131.1h0.9M189.0 131.1h0.9M180.4 132.5h0.9M207.3 128.5h0.9M207.8 127.6h0.9M191.3 129.5h0.9M208.0 133.3h0.9M184.8 130.1h0.9M197.6 132.9h0.9M187.4 131.0h0.9M202.7 129.8h0.9M185.2 122.2h0.9M200.3 127.7h0.9M184.2 133.2h0.9M188.8 126.7h0.9M205.3 135.8h0.9M197.4 130.9h0.9M190.3 125.2h0.9M180.3 132.6h0.9M190.6 136.4h0.9M185.1 124.7h0.9M186.9 124.0h0.9M199.1 127.4h0.9M184.1 136.6h0.9M195.0 136.7h0.9M179.1 124.1h0.9M192.7 123.0h0.9M182.5 130.6h0.9M196.2 128.0h0.9M187.9 131.0h0.9M176.4 124.1h0.9M186.7 139.3h0.9M178.8 141.9h0.9M176.6 134.4h0.9M191.0 126.7h0.9M191.1 127.7h0.9M203.5 131.3h0.9M196.2 131.6h0.9M181.5 132.9h0.9M183.7 126.1h0.9M189.2 127.3h0.9M177.8 125.7h0.9M193.3 125.2h0.9M180.8 138.4h0.9M177.6 127.5h0.9M193.5 136.4h0.9M203.4 132.4h0.9M179.3 133.9h0.9M193.1 132.5h0.9M183.5 136.1h0.9M188.8 135.4h0.9M187.9 123.1h0.9M177.1 136.4h0.9M194.9 132.4h0.9M193.0 123.5h0.9M208.6 132.5h0.9M194.5 130.1h0.9M192.9 129.0h0.9M207.1 121.9h0.9M191.8 125.8h0.9M183.7 125.0h0.9M194.1 126.6h0.9M196.8 134.2h0.9M185.5 131.6h0.9M193.4 132.2h0.9M178.1 133.8h0.9M195.7 130.3h0.9M190.5 130.7h0.9M180.7 126.5h0.9M180.4 132.2h0.9M192.8 124.7h0.9M188.7 129.1h0.9M205.3 135.3h0.9M194.6 128.7h0.9M192.2 129.6h0.9M187.6 133.2h0.9M178.1 127.6h0.9M189.5 126.5h0.9M182.9 131.8h0.9M189.2 125.3h0.9M188.1 133.4h0.9M190.3 130.2h0.9M201.6 136.7h0.9M201.3 127.9h0.9M193.3 128.1h0.9M191.3 129.5h0.9M180.0 130.9h0.9M186.9 126.9h0.9M191.5 126.3h0.9M197.8 133.9h0.9M201.3 130.5h0.9M207.9 129.4h0.9M176.9 126.0h0.9M183.9 128.6h0.9M183.4 127.2h0.9M204.6 131.7h0.9M195.7 125.1h0.9M193.2 133.1h0.9M177.1 137.0h0.9M179.3 129.8h0.9M183.9 122.9h0.9M179.4 136.2h0.9M199.5 124.1h0.9M181.4 136.0h0.9M193.0 129.9h0.9M202.4 131.1h0.9M190.1 127.9h0.9M202.6 134.3h0.9M183.3 129.9h0.9M200.7 137.3h0.9M192.7 132.4h0.9M177.7 130.0h0.9M198.9 129.7h0.9M199.1 132.2h0.9M195.3 134.0h0.9M204.5 129.2h0.9M196.8 127.9h0.9M178.5 121.6h0.9M200.0 130.7h0.9M188.9 132.4h0.9M186.8 128.2h0.9M197.4 123.9h0.9M188.3 125.8h0.9M195.9 127.9h0.9M188.3 130.0h0.9M186.2 130.7h0.9M180.0 127.6h0.9M208.1 128.7h0.9M186.7 133.1h0.9M200.6 130.3h0.9M209.0 133.7h0.9M205.8 130.0h0.9M181.4 134.1h0.9M182.7 128.8h0.9M176.9 132.6h0.9M203.5 129.6h0.9M189.2 130.3h0.9M200.6 127.1h0.9M190.8 134.5h0.9M190.8 123.3h0.9M185.3 131.4h0.9M190.1 134.9h0.9M184.6 134.1h0.9M199.7 129.1h0.9M176.6 131.7h0.9M178.8 131.6h0.9M205.6 133.3h0.9M206.8 132.5h0.9M197.3 132.7h0.9M195.1 130.4h0.9M191.5 131.7h0.9M204.3 131.8h0.9M178.6 126.3h0.9M178.8 126.7h0.9M192.7 137.7h0.9M176.6 122.3h0.9M177.5 129.7h0.9M200.3 126.8h0.9M185.4 125.4h0.9M178.0 134.6h0.9M178.9 135.7h0.9M183.0 135.2h0.9M196.0 132.2h0.9M198.1 131.2h0.9M199.1 131.9h0.9M191.3 130.6h0.9M183.4 123.7h0.9M179.2 128.1h0.9M195.3 132.9h0.9M198.9 132.2h0.9M179.3 127.3h0.9M185.5 125.5h0.9M200.2 131.0h0.9M202.7 130.7h0.9M201.9 126.0h0.9M185.1 127.9h0.9M188.4 130.4h0.9M184.6 131.8h0.9M202.8 128.3h0.9M178.4 134.1h0.9M178.1 129.5h0.9M207.2 130.7h0.9M200.7 129.0h0.9M191.3 128.7h0.9M184.5 130.0h0.9M181.4 129.2h0.9M181.1 130.6h0.9M177.1 136.9h0.9M205.4 127.2h0.9M177.8 131.4h0.9M181.9 127.9h0.9M195.5 133.7h0.9M191.7 123.7h0.9M183.1 131.5h0.9M186.7 124.7h0.9M191.8 133.6h0.9M209.0 130.0h0.9M188.3 134.3h0.9M185.8 133.1h0.9M186.9 130.6h0.9M184.7 132.1h0.9M211.0 128.7h0.9M185.8 135.0h0.9M198.9 132.0h0.9M191.7 129.2h0.9M188.0 128.4h0.9M203.9 134.3h0.9M181.2 122.2h0.9M189.9 136.2h0.9M198.3 132.7h0.9M205.5 125.8h0.9M179.9 134.5h0.9M199.8 131.8h0.9M185.9 134.0h0.9M203.8 131.4h0.9M187.0 127.2h0.9M193.0 130.6h0.9M190.0 137.1h0.9M200.5 131.9h0.9M186.3 129.7h0.9M186.0 130.3h0.9M191.5 125.9h0.9M192.8 136.0h0.9M179.7 129.7h0.9M179.5 122.4h0.9M189.4 129.3h0.9M193.5 134.7h0.9M189.8 127.1h0.9M194.1 127.0h0.9M181.3 130.7h0.9M200.2 130.1h0.9M179.5 137.5h0.9M206.2 122.7h0.9M197.7 133.0h0.9M195.2 122.1h0.9M182.7 129.7h0.9M200.9 131.1h0.9M188.5 125.3h0.9M187.3 128.4h0.9M186.8 130.9h0.9M197.7 133.7h0.9M179.6 129.3h0.9M186.4 129.7h0.9M180.1 134.5h0.9M179.7 134.2h0.9M203.7 118.9h0.9M200.4 129.9h0.9M189.9 126.4h0.9M189.5 123.3h0.9M183.1 132.2h0.9M179.0 123.5h0.9M180.3 137.2h0.9M198.3 124.5h0.9M182.0 129.4h0.9M182.6 128.5h0.9M183.4 133.5h0.9M186.1 131.5h0.9M177.1 137.8h0.9M206.1 129.5h0.9M200.1 131.4h0.9M181.4 135.2h0.9M196.6 128.1h0.9M195.3 130.4h0.9M181.4 130.3h0.9M186.2 133.6h0.9M196.8 131.8h0.9M186.3 125.9h0.9M189.2 127.7h0.9M183.6 131.2h0.9M199.7 137.0h0.9M194.9 125.2h0.9M182.2 127.5h0.9M197.7 130.7h0.9M184.7 131.1h0.9M187.9 125.0h0.9M176.7 133.5h0.9M184.9 132.7h0.9M188.7 134.4h0.9M203.7 126.0h0.9M183.9 132.5h0.9M177.3 133.4h0.9M181.5 119.3h0.9M197.6 127.8h0.9M176.9 136.4h0.9M207.6 128.9h0.9M200.7 129.4h0.9M202.8 135.2h0.9M190.7 128.9h0.9M191.5 127.6h0.9M193.9 129.2h0.9M200.2 133.7h0.9M177.5 129.3h0.9M186.9 125.0h0.9M198.8 132.3h0.9M183.6 130.4h0.9M193.4 130.2h0.9M183.4 131.0h0.9M179.5 126.1h0.9M188.9 132.8h0.9M186.6 129.1h0.9M201.1 129.1h0.9M204.3 132.6h0.9M191.5 133.0h0.9M188.1 130.2h0.9M191.0 134.0h0.9M177.5 132.3h0.9M202.0 133.4h0.9M183.4 138.1h0.9M180.8 128.0h0.9M187.0 129.7h0.9M178.3 128.9h0.9M197.2 128.3h0.9M204.1 127.1h0.9M180.0 130.3h0.9M186.6 130.8h0.9M187.9 125.0h0.9M198.5 125.6h0.9M179.4 141.4h0.9M198.0 130.2h0.9M200.3 137.0h0.9M177.8 128.4h0.9M186.9 125.8h0.9M202.1 130.6h0.9M192.4 128.2h0.9M178.4 134.6h0.9M204.0 130.2h0.9M176.4 139.0h0.9M197.0 131.5h0.9M190.1 126.8h0.9M188.7 134.0h0.9M179.8 134.0h0.9M204.3 132.5h0.9M202.5 132.1h0.9M186.6 135.0h0.9M205.4 130.3h0.9M201.9 126.6h0.9M180.2 131.1h0.9M179.6 131.1h0.9M203.9 130.4h0.9M191.7 136.5h0.9M203.4 128.5h0.9M196.1 129.1h0.9M177.9 125.6h0.9M178.6 126.1h0.9M176.9 133.1h0.9M191.2 126.5h0.9M195.7 131.5h0.9M205.5 127.0h0.9M177.2 126.0h0.9M176.7 141.8h0.9M195.1 128.5h0.9M179.7 131.0h0.9M201.1 128.4h0.9M180.9 135.3h0.9M178.4 127.7h0.9M177.0 129.8h0.9M186.2 125.9h0.9M187.6 129.5h0.9M186.5 134.6h0.9M181.4 132.1h0.9M201.7 131.0h0.9M189.1 126.8h0.9M198.1 122.8h0.9M178.7 132.7h0.9M178.6 131.4h0.9M178.4 124.5h0.9M198.8 130.1h0.9M196.6 126.3h0.9M185.8 125.2h0.9M196.4 127.3h0.9M178.5 127.0h0.9M184.2 124.9h0.9M178.3 135.0h0.9M183.9 130.1h0.9M199.8 129.9h0.9M210.9 125.9h0.9M205.4 133.6h0.9M194.0 125.7h0.9M187.4 128.9h0.9M194.4 133.4h0.9M202.5 129.4h0.9M193.4 124.6h0.9M178.5 127.4h0.9M186.6 133.6h0.9M202.2 127.7h0.9M189.2 134.2h0.9M183.6 129.0h0.9M177.6 136.3h0.9M183.7 131.5h0.9M194.0 124.8h0.9M178.9 132.3h0.9M178.9 134.1h0.9M176.7 133.0h0.9M183.2 132.9h0.9M181.2 135.3h0.9M177.2 134.0h0.9M183.9 135.7h0.9M183.6 126.2h0.9M182.8 126.6h0.9M199.4 131.1h0.9M195.5 130.7h0.9M199.1 132.4h0.9M199.1 132.5h0.9M193.4 132.4h0.9M210.6 132.6h0.9M187.1 129.6h0.9M182.9 133.7h0.9M198.1 130.1h0.9M199.4 132.7h0.9M190.2 122.2h0.9M191.2 129.8h0.9M206.4 131.9h0.9M192.8 123.4h0.9M195.6 124.6h0.9M200.3 132.0h0.9M198.9 135.7h0.9M181.9 128.2h0.9M178.1 137.6h0.9M177.9 125.8h0.9M177.3 129.2h0.9M203.5 133.3h0.9M180.3 137.6h0.9M182.9 129.0h0.9M181.3 139.0h0.9M190.5 141.5h0.9M208.0 128.1h0.9M177.7 123.7h0.9M190.8 124.3h0.9M199.9 129.8h0.9M195.7 134.3h0.9M192.9 130.8h0.9M178.0 137.4h0.9M186.1 130.8h0.9M176.7 124.4h0.9M199.9 134.4h0.9M192.4 128.9h0.9M195.3 121.2h0.9M185.1 132.7h0.9M199.0 130.7h0.9M193.2 138.4h0.9M200.5 133.6h0.9M186.1 131.8h0.9M189.6 123.6h0.9M191.1 131.2h0.9M206.8 132.2h0.9M195.9 130.5h0.9M194.2 127.8h0.9M180.0 137.1h0.9M191.5 136.7h0.9M179.1 128.3h0.9M176.4 136.2h0.9M187.7 135.9h0.9M180.7 124.8h0.9M187.0 122.1h0.9M184.5 132.8h0.9M177.4 132.5h0.9M194.1 122.9h0.9M181.3 126.1h0.9M180.3 122.9h0.9M204.2 126.6h0.9M202.0 133.7h0.9M188.3 138.8h0.9M183.0 132.5h0.9M204.9 130.2h0.9M184.6 124.8h0.9M176.8 128.1h0.9M181.9 129.8h0.9M189.0 128.6h0.9M198.9 124.6h0.9M188.4 133.6h0.9M198.5 134.0h0.9M188.1 139.0h0.9M190.3 127.2h0.9M176.5 131.8h0.9M193.4 126.5h0.9M182.4 138.3h0.9M187.9 134.8h0.9M192.8 131.6h0.9M205.6 131.7h0.9M199.2 132.0h0.9M196.6 128.9h0.9M193.4 123.3h0.9M193.0 127.6h0.9M193.5 133.0h0.9M210.1 130.6h0.9M200.5 131.0h0.9M180.3 132.0h0.9M190.4 128.7h0.9M202.7 136.9h0.9M191.5 128.4h0.9M186.1 133.3h0.9M176.6 125.3h0.9M193.2 131.5h0.9M207.8 157.6h0.9M186.5 160.5h0.9M205.1 162.0h0.9M210.8 166.8h0.9M179.5 159.5h0.9M186.1 169.2h0.9M192.5 156.1h0.9M183.1 169.7h0.9M200.9 154.8h0.9M186.4 161.7h0.9M183.4 164.6h0.9M202.7 157.1h0.9M182.7 162.5h0.9M206.6 159.6h0.9M188.5 164.8h0.9M192.6 163.2h0.9M198.3 156.1h0.9M195.7 157.1h0.9M190.9 161.6h0.9M188.0 165.2h0.9M182.0 152.5h0.9M201.4 156.2h0.9M194.7 162.6h0.9M202.7 157.8h0.9M193.5 159.9h0.9M201.3 157.6h0.9M188.5 160.6h0.9M206.8 163.3h0.9M177.6 159.8h0.9M183.2 169.8h0.9M200.5 165.7h0.9M202.3 157.8h0.9M207.9 161.2h0.9M190.4 161.3h0.9M208.0 158.6h0.9M182.5 154.3h0.9M195.9 161.5h0.9M200.8 154.6h0.9M193.0 154.8h0.9M185.8 160.3h0.9M200.0 157.6h0.9M201.8 168.5h0.9M205.6 158.8h0.9M193.0 164.6h0.9M178.2 153.0h0.9M186.8 161.8h0.9M196.5 160.1h0.9M200.2 158.7h0.9M193.2 168.4h0.9M198.8 161.8h0.9M187.7 165.6h0.9M183.5 158.7h0.9M202.3 164.5h0.9M197.0 161.5h0.9M194.8 163.7h0.9M195.2 160.9h0.9M200.1 157.3h0.9M196.5 158.9h0.9M192.4 164.9h0.9M200.5 167.2h0.9M185.3 160.0h0.9M205.0 162.8h0.9M195.2 161.2h0.9M190.1 166.2h0.9M179.5 153.1h0.9M182.7 163.4h0.9M191.7 172.3h0.9M194.1 160.3h0.9M180.4 167.9h0.9M187.1 157.6h0.9M203.6 160.7h0.9M201.6 154.7h0.9M193.6 169.3h0.9M190.6 168.1h0.9M212.7 163.4h0.9M180.9 170.9h0.9M207.2 162.8h0.9M196.0 158.8h0.9M182.4 163.1h0.9M197.1 165.3h0.9M191.8 166.5h0.9M196.9 155.6h0.9M208.1 169.1h0.9M188.7 158.4h0.9M188.5 166.8h0.9M194.5 168.0h0.9M200.2 158.2h0.9M200.9 163.6h0.9M192.1 150.8h0.9M212.1 159.8h0.9M197.2 149.9h0.9M181.6 164.2h0.9M203.0 163.9h0.9M184.7 160.6h0.9M185.2 165.7h0.9M185.6 155.4h0.9M190.6 156.9h0.9M182.2 164.2h0.9M179.4 166.5h0.9M181.7 150.2h0.9M194.7 156.3h0.9M201.3 162.7h0.9M206.2 155.2h0.9M194.5 161.1h0.9M193.5 161.8h0.9M203.1 162.2h0.9M187.2 161.3h0.9M199.7 165.5h0.9M195.5 160.7h0.9M177.6 164.3h0.9M186.2 162.8h0.9M203.7 168.4h0.9M190.2 157.0h0.9M178.4 156.9h0.9M187.1 161.3h0.9M197.0 163.0h0.9M193.6 167.9h0.9M202.3 165.9h0.9M209.7 161.0h0.9M204.0 159.5h0.9M187.6 162.3h0.9M190.1 158.2h0.9M179.6 160.9h0.9M193.7 163.3h0.9M205.6 160.9h0.9M186.9 166.4h0.9M194.9 166.7h0.9M186.1 162.5h0.9M205.9 158.6h0.9M200.2 161.1h0.9M184.6 163.1h0.9M182.4 155.7h0.9M212.2 160.0h0.9M179.6 159.3h0.9M180.4 146.5h0.9M204.0 157.7h0.9M196.8 164.3h0.9M204.5 162.2h0.9M185.9 156.9h0.9M200.0 161.8h0.9M198.4 163.9h0.9M205.3 159.2h0.9M211.0 159.6h0.9M202.5 165.8h0.9M199.1 159.6h0.9M193.0 156.8h0.9M199.1 157.5h0.9M183.4 164.6h0.9M194.0 169.7h0.9M204.6 168.9h0.9M190.2 149.8h0.9M204.8 159.4h0.9M202.4 152.0h0.9M190.4 165.5h0.9M194.1 156.2h0.9M189.0 161.0h0.9M179.0 167.3h0.9M187.9 159.3h0.9M197.6 172.1h0.9M188.7 158.1h0.9M191.9 152.6h0.9M202.2 156.8h0.9M202.9 157.8h0.9M200.9 155.7h0.9M190.5 160.7h0.9M180.7 163.4h0.9M189.2 161.5h0.9M184.5 160.8h0.9M202.2 168.5h0.9M178.7 157.7h0.9M191.8 161.1h0.9M196.9 156.0h0.9M186.2 153.0h0.9M184.2 153.0h0.9M178.9 156.4h0.9M209.4 165.8h0.9M189.4 160.3h0.9M192.3 165.1h0.9M214.6 162.1h0.9M208.9 160.6h0.9M187.4 165.8h0.9M179.7 150.4h0.9M191.9 166.9h0.9M190.0 153.4h0.9M186.9 164.2h0.9M188.5 158.1h0.9M179.4 154.0h0.9M189.6 157.0h0.9M197.3 160.0h0.9M212.9 160.5h0.9M179.9 155.7h0.9M180.3 162.8h0.9M179.6 148.3h0.9M213.8 160.6h0.9M210.4 160.2h0.9M207.9 163.3h0.9M181.6 154.3h0.9M200.6 158.2h0.9M181.6 161.3h0.9M195.0 165.8h0.9M207.5 157.2h0.9M211.0 160.5h0.9M178.6 156.3h0.9M189.2 160.4h0.9M187.6 153.5h0.9M198.9 156.1h0.9M203.8 162.5h0.9M192.1 166.4h0.9M207.8 157.3h0.9M180.5 163.3h0.9M183.8 168.3h0.9M197.0 161.8h0.9M182.2 158.2h0.9M190.2 164.9h0.9M196.3 165.7h0.9M186.4 159.6h0.9M181.2 159.6h0.9M189.3 170.4h0.9M201.2 153.6h0.9M182.6 151.1h0.9M202.1 164.1h0.9M187.0 172.1h0.9M201.7 158.3h0.9M184.3 158.5h0.9M184.6 158.6h0.9M204.2 167.8h0.9M195.3 152.7h0.9M207.3 158.7h0.9M202.7 164.1h0.9M179.2 164.4h0.9M186.1 156.3h0.9M187.2 153.9h0.9M207.3 164.1h0.9M195.8 157.8h0.9M178.8 165.7h0.9M194.3 165.4h0.9M201.4 156.0h0.9M179.6 164.8h0.9M182.8 158.7h0.9M202.2 165.6h0.9M196.1 166.0h0.9M182.7 168.1h0.9M180.4 160.6h0.9M202.0 156.0h0.9M196.0 158.4h0.9M201.5 166.0h0.9M187.2 165.7h0.9M188.3 159.6h0.9M180.7 173.4h0.9M191.9 155.9h0.9M181.6 148.4h0.9M213.4 155.8h0.9M207.2 162.4h0.9M186.1 168.9h0.9M192.4 151.7h0.9M194.3 159.3h0.9M198.7 155.1h0.9M184.0 159.9h0.9M204.2 154.3h0.9M195.8 152.8h0.9M192.3 163.0h0.9M186.7 149.5h0.9M194.2 160.5h0.9M201.2 156.3h0.9M212.9 155.5h0.9M190.6 162.3h0.9M188.3 155.3h0.9M208.8 157.3h0.9M184.0 155.4h0.9M193.1 162.8h0.9M181.7 171.5h0.9M190.3 155.4h0.9M201.7 158.9h0.9M191.0 160.8h0.9M196.2 163.6h0.9M197.5 164.4h0.9M196.0 160.9h0.9M184.2 147.6h0.9M190.3 160.5h0.9M185.0 166.1h0.9M183.5 158.0h0.9M199.3 159.4h0.9M177.5 160.3h0.9M196.8 160.5h0.9M195.1 155.1h0.9M180.2 153.2h0.9M184.2 161.2h0.9M191.1 165.6h0.9M183.0 161.7h0.9M200.8 159.1h0.9M185.0 166.1h0.9M181.8 163.8h0.9M189.6 168.2h0.9M179.0 156.7h0.9M182.9 159.2h0.9M193.1 163.9h0.9M211.5 157.3h0.9M194.8 162.3h0.9M199.5 158.6h0.9M188.1 161.0h0.9M180.2 153.4h0.9M180.2 157.1h0.9M191.0 164.0h0.9M187.6 167.4h0.9M181.8 166.7h0.9M183.8 161.3h0.9M191.3 160.2h0.9M181.5 163.9h0.9M183.7 166.3h0.9M199.1 160.9h0.9M213.4 162.1h0.9M197.4 157.0h0.9M184.1 162.4h0.9M179.5 155.2h0.9M201.2 163.4h0.9M199.5 151.0h0.9M187.3 159.2h0.9M197.8 163.0h0.9M188.0 162.9h0.9M186.5 161.7h0.9M188.7 170.2h0.9M194.6 166.3h0.9M201.0 163.0h0.9M179.3 159.1h0.9M194.9 166.7h0.9M202.6 163.2h0.9M204.8 155.9h0.9M207.1 160.4h0.9M187.2 167.1h0.9M195.4 166.3h0.9M199.1 160.5h0.9M188.9 162.0h0.9M197.1 161.3h0.9M177.6 151.5h0.9M191.3 162.6h0.9M179.6 157.2h0.9M190.9 166.6h0.9M196.1 162.0h0.9M204.7 156.2h0.9M211.4 160.0h0.9M201.3 157.7h0.9M189.0 155.6h0.9M199.2 160.7h0.9M195.7 160.9h0.9M186.6 160.6h0.9M191.0 158.5h0.9M188.4 157.2h0.9M206.2 161.7h0.9M215.0 161.9h0.9M184.8 158.7h0.9M206.1 161.4h0.9M191.4 157.9h0.9M202.6 161.0h0.9M196.4 165.3h0.9M208.4 167.1h0.9M183.3 160.8h0.9M184.2 161.2h0.9M192.6 155.8h0.9M201.4 162.0h0.9M187.9 161.2h0.9M186.9 167.6h0.9M196.3 154.9h0.9M182.2 168.5h0.9M208.4 150.6h0.9M177.9 168.0h0.9M178.5 151.1h0.9M200.0 154.6h0.9M190.6 171.4h0.9M190.0 155.6h0.9M186.8 159.5h0.9M200.2 151.7h0.9M183.7 156.0h0.9M187.8 161.1h0.9M194.0 155.9h0.9M202.1 160.4h0.9M204.5 156.5h0.9M186.0 163.6h0.9M181.5 166.2h0.9M190.5 160.5h0.9M180.2 149.1h0.9M191.7 156.9h0.9M207.6 160.7h0.9M191.0 160.5h0.9M198.8 149.8h0.9M184.0 157.8h0.9M198.0 157.8h0.9M206.0 155.5h0.9M179.1 161.3h0.9M182.3 153.8h0.9M208.9 159.2h0.9M194.0 167.5h0.9M184.8 160.7h0.9M196.2 159.3h0.9M182.4 162.6h0.9M194.2 167.1h0.9M206.8 169.6h0.9M179.1 166.7h0.9M187.3 163.1h0.9M206.5 161.7h0.9M204.8 156.0h0.9M185.9 150.9h0.9M183.4 159.9h0.9M184.0 160.8h0.9M198.5 155.4h0.9M181.4 162.5h0.9M186.6 162.7h0.9M202.1 160.6h0.9M192.5 165.4h0.9M195.9 155.5h0.9M209.0 159.7h0.9M199.0 156.2h0.9M191.6 158.6h0.9M184.7 145.8h0.9M200.7 154.0h0.9M177.4 162.0h0.9M183.6 172.3h0.9M180.9 157.6h0.9M182.7 157.0h0.9M200.7 153.8h0.9M208.8 166.0h0.9M205.6 165.9h0.9M183.3 171.6h0.9M204.0 156.3h0.9M200.0 161.6h0.9M214.4 166.6h0.9M199.1 154.4h0.9M194.8 166.3h0.9M183.3 153.4h0.9M191.9 158.7h0.9M181.6 168.9h0.9M181.9 149.8h0.9M200.4 159.7h0.9M185.6 170.4h0.9M189.5 161.3h0.9M213.2 159.4h0.9M189.1 164.3h0.9M210.6 156.3h0.9M191.6 158.9h0.9M178.1 163.6h0.9M197.5 156.6h0.9M187.6 171.6h0.9M182.0 160.1h0.9M178.6 155.4h0.9M177.8 163.3h0.9M184.6 152.9h0.9M191.1 160.2h0.9M213.6 159.1h0.9M178.8 159.1h0.9M197.4 169.2h0.9M197.0 156.4h0.9M183.3 151.9h0.9M192.9 152.4h0.9M179.3 170.5h0.9M186.1 150.2h0.9M211.8 159.7h0.9M209.7 163.7h0.9M193.8 164.5h0.9M192.2 167.0h0.9M193.0 165.5h0.9M195.7 171.1h0.9M190.0 160.1h0.9M182.0 153.7h0.9M203.4 167.8h0.9M189.4 156.7h0.9M212.4 162.3h0.9M198.7 161.7h0.9M198.0 163.5h0.9M184.0 165.3h0.9M180.0 156.9h0.9M194.8 160.4h0.9M199.4 158.1h0.9M179.9 163.7h0.9M190.4 160.9h0.9M202.0 160.9h0.9M180.1 146.9h0.9M207.8 163.2h0.9M194.9 161.2h0.9M201.4 160.8h0.9M210.8 158.8h0.9M189.6 164.0h0.9M208.7 156.7h0.9M192.9 162.9h0.9M188.5 161.9h0.9M212.6 157.8h0.9M184.8 142.7h0.9M198.8 172.3h0.9M189.3 157.7h0.9M185.2 150.6h0.9M212.3 165.1h0.9M205.8 159.1h0.9M209.0 158.4h0.9M193.1 157.1h0.9M180.2 150.4h0.9M194.3 155.8h0.9M197.1 158.0h0.9M183.6 163.3h0.9M186.7 159.6h0.9M196.5 164.8h0.9M185.5 156.9h0.9M195.4 161.4h0.9M191.5 156.0h0.9M181.4 149.8h0.9M188.2 169.1h0.9M187.0 156.8h0.9M206.7 168.1h0.9M186.1 171.4h0.9M182.8 162.8h0.9M186.8 165.1h0.9M204.9 157.8h0.9M206.4 168.8h0.9M192.5 159.2h0.9M210.6 154.3h0.9M194.1 166.4h0.9M196.5 156.1h0.9M190.4 163.7h0.9M181.4 158.1h0.9M199.3 151.4h0.9M181.2 154.5h0.9M183.4 167.0h0.9M191.2 158.7h0.9M199.2 167.2h0.9M193.9 157.6h0.9M203.0 161.6h0.9M203.2 158.0h0.9M204.8 165.2h0.9M202.1 159.4h0.9M182.0 161.7h0.9M206.9 151.8h0.9M183.7 167.8h0.9M199.9 153.4h0.9M192.9 160.2h0.9M201.2 161.6h0.9M177.8 157.3h0.9M179.7 162.5h0.9M189.9 153.1h0.9M209.3 158.9h0.9M192.2 154.6h0.9M201.9 165.1h0.9M202.7 163.1h0.9M179.4 162.2h0.9M188.4 165.5h0.9M194.6 156.3h0.9M178.0 164.3h0.9M206.8 159.9h0.9M195.8 166.2h0.9M183.9 156.0h0.9M204.2 151.9h0.9M194.9 164.0h0.9M200.6 162.7h0.9M186.4 159.5h0.9M212.7 160.9h0.9M211.0 165.6h0.9M205.5 162.0h0.9M187.9 165.9h0.9M191.6 171.3h0.9M214.5 160.2h0.9M193.5 164.0h0.9M196.3 172.9h0.9M182.9 162.6h0.9M180.4 162.8h0.9M209.4 158.8h0.9M195.5 153.5h0.9M184.5 161.4h0.9M213.2 160.8h0.9M183.5 163.6h0.9M181.1 164.2h0.9M189.4 156.3h0.9M178.1 152.6h0.9M190.1 161.5h0.9M190.7 168.7h0.9M214.6 161.0h0.9M184.4 173.6h0.9M205.6 152.6h0.9M191.3 153.4h0.9M198.3 161.2h0.9M186.0 160.8h0.9M197.6 159.0h0.9M181.8 167.7h0.9M182.5 163.3h0.9M190.7 167.2h0.9M200.4 158.5h0.9M183.3 165.6h0.9M191.4 160.1h0.9M185.8 154.7h0.9M191.1 147.5h0.9M180.6 154.7h0.9M188.5 156.6h0.9M191.4 161.4h0.9M186.2 164.7h0.9M181.8 149.8h0.9M184.8 170.7h0.9M185.3 166.1h0.9M181.7 150.4h0.9M200.1 159.4h0.9M181.1 154.2h0.9M206.2 151.0h0.9M191.0 159.7h0.9M188.7 151.7h0.9M177.5 150.0h0.9M204.1 161.0h0.9M182.0 169.1h0.9M182.8 165.3h0.9M206.3 160.5h0.9M208.7 152.6h0.9M191.1 157.8h0.9M196.9 160.4h0.9M188.4 171.8h0.9M187.3 160.4h0.9M178.5 165.3h0.9M199.8 158.5h0.9M183.1 156.3h0.9M194.5 170.5h0.9M183.5 169.5h0.9M192.3 158.7h0.9M181.5 164.9h0.9M188.7 164.3h0.9M180.3 156.4h0.9M182.6 152.1h0.9M177.8 157.6h0.9M191.9 169.3h0.9M194.5 161.1h0.9M192.4 168.3h0.9M187.1 170.3h0.9M201.5 165.5h0.9M207.0 159.8h0.9M194.9 157.3h0.9M196.2 156.5h0.9M180.4 155.6h0.9M212.8 155.3h0.9M182.4 172.5h0.9M181.6 158.8h0.9M193.3 153.5h0.9M187.0 159.0h0.9M188.8 152.7h0.9M214.1 159.7h0.9M178.2 168.4h0.9M192.8 160.4h0.9M206.7 159.6h0.9M195.5 164.9h0.9M185.1 158.8h0.9M203.7 166.2h0.9M198.0 162.1h0.9M179.8 153.3h0.9M188.3 167.1h0.9M192.0 158.2h0.9M185.4 161.2h0.9M180.5 151.7h0.9M178.6 143.8h0.9M191.1 159.1h0.9M200.4 164.1h0.9M185.7 162.8h0.9M183.7 162.5h0.9M196.7 156.5h0.9M209.2 157.5h0.9M183.4 160.1h0.9M184.7 163.8h0.9M210.4 150.4h0.9M187.8 157.7h0.9M193.0 155.1h0.9M192.0 162.9h0.9M178.7 156.5h0.9M189.6 161.9h0.9M213.2 155.7h0.9M189.5 165.1h0.9M186.7 162.6h0.9M190.6 158.9h0.9M186.7 160.2h0.9M187.3 155.3h0.9M181.5 154.0h0.9M188.7 164.5h0.9M191.4 166.4h0.9M184.0 151.8h0.9M197.2 166.4h0.9M186.5 157.8h0.9M180.8 159.3h0.9M196.7 157.6h0.9M194.2 168.5h0.9M183.0 161.4h0.9M198.3 154.3h0.9M191.2 159.4h0.9M191.2 160.4h0.9M200.9 157.8h0.9M181.8 158.1h0.9M194.9 163.7h0.9M179.3 158.0h0.9M178.5 162.7h0.9M190.4 158.6h0.9M195.4 153.8h0.9M186.0 153.8h0.9M196.1 152.1h0.9M207.1 164.4h0.9M208.5 159.5h0.9M198.9 159.9h0.9M197.6 153.1h0.9M185.7 162.9h0.9M179.7 159.1h0.9M193.0 154.9h0.9M201.8 160.7h0.9M203.0 164.1h0.9M186.6 164.3h0.9M209.7 159.7h0.9M201.1 164.1h0.9M211.9 162.0h0.9M187.0 172.6h0.9M189.0 153.9h0.9M182.2 170.1h0.9M188.9 160.7h0.9M187.8 161.9h0.9M182.5 155.4h0.9M202.4 156.1h0.9M187.1 168.7h0.9M196.1 162.2h0.9M186.9 159.7h0.9M194.7 164.0h0.9M199.4 166.9h0.9M180.3 164.7h0.9M183.3 155.8h0.9M200.5 160.5h0.9M179.4 166.4h0.9M186.2 156.1h0.9M188.8 156.0h0.9M192.7 164.4h0.9M202.7 156.7h0.9M181.2 165.2h0.9M195.7 160.9h0.9M196.0 154.8h0.9M182.7 160.3h0.9M195.4 159.7h0.9M205.6 156.7h0.9M190.6 153.3h0.9M202.1 162.3h0.9M179.0 158.9h0.9M192.8 161.5h0.9M187.7 166.2h0.9M201.9 159.3h0.9M177.7 169.1h0.9M188.5 164.5h0.9M179.6 158.2h0.9M207.2 161.7h0.9M189.3 158.0h0.9M191.2 166.1h0.9M190.0 155.8h0.9M193.0 160.6h0.9M198.6 151.6h0.9M191.8 165.8h0.9M179.2 165.6h0.9M189.4 162.6h0.9M204.6 153.9h0.9M204.4 160.3h0.9M193.8 159.7h0.9M194.6 158.6h0.9M191.1 160.3h0.9M189.5 171.1h0.9M206.0 158.0h0.9M189.4 159.9h0.9M184.3 157.5h0.9M210.6 158.0h0.9M181.3 173.9h0.9M180.5 155.7h0.9M206.8 161.8h0.9M199.1 165.1h0.9M183.2 149.8h0.9M200.6 165.3h0.9M180.2 146.9h0.9M177.8 153.9h0.9M214.7 156.5h0.9M191.3 170.8h0.9M181.8 165.0h0.9M203.1 156.0h0.9M179.6 161.1h0.9M180.5 171.2h0.9M185.6 167.0h0.9M192.9 164.0h0.9M196.2 158.7h0.9M178.6 156.2h0.9M180.0 146.5h0.9M181.6 161.5h0.9M182.6 157.9h0.9M214.8 163.9h0.9M190.1 156.9h0.9M196.5 167.1h0.9M189.0 156.8h0.9M201.7 159.1h0.9M203.2 157.5h0.9M204.6 167.9h0.9M198.6 159.6h0.9M191.0 156.8h0.9M205.3 160.1h0.9M190.8 168.3h0.9M205.4 153.9h0.9M197.9 166.3h0.9M207.1 155.5h0.9M184.6 165.2h0.9M179.5 155.7h0.9M186.2 158.4h0.9M196.0 161.9h0.9M187.2 164.2h0.9M182.4 163.3h0.9M196.1 164.0h0.9M179.2 161.3h0.9M213.3 166.3h0.9M199.5 158.7h0.9M184.1 157.8h0.9M184.2 165.9h0.9M182.8 162.8h0.9M178.6 170.7h0.9M189.9 165.3h0.9M195.1 160.9h0.9M181.0 158.9h0.9M201.7 160.2h0.9M185.3 156.9h0.9M183.3 156.6h0.9M181.2 159.8h0.9M189.6 163.4h0.9M184.0 156.3h0.9M177.8 159.0h0.9M200.4 153.9h0.9M179.7 155.4h0.9M188.6 153.4h0.9M192.7 153.5h0.9M194.1 160.4h0.9M189.7 160.2h0.9M178.6 170.8h0.9M178.3 155.1h0.9M190.8 163.2h0.9M178.1 154.9h0.9M189.9 168.7h0.9M182.7 153.4h0.9M178.9 168.1h0.9M179.9 150.2h0.9M198.6 158.5h0.9M196.4 164.9h0.9M203.3 155.0h0.9M201.6 160.5h0.9M178.2 162.0h0.9M202.8 159.8h0.9M180.2 165.6h0.9M182.6 170.1h0.9M195.0 154.7h0.9M209.1 162.5h0.9M194.0 159.6h0.9M193.5 162.7h0.9M190.9 164.3h0.9M183.0 149.2h0.9M188.5 155.0h0.9M180.8 155.6h0.9M194.2 153.1h0.9M198.5 161.2h0.9M202.6 161.4h0.9M213.4 161.5h0.9M191.6 164.0h0.9M193.7 159.0h0.9M186.7 152.1h0.9M191.5 154.5h0.9M207.5 158.3h0.9M201.2 163.2h0.9M180.9 163.2h0.9M213.2 159.0h0.9M200.0 157.6h0.9M190.0 162.1h0.9M188.1 163.5h0.9M201.2 163.4h0.9M183.3 151.9h0.9M188.0 152.7h0.9M190.6 157.5h0.9M181.1 167.2h0.9M193.9 159.8h0.9M203.9 161.8h0.9M203.5 156.9h0.9M185.7 168.4h0.9M182.0 158.0h0.9M179.2 162.1h0.9M192.0 152.2h0.9M201.9 169.1h0.9M205.1 157.9h0.9M188.9 161.0h0.9M182.2 166.3h0.9M181.2 159.9h0.9M179.7 163.5h0.9M202.6 164.5h0.9M179.2 169.1h0.9M189.2 161.5h0.9M190.7 171.5h0.9M195.3 155.8h0.9M207.0 166.8h0.9M179.9 166.8h0.9M199.4 158.2h0.9M186.5 160.6h0.9M189.1 162.4h0.9M180.5 167.9h0.9M187.1 158.2h0.9M193.9 154.5h0.9M180.2 163.9h0.9M183.5 154.0h0.9M190.8 153.5h0.9M179.9 147.1h0.9M178.1 166.2h0.9M179.4 158.1h0.9M205.5 160.0h0.9M201.9 169.1h0.9M213.7 155.8h0.9M202.8 165.1h0.9M182.4 159.3h0.9M186.6 166.8h0.9M196.9 158.7h0.9M209.9 154.2h0.9M186.0 163.6h0.9M191.7 170.1h0.9M188.5 165.2h0.9M188.8 163.4h0.9M207.2 152.4h0.9M197.5 163.8h0.9M181.8 151.7h0.9M204.3 162.5h0.9M194.4 154.1h0.9M197.1 167.3h0.9M201.4 157.5h0.9M186.8 156.0h0.9M191.1 158.6h0.9M195.0 165.5h0.9M178.3 167.6h0.9M181.8 147.9h0.9M199.2 156.3h0.9M199.9 157.5h0.9M196.6 158.5h0.9M202.8 160.7h0.9M182.4 160.7h0.9M203.2 166.3h0.9M188.1 162.2h0.9M177.5 159.8h0.9M197.1 159.5h0.9M186.2 150.9h0.9M181.6 163.9h0.9M182.8 155.7h0.9M211.3 162.0h0.9M209.6 156.5h0.9M186.7 155.4h0.9M181.9 161.0h0.9M211.7 159.6h0.9M206.3 161.7h0.9M188.2 165.4h0.9M204.2 162.0h0.9M212.7 162.5h0.9M178.1 160.9h0.9M203.3 157.9h0.9M204.9 155.7h0.9M190.4 162.2h0.9M192.6 166.8h0.9M185.9 167.5h0.9M184.8 155.4h0.9M185.9 164.5h0.9M197.4 151.1h0.9M185.3 161.0h0.9M186.5 158.8h0.9M215.0 157.2h0.9M178.6 147.0h0.9M207.0 163.4h0.9M187.9 159.1h0.9M186.4 160.9h0.9M200.9 155.5h0.9M191.0 158.7h0.9M202.4 169.5h0.9M196.3 165.1h0.9M202.2 157.6h0.9M201.2 158.2h0.9M209.1 156.1h0.9M193.5 159.8h0.9M201.1 166.8h0.9M194.6 162.9h0.9M187.5 161.0h0.9M196.4 162.5h0.9M202.0 165.3h0.9M203.0 162.4h0.9M206.2 163.0h0.9M179.1 160.5h0.9M199.5 170.4h0.9M188.0 165.4h0.9M199.8 161.8h0.9M178.2 161.0h0.9M178.5 165.4h0.9M206.6 158.1h0.9M198.0 152.5h0.9M181.7 155.0h0.9M204.4 171.2h0.9M178.4 157.3h0.9M189.3 158.6h0.9M200.0 156.3h0.9M191.7 167.9h0.9M178.5 150.4h0.9M178.4 156.4h0.9M189.2 161.1h0.9M207.9 161.5h0.9M193.4 160.8h0.9M186.1 156.7h0.9M179.1 158.3h0.9M189.1 158.6h0.9M185.3 148.9h0.9M187.8 160.3h0.9M186.0 164.4h0.9M193.4 157.8h0.9M186.5 158.8h0.9M201.7 160.6h0.9M184.0 168.3h0.9M184.4 153.9h0.9M178.4 157.7h0.9M199.9 166.8h0.9M179.3 157.9h0.9M186.9 165.7h0.9M182.9 163.0h0.9M182.0 156.9h0.9M191.3 158.4h0.9M199.1 158.1h0.9M178.2 159.6h0.9M179.9 152.3h0.9M192.7 152.9h0.9M181.4 157.6h0.9M187.1 161.0h0.9M208.4 169.9h0.9M192.9 153.5h0.9M181.0 149.8h0.9M180.5 152.7h0.9M208.9 164.9h0.9M191.5 154.8h0.9M183.2 165.4h0.9M198.5 161.0h0.9M203.9 160.6h0.9M201.1 164.1h0.9M208.6 156.2h0.9M200.1 159.6h0.9M182.7 146.2h0.9M189.2 158.4h0.9M187.1 154.6h0.9M180.7 160.9h0.9M189.2 161.9h0.9M180.4 153.1h0.9M181.0 160.0h0.9M178.4 156.9h0.9M209.6 160.3h0.9M181.7 154.4h0.9M203.5 161.5h0.9M197.2 166.1h0.9M180.7 161.2h0.9M203.7 153.7h0.9M191.9 158.9h0.9M181.5 160.0h0.9M208.9 161.6h0.9M180.4 151.7h0.9M198.0 160.0h0.9M178.7 162.9h0.9M185.6 153.0h0.9M178.6 159.1h0.9M182.8 159.8h0.9M186.9 160.8h0.9M197.7 159.2h0.9M193.5 165.3h0.9M203.2 160.2h0.9M211.6 160.9h0.9M179.3 164.1h0.9M180.9 165.9h0.9M188.8 161.7h0.9M211.6 162.2h0.9M186.6 162.4h0.9M188.0 157.4h0.9M202.5 161.6h0.9M192.7 158.7h0.9M196.3 167.5h0.9M187.5 163.0h0.9M188.9 161.9h0.9M193.2 170.4h0.9M185.8 158.0h0.9M197.8 163.3h0.9M202.5 164.9h0.9M182.1 163.0h0.9M181.3 158.8h0.9M188.2 160.5h0.9M203.1 162.2h0.9M181.5 163.7h0.9M180.5 167.6h0.9M198.4 154.8h0.9M194.7 153.0h0.9M205.0 158.2h0.9M199.3 164.1h0.9M199.7 160.1h0.9M198.9 154.2h0.9M185.2 166.7h0.9M187.9 165.4h0.9M193.6 165.7h0.9M207.7 163.2h0.9M179.4 143.8h0.9M195.4 155.0h0.9M180.9 155.1h0.9M201.9 155.1h0.9M206.3 160.9h0.9M181.7 157.9h0.9M189.0 155.6h0.9M192.3 160.4h0.9M199.5 156.0h0.9M202.2 159.4h0.9M181.7 153.6h0.9M201.1 163.3h0.9M205.2 156.2h0.9M179.1 150.5h0.9M208.3 164.1h0.9M178.3 154.1h0.9M200.9 164.3h0.9M203.6 158.1h0.9M194.0 150.0h0.9M186.1 153.8h0.9M179.5 157.7h0.9M187.6 161.3h0.9M198.1 164.9h0.9M205.0 159.3h0.9M182.3 161.5h0.9M178.0 159.9h0.9M185.4 159.6h0.9M192.4 163.1h0.9M186.6 159.8h0.9M192.7 170.6h0.9M184.9 154.6h0.9M191.0 150.5h0.9M192.9 164.6h0.9M187.5 155.9h0.9M178.0 158.6h0.9M182.0 162.6h0.9M185.1 163.1h0.9M194.6 165.7h0.9M210.3 159.2h0.9M202.5 161.5h0.9M189.2 160.8h0.9M184.4 158.4h0.9M181.1 152.8h0.9M183.2 161.3h0.9M187.3 163.7h0.9M181.5 163.2h0.9M189.3 150.6h0.9M188.1 160.3h0.9M187.2 162.2h0.9M186.7 161.5h0.9M209.2 163.1h0.9M195.4 159.5h0.9M188.6 156.6h0.9M208.1 164.4h0.9M192.8 154.9h0.9M191.0 159.7h0.9M182.3 154.6h0.9M187.0 165.2h0.9M202.7 159.6h0.9M206.2 160.0h0.9M182.3 158.5h0.9M183.0 155.7h0.9M209.8 157.6h0.9M197.2 159.0h0.9M187.6 157.5h0.9M204.7 158.0h0.9M182.3 165.6h0.9M206.1 163.0h0.9M193.7 149.2h0.9M190.6 161.0h0.9M183.4 161.0h0.9M185.0 158.6h0.9M191.2 169.6h0.9M177.9 170.5h0.9M202.5 160.5h0.9M182.6 158.3h0.9M196.5 163.8h0.9M209.3 156.0h0.9M188.9 158.1h0.9M183.0 164.1h0.9M204.1 157.3h0.9M190.1 171.1h0.9M205.8 154.0h0.9M186.5 158.0h0.9M182.5 165.5h0.9M182.8 167.9h0.9M186.3 167.8h0.9M178.3 147.9h0.9M184.5 160.0h0.9M184.9 156.9h0.9M177.7 170.0h0.9M198.8 152.0h0.9M179.4 164.0h0.9M212.1 166.8h0.9M196.5 155.9h0.9M191.1 173.7h0.9M189.6 173.4h0.9M186.3 160.4h0.9M189.4 157.7h0.9M197.5 155.2h0.9M186.5 156.4h0.9M178.3 160.5h0.9M207.2 163.7h0.9M198.3 160.8h0.9M195.9 163.6h0.9M178.4 156.4h0.9M192.7 156.3h0.9M202.5 157.7h0.9M199.0 162.1h0.9M202.2 164.7h0.9M183.2 149.7h0.9M191.6 170.5h0.9M198.5 161.2h0.9M207.2 162.5h0.9M194.7 161.1h0.9M208.6 157.7h0.9M202.0 167.3h0.9M187.7 165.2h0.9M184.2 164.0h0.9M212.7 164.7h0.9M197.1 155.2h0.9M198.9 159.7h0.9M192.0 152.9h0.9M191.8 160.4h0.9M190.8 158.2h0.9M178.7 150.7h0.9M196.9 157.6h0.9M191.7 159.4h0.9M209.3 158.7h0.9M193.5 160.1h0.9M187.3 159.7h0.9M183.8 165.1h0.9M177.8 161.7h0.9M198.1 168.9h0.9M199.7 158.3h0.9M184.9 161.9h0.9M186.6 155.8h0.9M192.9 159.8h0.9M189.7 156.0h0.9M190.3 169.1h0.9M207.6 154.7h0.9M200.8 157.0h0.9M189.9 168.0h0.9M184.7 171.9h0.9M209.5 157.7h0.9M189.9 160.9h0.9M191.0 156.1h0.9M185.9 141.0h0.9M194.2 163.0h0.9M194.5 167.8h0.9M182.9 155.0h0.9M193.1 156.2h0.9M188.8 159.6h0.9M186.6 167.5h0.9M186.9 165.4h0.9M191.0 164.0h0.9M192.9 163.8h0.9M194.9 166.5h0.9M198.5 158.1h0.9M198.6 165.9h0.9M191.6 157.9h0.9M190.0 166.4h0.9M204.4 159.6h0.9M188.5 160.9h0.9M182.6 161.2h0.9M182.0 149.9h0.9M183.2 160.9h0.9M182.6 153.3h0.9M193.7 159.0h0.9M178.8 171.9h0.9M202.2 160.1h0.9M213.8 156.9h0.9M194.4 161.4h0.9M189.7 163.0h0.9M181.5 162.5h0.9M201.0 163.7h0.9M191.1 159.2h0.9M200.6 162.6h0.9M208.6 165.6h0.9M186.1 160.1h0.9M211.7 163.1h0.9M194.3 162.7h0.9M186.7 173.6h0.9M209.0 162.8h0.9M195.1 155.1h0.9M182.9 159.7h0.9M186.0 166.4h0.9M191.0 160.4h0.9M191.2 157.0h0.9M191.8 162.5h0.9M185.2 170.8h0.9M186.3 161.7h0.9M185.4 162.0h0.9M197.4 160.8h0.9M182.6 145.0h0.9M200.4 158.5h0.9M180.9 160.1h0.9M189.5 170.3h0.9M182.3 166.3h0.9M177.8 157.1h0.9M199.8 151.3h0.9M191.0 164.5h0.9M210.5 161.0h0.9M207.6 158.7h0.9M210.5 159.5h0.9M180.2 153.0h0.9M183.9 156.7h0.9M182.0 159.5h0.9M177.8 158.3h0.9M205.3 154.8h0.9M190.3 151.5h0.9M209.4 160.8h0.9M183.9 154.0h0.9M187.3 162.7h0.9M181.9 167.5h0.9M178.7 163.2h0.9M193.4 157.5h0.9M181.8 154.8h0.9M199.7 156.9h0.9M198.9 160.9h0.9M185.0 161.8h0.9M211.1 158.0h0.9M186.6 153.8h0.9M178.7 158.1h0.9M196.9 164.6h0.9M196.4 154.7h0.9M180.2 161.3h0.9M207.1 163.1h0.9M189.4 162.6h0.9M179.5 147.0h0.9M195.9 164.7h0.9M181.3 164.3h0.9M200.7 169.5h0.9M203.9 160.2h0.9M189.2 156.9h0.9M182.0 155.9h0.9M188.6 160.7h0.9M182.3 158.6h0.9M191.3 153.9h0.9M213.8 161.7h0.9M188.1 155.3h0.9M190.1 167.2h0.9M212.0 158.9h0.9M183.9 162.3h0.9M208.4 163.4h0.9M181.7 161.2h0.9M211.3 162.4h0.9M188.5 167.8h0.9M179.7 157.6h0.9M191.2 157.6h0.9M204.3 163.0h0.9M192.9 165.0h0.9M201.9 161.7h0.9M182.2 171.1h0.9M179.0 140.3h0.9M199.6 161.4h0.9M196.2 165.7h0.9M182.9 165.7h0.9M179.3 165.4h0.9M196.3 157.7h0.9M197.1 163.0h0.9M192.6 161.0h0.9M194.4 149.3h0.9M186.0 161.2h0.9M183.9 167.3h0.9M200.9 158.8h0.9M184.9 164.3h0.9M181.7 154.6h0.9M177.5 160.7h0.9M180.7 153.4h0.9M182.6 167.2h0.9M209.0 168.4h0.9M202.4 156.0h0.9M201.9 159.5h0.9M209.7 156.9h0.9M185.7 154.5h0.9M191.8 163.0h0.9M181.4 161.9h0.9M184.7 156.6h0.9M208.3 156.7h0.9M190.9 159.4h0.9M202.7 155.6h0.9M202.3 160.9h0.9M184.1 150.6h0.9M188.3 153.7h0.9M195.8 156.9h0.9M183.9 159.7h0.9M210.1 160.4h0.9M204.0 159.0h0.9M177.6 164.2h0.9M203.7 166.4h0.9M193.0 155.6h0.9M185.9 150.8h0.9M206.6 159.3h0.9M185.0 145.6h0.9M193.4 160.6h0.9M181.7 158.2h0.9M210.7 168.3h0.9M206.2 163.8h0.9M207.2 160.7h0.9M194.5 154.4h0.9M193.1 161.3h0.9M183.9 150.6h0.9M179.2 152.2h0.9M188.9 157.8h0.9M201.3 159.4h0.9M206.9 167.6h0.9M201.2 160.2h0.9M180.0 158.0h0.9M198.2 161.5h0.9M194.4 158.8h0.9M182.3 166.5h0.9M191.2 152.9h0.9M191.7 153.0h0.9M197.1 167.7h0.9M190.8 168.7h0.9M193.0 160.4h0.9M193.9 167.2h0.9M184.5 165.6h0.9M203.6 160.7h0.9M193.6 169.5h0.9M185.2 154.5h0.9M209.3 161.4h0.9M187.9 162.9h0.9M191.1 168.2h0.9M185.0 163.7h0.9M185.3 157.5h0.9M180.6 160.2h0.9M181.7 158.7h0.9M183.4 149.4h0.9M204.0 150.3h0.9M199.9 158.6h0.9M205.0 164.2h0.9M198.7 156.2h0.9M181.5 162.7h0.9M197.2 156.9h0.9M182.0 166.6h0.9M199.6 160.2h0.9M180.8 153.1h0.9M202.2 163.0h0.9M200.8 158.1h0.9M195.7 158.3h0.9M189.9 154.6h0.9M182.4 157.9h0.9M215.5 163.0h0.9M192.4 161.1h0.9M179.2 150.7h0.9M180.4 153.5h0.9M179.7 147.3h0.9M211.7 160.6h0.9M198.9 161.7h0.9M185.0 155.2h0.9M183.0 159.5h0.9M180.7 156.9h0.9M190.6 152.4h0.9M179.4 163.3h0.9M191.4 156.4h0.9M178.7 149.8h0.9M186.2 157.9h0.9M181.1 164.1h0.9M192.4 168.6h0.9M178.7 162.4h0.9M194.5 161.8h0.9M177.7 170.1h0.9M186.0 167.1h0.9M190.7 152.9h0.9M206.0 161.0h0.9M186.1 156.4h0.9M190.6 164.0h0.9M186.2 163.0h0.9M199.4 166.4h0.9M194.0 154.4h0.9M192.0 155.6h0.9M182.3 159.0h0.9M181.6 165.2h0.9M184.2 153.2h0.9M186.6 142.0h0.9M183.7 156.6h0.9M194.5 158.5h0.9M184.3 156.6h0.9M199.2 160.0h0.9M185.1 160.3h0.9M179.7 163.8h0.9M199.1 155.2h0.9M185.6 162.3h0.9M191.2 168.1h0.9M193.3 169.1h0.9M195.4 159.8h0.9M185.9 170.7h0.9M198.2 150.0h0.9M179.9 156.2h0.9M189.8 158.5h0.9M195.4 166.1h0.9M187.4 155.9h0.9M198.8 161.6h0.9M209.6 157.8h0.9M186.2 162.5h0.9M188.2 157.0h0.9M189.5 154.6h0.9M188.8 149.8h0.9M185.5 155.1h0.9M182.8 144.1h0.9M192.5 165.4h0.9M191.1 160.6h0.9M181.4 149.7h0.9M192.1 151.8h0.9M191.9 159.8h0.9M184.1 166.5h0.9M183.6 155.8h0.9M212.9 158.9h0.9M210.1 153.6h0.9M184.7 159.9h0.9M180.3 156.1h0.9M194.6 160.4h0.9M189.3 161.9h0.9M184.9 160.5h0.9M179.4 163.2h0.9M180.8 158.2h0.9M186.9 163.4h0.9M212.1 160.5h0.9M180.7 167.4h0.9M185.3 157.1h0.9M190.2 160.9h0.9M194.6 154.9h0.9M192.2 159.2h0.9M186.6 163.3h0.9M182.6 164.7h0.9M184.6 156.7h0.9M193.9 162.3h0.9M179.3 162.0h0.9M191.9 162.3h0.9M213.7 159.0h0.9M199.5 160.5h0.9M204.3 155.7h0.9M197.8 161.7h0.9M192.1 167.1h0.9M192.4 156.8h0.9M202.7 157.9h0.9M187.0 157.7h0.9M184.7 146.1h0.9M201.6 167.9h0.9M188.4 160.6h0.9M185.9 146.3h0.9M191.7 161.4h0.9M178.4 159.8h0.9M189.3 170.8h0.9M180.6 158.2h0.9M186.5 162.2h0.9M183.6 161.4h0.9M196.1 162.8h0.9M183.0 155.5h0.9M186.8 156.1h0.9M183.9 170.5h0.9M202.3 157.0h0.9M190.1 164.8h0.9M194.6 162.9h0.9M183.9 161.7h0.9M204.9 159.9h0.9M194.6 147.0h0.9M203.5 159.1h0.9M194.8 159.0h0.9M207.6 159.9h0.9M179.1 161.0h0.9M199.7 163.1h0.9M178.1 164.9h0.9M183.5 152.6h0.9M190.2 158.7h0.9M186.5 171.9h0.9M191.7 160.9h0.9M205.7 163.3h0.9M188.3 165.3h0.9M184.3 163.9h0.9M179.6 160.2h0.9M197.3 171.6h0.9M204.4 159.1h0.9M198.5 167.7h0.9M196.7 165.5h0.9M177.5 165.3h0.9M197.6 161.8h0.9M194.0 155.6h0.9M199.6 155.6h0.9M202.5 162.5h0.9M203.4 157.1h0.9M208.7 165.5h0.9M191.9 160.0h0.9M202.9 170.3h0.9M188.0 169.2h0.9M193.8 160.2h0.9M187.9 160.8h0.9M202.1 161.8h0.9M183.1 163.1h0.9M188.7 164.7h0.9M181.4 172.1h0.9M188.9 160.3h0.9M192.6 157.1h0.9M204.9 158.0h0.9M203.7 158.1h0.9M185.3 152.0h0.9M187.3 155.2h0.9M194.3 162.3h0.9M185.1 160.3h0.9M212.8 160.2h0.9M190.6 161.0h0.9M187.2 172.2h0.9M184.9 160.0h0.9M192.7 155.5h0.9M197.4 161.8h0.9M210.2 161.4h0.9M197.4 161.0h0.9M189.0 164.9h0.9M189.8 161.4h0.9M199.2 167.8h0.9M185.4 165.2h0.9M199.8 156.4h0.9M209.2 160.1h0.9M194.5 157.8h0.9M180.0 147.6h0.9M202.8 161.7h0.9M179.5 150.3h0.9M212.2 155.7h0.9M183.9 159.3h0.9M204.8 158.8h0.9M179.8 153.6h0.9M185.3 147.1h0.9M195.0 171.9h0.9M205.3 159.9h0.9M184.1 161.6h0.9M196.9 153.8h0.9M196.7 164.7h0.9M191.5 157.5h0.9M205.2 156.4h0.9M179.3 155.4h0.9M178.2 161.9h0.9M190.4 171.9h0.9M195.3 149.6h0.9M181.8 155.0h0.9M203.8 155.9h0.9M187.8 160.1h0.9M210.6 166.7h0.9M186.6 169.8h0.9M205.3 161.6h0.9M186.1 160.5h0.9M178.6 154.7h0.9M178.6 162.9h0.9M201.6 159.6h0.9M182.6 166.9h0.9M186.7 147.3h0.9M197.3 155.9h0.9M179.5 161.0h0.9M188.9 171.8h0.9M204.8 161.4h0.9M212.0 160.1h0.9M183.5 162.4h0.9M190.4 159.6h0.9M187.2 161.1h0.9M208.5 157.4h0.9M182.7 161.0h0.9M177.6 164.3h0.9M199.2 158.1h0.9M180.4 162.3h0.9M198.2 160.5h0.9M187.4 156.6h0.9M185.0 156.8h0.9M202.9 161.2h0.9M191.3 155.3h0.9M179.7 167.0h0.9M213.3 161.1h0.9M200.5 159.3h0.9M202.3 162.9h0.9M178.8 160.2h0.9M193.3 160.1h0.9M202.9 166.1h0.9M179.9 158.5h0.9M190.3 171.1h0.9M180.0 156.9h0.9M205.6 160.9h0.9M185.9 160.1h0.9M184.1 157.6h0.9M184.7 152.5h0.9M196.3 158.7h0.9M189.3 163.1h0.9M179.7 152.7h0.9M186.5 158.4h0.9M183.5 149.9h0.9M181.6 159.5h0.9M211.2 155.8h0.9M190.0 166.6h0.9M213.7 160.5h0.9M182.5 158.6h0.9M202.4 163.9h0.9M180.4 155.6h0.9M208.8 159.0h0.9M195.4 158.5h0.9M197.3 159.6h0.9M182.7 153.5h0.9M210.7 155.2h0.9M190.5 164.4h0.9M203.3 164.1h0.9M199.0 158.5h0.9M179.6 173.6h0.9M193.9 151.6h0.9M192.9 162.5h0.9M200.8 153.7h0.9M178.9 156.1h0.9M208.2 159.8h0.9M180.8 159.6h0.9M200.0 166.7h0.9M187.3 160.9h0.9M186.8 160.7h0.9M205.6 165.3h0.9M183.4 153.9h0.9M192.6 159.7h0.9M207.4 166.9h0.9M185.3 163.7h0.9M182.5 166.9h0.9M189.9 159.1h0.9M184.1 164.5h0.9M205.4 147.4h0.9M192.0 162.0h0.9M189.7 156.0h0.9M212.3 163.4h0.9M204.8 164.5h0.9M198.1 152.1h0.9M195.2 153.5h0.9M182.2 160.4h0.9M211.1 161.4h0.9M187.7 157.4h0.9M201.2 164.0h0.9M198.9 167.3h0.9M181.3 148.4h0.9M205.1 159.8h0.9M181.8 158.8h0.9M208.5 162.2h0.9M180.2 145.5h0.9M204.1 166.5h0.9M197.7 155.4h0.9M194.5 167.5h0.9M191.9 159.7h0.9M197.0 161.7h0.9M185.4 169.3h0.9M197.1 158.3h0.9M179.2 157.4h0.9M197.1 161.4h0.9M192.9 163.2h0.9M194.9 164.6h0.9M180.8 158.2h0.9M194.8 154.1h0.9M186.4 162.1h0.9M189.2 168.6h0.9M214.8 162.3h0.9M201.0 156.2h0.9M179.5 167.3h0.9M191.0 165.1h0.9M187.7 158.4h0.9M191.4 156.5h0.9M188.1 161.7h0.9M192.7 161.8h0.9M188.3 163.7h0.9M201.0 163.2h0.9M190.6 159.7h0.9M194.2 160.7h0.9M192.5 156.7h0.9M183.0 166.7h0.9M203.7 162.3h0.9M200.1 154.1h0.9M187.6 162.1h0.9M188.2 170.6h0.9M199.2 154.3h0.9M181.9 150.2h0.9M208.0 163.1h0.9M187.8 155.4h0.9M200.2 161.9h0.9M180.7 159.2h0.9M196.4 157.9h0.9M186.5 164.9h0.9M203.3 162.8h0.9M210.9 162.7h0.9M191.9 163.5h0.9M203.6 163.0h0.9M190.6 164.3h0.9M185.1 155.5h0.9M201.3 157.1h0.9M195.6 162.2h0.9M199.3 155.6h0.9M191.3 169.4h0.9M198.0 161.6h0.9M197.3 161.1h0.9M183.6 161.0h0.9M178.2 170.0h0.9M181.5 158.2h0.9M195.8 165.4h0.9M178.4 153.8h0.9M191.3 160.5h0.9M182.5 150.4h0.9M185.1 161.1h0.9M196.5 167.1h0.9M190.9 164.1h0.9M185.0 153.3h0.9M185.0 156.1h0.9M191.0 167.4h0.9M200.8 165.0h0.9M201.6 161.1h0.9M199.0 159.9h0.9M196.3 160.8h0.9M191.2 170.9h0.9M186.6 158.8h0.9M206.8 166.4h0.9M179.8 158.4h0.9M209.7 158.1h0.9M185.4 156.4h0.9M206.9 158.3h0.9M190.1 149.3h0.9M188.0 155.7h0.9M188.2 169.6h0.9M182.4 156.6h0.9M194.3 160.5h0.9M184.1 158.7h0.9M181.7 156.8h0.9M202.2 156.0h0.9M181.7 166.9h0.9M180.8 153.7h0.9M186.9 170.5h0.9M180.0 166.8h0.9M190.0 162.8h0.9M198.9 159.5h0.9M188.1 153.3h0.9M181.3 163.9h0.9M183.3 168.2h0.9M203.2 165.6h0.9M201.0 153.4h0.9M199.1 160.0h0.9M196.9 166.0h0.9M181.1 168.2h0.9M205.6 166.5h0.9M184.7 150.9h0.9M189.3 152.3h0.9M189.7 160.6h0.9M180.8 167.3h0.9M184.5 160.6h0.9M197.6 153.0h0.9M189.0 163.7h0.9M185.9 160.5h0.9M208.4 160.5h0.9M197.5 161.5h0.9M200.5 157.5h0.9M188.9 156.9h0.9M199.4 162.7h0.9M192.2 158.9h0.9M187.0 158.2h0.9M212.8 159.6h0.9M181.4 160.4h0.9M208.7 152.1h0.9M180.3 164.2h0.9M188.5 158.4h0.9M186.7 159.8h0.9M208.6 161.9h0.9M185.2 149.7h0.9M201.2 163.8h0.9M187.3 161.3h0.9M179.3 161.8h0.9M198.3 164.9h0.9M187.9 167.0h0.9M199.5 159.1h0.9M199.3 156.9h0.9M179.2 171.6h0.9M197.8 160.6h0.9M208.4 157.0h0.9M179.2 172.0h0.9M202.1 157.7h0.9M187.0 151.1h0.9M198.6 163.1h0.9M194.2 171.8h0.9M190.2 158.7h0.9M209.8 154.9h0.9M195.8 163.5h0.9M179.2 152.3h0.9M185.9 159.6h0.9M210.8 167.5h0.9M198.7 147.1h0.9M207.6 154.3h0.9M179.3 149.8h0.9M188.5 160.6h0.9M180.4 170.7h0.9M209.3 155.3h0.9M188.9 144.5h0.9M214.9 162.2h0.9M209.9 158.8h0.9M186.4 167.4h0.9M195.6 155.6h0.9M181.4 155.4h0.9M182.4 153.9h0.9M189.7 158.4h0.9M193.2 166.3h0.9M193.2 161.7h0.9M198.9 165.3h0.9M189.6 160.8h0.9M210.7 158.9h0.9M195.3 150.3h0.9M183.0 160.6h0.9M200.3 160.6h0.9M183.9 158.8h0.9M208.1 155.9h0.9M188.7 160.3h0.9M206.9 153.0h0.9M197.6 163.7h0.9M192.7 160.5h0.9M194.2 158.8h0.9M191.2 157.6h0.9M181.3 165.5h0.9M185.5 144.1h0.9M198.8 161.7h0.9M188.4 167.6h0.9M199.0 150.5h0.9M197.6 165.7h0.9M187.5 162.8h0.9M204.1 154.7h0.9M202.3 153.1h0.9M181.0 171.4h0.9M184.5 160.6h0.9M183.9 161.7h0.9M204.8 159.3h0.9M191.2 165.5h0.9M185.2 152.3h0.9M180.7 159.6h0.9M193.4 155.7h0.9M188.9 173.5h0.9M194.7 153.6h0.9M207.9 159.7h0.9M190.6 152.7h0.9M201.9 158.8h0.9M180.7 162.8h0.9M195.4 154.2h0.9M209.1 163.6h0.9M205.6 156.3h0.9M197.8 157.4h0.9M196.2 163.8h0.9M210.2 155.1h0.9M194.5 156.5h0.9M201.5 151.9h0.9M212.1 162.3h0.9M185.3 168.6h0.9M192.3 160.8h0.9M200.0 165.3h0.9M179.3 155.7h0.9M193.8 161.5h0.9M178.1 153.1h0.9M204.4 163.7h0.9M195.4 161.4h0.9M190.7 158.0h0.9M208.2 165.1h0.9M186.8 155.5h0.9M196.7 161.0h0.9M191.6 157.9h0.9M194.7 163.9h0.9M179.0 160.9h0.9M194.7 153.6h0.9M189.3 168.4h0.9M194.2 164.2h0.9M185.9 154.3h0.9M183.9 163.6h0.9M182.6 163.1h0.9M177.9 155.9h0.9M196.6 159.7h0.9M185.5 159.4h0.9M178.0 162.5h0.9M180.9 156.2h0.9M204.6 162.1h0.9M206.4 163.3h0.9M210.0 163.3h0.9M209.0 158.8h0.9M211.9 163.6h0.9M202.8 158.7h0.9M186.0 153.2h0.9M188.0 161.3h0.9M189.6 156.8h0.9M187.1 167.8h0.9M184.9 158.5h0.9M196.1 156.6h0.9M190.4 148.4h0.9M197.6 158.8h0.9M185.5 156.6h0.9M202.9 153.4h0.9M182.6 166.2h0.9M192.1 164.1h0.9M197.2 167.7h0.9M191.7 154.1h0.9M201.1 153.8h0.9M187.6 165.5h0.9M189.2 152.3h0.9M203.9 161.1h0.9M178.2 163.1h0.9M185.3 164.5h0.9M189.8 150.0h0.9M189.0 163.1h0.9M203.6 157.9h0.9M185.2 159.2h0.9M179.4 157.6h0.9M195.5 153.6h0.9M181.9 151.0h0.9M192.7 160.2h0.9M195.9 164.2h0.9M181.2 163.9h0.9M187.0 169.7h0.9M186.9 160.1h0.9M180.4 162.5h0.9M186.6 156.1h0.9M186.6 156.1h0.9M187.5 155.2h0.9M207.0 146.7h0.9M199.6 158.6h0.9M200.7 153.2h0.9M194.7 167.8h0.9M180.4 159.2h0.9M194.4 161.0h0.9M195.4 166.1h0.9M189.2 167.3h0.9M206.6 161.5h0.9M212.4 159.6h0.9M184.6 160.9h0.9M206.3 167.0h0.9M190.6 161.0h0.9M195.2 161.5h0.9M184.8 163.6h0.9M193.3 165.0h0.9M177.5 159.8h0.9M182.6 157.1h0.9M181.4 171.6h0.9M193.9 161.3h0.9M203.9 162.6h0.9M180.6 151.0h0.9M211.4 154.9h0.9M180.6 158.4h0.9M201.2 170.3h0.9M192.9 163.4h0.9M178.9 155.2h0.9M206.1 163.8h0.9M190.6 156.1h0.9M209.4 159.9h0.9M199.4 165.2h0.9M183.0 146.4h0.9M188.5 157.6h0.9M204.7 156.7h0.9M195.3 163.1h0.9M191.8 160.3h0.9M179.7 155.6h0.9M181.2 153.5h0.9M192.2 168.4h0.9M196.4 160.9h0.9M204.1 160.3h0.9M208.8 161.8h0.9M196.6 166.4h0.9M178.8 152.4h0.9M185.1 159.2h0.9M182.9 157.8h0.9M198.5 157.4h0.9M199.6 152.4h0.9M200.3 153.2h0.9M195.5 156.4h0.9M177.8 159.4h0.9M185.5 158.1h0.9M188.9 155.8h0.9M199.6 160.7h0.9M207.1 156.4h0.9M190.3 164.0h0.9M184.2 163.8h0.9M200.5 168.6h0.9M199.7 155.8h0.9M185.4 160.3h0.9M182.3 142.0h0.9M193.0 143.7h0.9M185.1 142.2h0.9M175.9 141.0h0.9M192.7 145.1h0.9M179.5 144.0h0.9M176.1 145.4h0.9M188.6 138.7h0.9M186.4 147.1h0.9M189.0 143.1h0.9M184.1 150.2h0.9M175.8 143.6h0.9M181.8 143.5h0.9M176.2 147.4h0.9M184.8 145.4h0.9M177.1 143.1h0.9M195.2 147.8h0.9M178.1 140.4h0.9M184.9 143.9h0.9M175.9 144.2h0.9M177.9 143.2h0.9M180.6 141.0h0.9M180.9 148.7h0.9M178.0 138.7h0.9M186.9 140.7h0.9M180.7 145.4h0.9M187.1 141.8h0.9M186.8 150.4h0.9M190.6 143.4h0.9M198.2 145.2h0.9M184.4 142.0h0.9M198.9 139.0h0.9M177.7 146.6h0.9M187.7 142.7h0.9M191.0 138.9h0.9M181.2 143.8h0.9M181.6 141.9h0.9M188.6 142.1h0.9M181.7 147.9h0.9M199.1 149.4h0.9M182.2 139.7h0.9M185.4 144.8h0.9M187.0 142.2h0.9M184.0 142.1h0.9M193.4 143.4h0.9M181.4 139.3h0.9M176.5 147.9h0.9M188.7 143.4h0.9M189.4 138.3h0.9M182.6 139.0h0.9M179.8 146.5h0.9M186.9 150.1h0.9M190.2 148.6h0.9M193.5 145.0h0.9M200.1 143.5h0.9M181.4 141.7h0.9M180.1 143.2h0.9M181.3 144.5h0.9M183.1 146.5h0.9M177.7 142.5h0.9M204.0 144.7h0.9M193.8 143.9h0.9M197.9 145.0h0.9M180.4 143.4h0.9M183.2 143.2h0.9M194.6 143.5h0.9M178.1 143.0h0.9M200.6 143.1h0.9M184.3 149.6h0.9M187.9 142.3h0.9M199.5 144.9h0.9M180.7 138.4h0.9M202.6 141.4h0.9M177.5 142.9h0.9M185.5 152.0h0.9M189.2 140.3h0.9M186.3 150.6h0.9M176.2 149.7h0.9M185.9 142.7h0.9M187.9 145.3h0.9M178.3 143.1h0.9M182.3 150.5h0.9M178.2 144.6h0.9M178.4 145.2h0.9M182.5 146.1h0.9M186.6 143.7h0.9M186.5 151.1h0.9M178.1 143.8h0.9M188.3 144.2h0.9M204.7 143.8h0.9M186.6 145.0h0.9M178.3 141.5h0.9M176.9 144.3h0.9M190.8 142.0h0.9M190.3 138.7h0.9M178.3 148.7h0.9M190.0 142.8h0.9M194.4 144.5h0.9M177.0 146.6h0.9M190.4 143.4h0.9M175.9 151.8h0.9M184.1 146.4h0.9M188.4 142.8h0.9M185.5 149.4h0.9M179.1 149.2h0.9M181.5 139.8h0.9M190.7 134.5h0.9M180.4 152.3h0.9M184.2 147.2h0.9M179.4 150.1h0.9M191.2 140.6h0.9M188.0 142.8h0.9M200.4 142.4h0.9M184.1 143.3h0.9M177.6 140.1h0.9M182.0 138.4h0.9M177.0 135.4h0.9M178.9 133.5h0.9M188.3 147.0h0.9M178.5 146.2h0.9M185.4 145.9h0.9M193.9 144.7h0.9M182.8 149.1h0.9M185.8 144.6h0.9M177.1 135.9h0.9M180.5 142.3h0.9M194.9 139.8h0.9M185.0 147.4h0.9M176.4 135.9h0.9M178.7 140.1h0.9M187.5 147.4h0.9M192.0 144.5h0.9M186.9 143.8h0.9M192.0 141.6h0.9M196.8 146.4h0.9M176.5 147.3h0.9M182.3 136.3h0.9M178.8 139.5h0.9M193.6 146.3h0.9M188.2 140.9h0.9M190.5 139.7h0.9M189.5 141.0h0.9M191.5 141.2h0.9M179.7 144.5h0.9M198.0 145.5h0.9M201.6 138.4h0.9M175.8 150.8h0.9M185.5 147.2h0.9M196.1 145.3h0.9M180.1 138.3h0.9M177.0 146.3h0.9M179.8 139.6h0.9M194.4 140.3h0.9M203.6 139.7h0.9M187.0 152.4h0.9M181.8 147.5h0.9M177.5 146.2h0.9M193.9 141.6h0.9M188.4 141.4h0.9M186.5 143.3h0.9M205.4 144.0h0.9M186.0 139.6h0.9M179.3 138.5h0.9M182.7 146.5h0.9M187.9 148.6h0.9M177.4 142.7h0.9M180.2 136.3h0.9M180.7 149.8h0.9M194.7 140.1h0.9M188.2 149.0h0.9M180.4 143.3h0.9M191.6 146.4h0.9M184.3 146.6h0.9M180.6 140.3h0.9M188.1 136.7h0.9M178.0 142.5h0.9M176.4 147.4h0.9M183.7 148.8h0.9M177.1 147.0h0.9M178.3 151.6h0.9M185.2 142.4h0.9M180.4 154.7h0.9M180.3 137.3h0.9M186.5 140.0h0.9M180.7 142.6h0.9M180.1 138.5h0.9M179.2 140.4h0.9M182.1 146.6h0.9M178.7 144.8h0.9M175.7 142.7h0.9M181.9 139.8h0.9M203.7 142.5h0.9M190.4 149.8h0.9M181.9 137.6h0.9M179.2 150.0h0.9M179.7 145.8h0.9M178.2 138.5h0.9M189.7 141.8h0.9M190.2 146.9h0.9M178.3 137.3h0.9M187.7 145.4h0.9M192.9 143.0h0.9M202.0 141.8h0.9M180.2 143.4h0.9M186.4 138.8h0.9M187.5 144.8h0.9M176.7 151.8h0.9M180.3 142.7h0.9M182.2 143.3h0.9M186.7 144.1h0.9M191.4 142.8h0.9M197.7 142.8h0.9M193.4 140.9h0.9M183.9 147.1h0.9M183.2 154.7h0.9M193.7 146.3h0.9M177.4 144.9h0.9M179.7 145.6h0.9M177.3 144.0h0.9M198.1 143.2h0.9M203.3 145.3h0.9M180.4 146.7h0.9M192.1 140.0h0.9M200.8 144.3h0.9M189.0 147.0h0.9M198.6 148.2h0.9M175.7 148.6h0.9M178.4 146.4h0.9M184.0 143.1h0.9M181.3 142.2h0.9M176.3 140.6h0.9M175.8 147.3h0.9M177.6 144.3h0.9M188.6 144.2h0.9M179.8 148.3h0.9M177.8 133.7h0.9M177.5 146.2h0.9M178.2 146.0h0.9M192.6 149.4h0.9M179.8 146.5h0.9M184.9 144.6h0.9M181.5 139.2h0.9M187.6 143.0h0.9M180.4 138.5h0.9M182.8 142.5h0.9M176.8 141.6h0.9M186.9 150.5h0.9M183.5 138.7h0.9M183.3 138.5h0.9M177.3 141.5h0.9M184.2 147.0h0.9M176.3 151.2h0.9M177.0 143.6h0.9M191.4 147.7h0.9M185.3 137.7h0.9M182.1 136.6h0.9M195.5 142.8h0.9M177.8 144.2h0.9M191.2 144.2h0.9M184.0 137.5h0.9M194.9 144.9h0.9M185.9 136.6h0.9M178.2 140.1h0.9M179.6 146.2h0.9M175.8 131.7h0.9M177.9 148.4h0.9M192.5 138.5h0.9M176.4 140.0h0.9M181.0 150.2h0.9M192.4 144.1h0.9M184.9 147.1h0.9M183.8 140.5h0.9M178.5 146.8h0.9M179.6 140.2h0.9M185.3 142.9h0.9M192.8 146.7h0.9M177.2 147.0h0.9M178.5 143.8h0.9M179.7 150.6h0.9M181.6 142.5h0.9M179.4 146.4h0.9M180.4 141.0h0.9M177.5 139.8h0.9M196.4 143.7h0.9M185.7 151.7h0.9M191.8 138.8h0.9M176.7 149.4h0.9M193.2 144.5h0.9M188.4 140.6h0.9M180.6 142.5h0.9M187.7 134.9h0.9M194.4 140.4h0.9M188.7 139.0h0.9M183.6 146.3h0.9M199.9 139.5h0.9M176.3 144.3h0.9M180.1 145.6h0.9M194.7 141.5h0.9M185.4 132.9h0.9M178.7 142.5h0.9M198.7 140.9h0.9M186.0 141.2h0.9M185.1 142.4h0.9M183.6 147.9h0.9M184.8 140.0h0.9M176.1 158.4h0.9M195.6 143.0h0.9M181.3 148.2h0.9M192.1 138.2h0.9M188.2 146.4h0.9M190.0 142.6h0.9M200.6 144.2h0.9M185.2 141.1h0.9M188.2 135.6h0.9M185.1 146.8h0.9M184.0 138.0h0.9M188.5 144.0h0.9M189.5 151.4h0.9M201.5 142.9h0.9M183.0 144.3h0.9M184.0 144.9h0.9M181.9 144.5h0.9M178.8 147.4h0.9M181.2 136.8h0.9M183.1 141.0h0.9M175.9 142.8h0.9M187.0 149.3h0.9M183.7 142.9h0.9M204.9 143.7h0.9M181.4 135.0h0.9M181.6 142.7h0.9M177.9 144.9h0.9M191.3 146.3h0.9M177.3 149.6h0.9M182.0 136.8h0.9M179.6 138.6h0.9M181.3 137.1h0.9M177.3 133.2h0.9M184.0 143.4h0.9M186.3 146.0h0.9M177.3 142.0h0.9M178.2 157.8h0.9M181.2 142.4h0.9M180.8 138.1h0.9M184.7 142.3h0.9M187.8 144.4h0.9M177.0 142.0h0.9M179.7 135.8h0.9M185.5 149.3h0.9M177.5 141.4h0.9M177.8 142.0h0.9M177.2 151.3h0.9M183.5 139.8h0.9M187.6 146.3h0.9M178.6 150.3h0.9M179.8 143.2h0.9M189.7 147.2h0.9M183.5 145.5h0.9M183.5 141.7h0.9M178.2 148.7h0.9M203.8 144.3h0.9M185.7 137.4h0.9M204.6 146.6h0.9M186.7 142.3h0.9M199.5 138.6h0.9M180.8 138.9h0.9M181.2 138.3h0.9M184.3 144.6h0.9M180.5 143.3h0.9M181.1 143.4h0.9M204.0 141.9h0.9M191.7 142.6h0.9M186.7 143.7h0.9M182.2 144.1h0.9M185.2 144.6h0.9M178.7 136.2h0.9M189.0 136.6h0.9M176.3 146.8h0.9M177.9 145.0h0.9M182.5 145.2h0.9M183.6 146.0h0.9M182.9 145.0h0.9M183.0 136.8h0.9M182.8 143.4h0.9M179.5 153.8h0.9M183.8 146.5h0.9M194.0 141.9h0.9M181.1 139.5h0.9M179.8 141.3h0.9M180.7 143.3h0.9M176.0 144.7h0.9M187.3 133.7h0.9M192.0 147.7h0.9M187.3 147.7h0.9M180.5 140.1h0.9M176.0 154.0h0.9M180.2 147.1h0.9M195.0 144.5h0.9M193.3 140.1h0.9M183.3 140.5h0.9M200.9 142.8h0.9M195.3 144.0h0.9M180.4 136.0h0.9M178.4 144.0h0.9M178.1 141.3h0.9M179.8 142.0h0.9M176.4 148.4h0.9M187.1 147.9h0.9M179.5 140.5h0.9M181.6 140.5h0.9M181.3 146.2h0.9M194.7 145.4h0.9M194.2 140.6h0.9M197.8 142.7h0.9M176.1 140.9h0.9M180.3 151.1h0.9M181.1 148.2h0.9M181.4 135.5h0.9M185.1 145.0h0.9M179.5 139.2h0.9M189.5 144.0h0.9M186.1 150.3h0.9M176.2 146.7h0.9M191.9 145.6h0.9M183.3 147.2h0.9M177.5 144.5h0.9M184.5 143.4h0.9M183.1 148.2h0.9M183.2 146.1h0.9M178.6 138.2h0.9M181.1 145.5h0.9M178.6 141.9h0.9M178.6 143.7h0.9M195.9 145.1h0.9M177.2 139.4h0.9M189.3 137.0h0.9M197.2 138.8h0.9M177.9 141.2h0.9M183.7 143.9h0.9M176.6 138.9h0.9M189.1 137.5h0.9M193.7 148.7h0.9M179.2 140.5h0.9M182.2 147.4h0.9M191.6 140.4h0.9M183.6 134.9h0.9M181.1 146.1h0.9M177.5 141.9h0.9M191.1 141.0h0.9M178.3 146.4h0.9M197.0 142.7h0.9M181.7 143.4h0.9M179.6 142.9h0.9M185.6 143.6h0.9M193.7 141.1h0.9M202.2 144.2h0.9M188.4 141.1h0.9M191.8 147.8h0.9M180.5 150.9h0.9M176.0 149.0h0.9M176.2 145.9h0.9M187.1 140.4h0.9M190.5 145.5h0.9M179.9 138.7h0.9M176.9 150.9h0.9M194.0 145.3h0.9M187.1 143.7h0.9M179.0 145.8h0.9M182.5 144.9h0.9M201.5 144.6h0.9M184.7 143.7h0.9M176.2 143.3h0.9M180.0 149.0h0.9M204.1 137.7h0.9M188.3 148.6h0.9M190.8 140.1h0.9M188.5 145.9h0.9M201.7 142.2h0.9M185.0 143.9h0.9M186.9 141.8h0.9M196.7 144.9h0.9M187.0 142.6h0.9M178.1 134.5h0.9M189.4 141.7h0.9M184.8 140.2h0.9M192.3 146.6h0.9M177.7 137.2h0.9M190.4 145.4h0.9M180.0 147.9h0.9M197.1 146.3h0.9M177.7 147.1h0.9M191.7 140.6h0.9M184.9 151.0h0.9M188.6 143.7h0.9M182.0 146.1h0.9M184.5 149.0h0.9M186.8 143.1h0.9M189.1 143.9h0.9M181.6 144.3h0.9M178.1 145.5h0.9M182.6 152.9h0.9M178.4 141.1h0.9M196.4 149.6h0.9M186.1 140.8h0.9M183.7 144.0h0.9M183.1 144.2h0.9M186.6 150.9h0.9M187.4 147.4h0.9M192.8 140.7h0.9M189.5 142.5h0.9M177.0 149.3h0.9M183.7 145.7h0.9M198.2 142.3h0.9M183.9 143.0h0.9M184.7 141.1h0.9M188.0 151.5h0.9M182.4 149.0h0.9M182.2 137.4h0.9M191.6 140.9h0.9M177.0 144.9h0.9M182.8 150.9h0.9M193.6 148.9h0.9M184.9 148.5h0.9M192.3 139.8h0.9M183.9 142.4h0.9M176.9 138.3h0.9M177.4 144.8h0.9M195.8 140.6h0.9M184.2 138.4h0.9M182.5 148.7h0.9M194.7 141.0h0.9M188.2 146.2h0.9M179.7 148.0h0.9M176.1 131.0h0.9M178.5 141.7h0.9M188.5 148.4h0.9M183.9 150.6h0.9M190.3 137.0h0.9M194.8 145.0h0.9M176.2 139.8h0.9M194.2 140.9h0.9M204.3 145.3h0.9M179.8 141.7h0.9M180.8 151.3h0.9M175.9 142.0h0.9M191.0 146.0h0.9M180.1 144.2h0.9M185.9 146.9h0.9M188.0 142.2h0.9M175.7 140.8h0.9M195.8 152.2h0.9M184.7 141.9h0.9M176.5 150.4h0.9M177.8 147.4h0.9M182.4 141.8h0.9M195.8 145.3h0.9M180.2 150.9h0.9M179.2 145.9h0.9M177.1 141.5h0.9M185.6 139.2h0.9M196.3 140.4h0.9M177.8 140.0h0.9M180.0 144.6h0.9M180.7 149.0h0.9M193.1 141.1h0.9M177.6 134.7h0.9M190.3 142.7h0.9M183.1 133.4h0.9M181.7 139.1h0.9M185.2 142.2h0.9M183.5 137.5h0.9M197.8 141.2h0.9M184.3 139.3h0.9M180.5 144.7h0.9M183.0 144.6h0.9M187.8 147.9h0.9M180.3 147.8h0.9M190.5 141.3h0.9M187.1 145.8h0.9M186.2 146.0h0.9M187.3 150.1h0.9M188.8 139.3h0.9M179.6 143.9h0.9M179.9 136.8h0.9M186.8 144.2h0.9M180.6 142.3h0.9M177.2 137.4h0.9M177.4 135.6h0.9M194.5 137.9h0.9M192.7 141.8h0.9M178.4 149.5h0.9M197.7 146.6h0.9M188.0 139.4h0.9M190.8 146.7h0.9M176.7 142.7h0.9M179.0 146.3h0.9M177.2 141.7h0.9M180.7 147.1h0.9M185.2 142.3h0.9M183.2 145.7h0.9M194.3 144.7h0.9M195.5 148.2h0.9M199.0 140.6h0.9M178.7 140.3h0.9M187.0 143.8h0.9M183.7 142.7h0.9M178.1 149.5h0.9M178.7 143.6h0.9M176.9 141.5h0.9M182.5 137.9h0.9M189.6 140.1h0.9M198.5 141.0h0.9M190.1 145.7h0.9M179.1 145.4h0.9M184.6 136.0h0.9M190.3 138.7h0.9M186.8 140.8h0.9M187.1 138.0h0.9M198.0 144.3h0.9M200.4 144.1h0.9M178.8 146.8h0.9M193.3 142.4h0.9M177.0 132.9h0.9M178.5 145.9h0.9M183.4 148.4h0.9M177.7 140.6h0.9M195.5 140.3h0.9M185.1 138.7h0.9M186.6 145.6h0.9M178.7 137.8h0.9M196.0 142.0h0.9M182.4 139.4h0.9M187.5 142.2h0.9M187.1 146.3h0.9M190.0 141.7h0.9M178.1 144.4h0.9M177.8 140.9h0.9M183.0 149.4h0.9M187.0 146.7h0.9M181.9 140.9h0.9M194.0 144.8h0.9M198.4 138.6h0.9M180.2 145.0h0.9M180.6 146.4h0.9M187.2 144.2h0.9M189.0 146.4h0.9M181.9 145.6h0.9M183.2 146.9h0.9M178.7 142.1h0.9M200.1 146.9h0.9M200.4 143.3h0.9M180.7 150.0h0.9M188.6 137.3h0.9M175.8 141.2h0.9M193.0 144.5h0.9M175.6 135.5h0.9M183.8 139.3h0.9M178.9 144.3h0.9M192.5 142.8h0.9M182.5 147.2h0.9M177.4 143.5h0.9M178.7 138.2h0.9M181.4 139.9h0.9M187.0 143.5h0.9M185.9 140.2h0.9M183.6 143.7h0.9M184.7 143.9h0.9M175.7 140.2h0.9M192.9 141.2h0.9M186.0 140.9h0.9M185.8 141.2h0.9M183.6 145.9h0.9M191.3 145.5h0.9M178.6 132.5h0.9M199.8 145.0h0.9M196.0 137.7h0.9M177.0 141.3h0.9M178.3 142.3h0.9M191.9 141.3h0.9M178.3 142.9h0.9M178.8 142.3h0.9M177.1 141.0h0.9M178.6 140.7h0.9M185.4 146.5h0.9M183.4 147.9h0.9M184.8 139.0h0.9M185.9 142.3h0.9M180.0 152.5h0.9M190.8 134.2h0.9M179.6 149.4h0.9M186.5 136.5h0.9M178.4 152.3h0.9M180.6 144.2h0.9M181.6 148.5h0.9M157.7 148.8h0.9M158.9 172.5h0.9M158.6 157.6h0.9M157.2 123.5h0.9M157.3 164.4h0.9M158.3 173.7h0.9M157.5 164.0h0.9M156.7 139.5h0.9M156.7 154.2h0.9M156.9 133.8h0.9M156.3 149.6h0.9M157.7 130.5h0.9M156.4 131.7h0.9M156.5 170.0h0.9M157.4 136.9h0.9M158.8 166.7h0.9M157.9 143.4h0.9M158.7 128.9h0.9M156.7 131.2h0.9M158.4 159.3h0.9M158.0 170.7h0.9M158.2 131.7h0.9M157.0 122.6h0.9M155.7 147.8h0.9M155.6 168.6h0.9M158.0 173.0h0.9M157.4 150.3h0.9M157.4 125.7h0.9M155.6 169.3h0.9M158.7 133.6h0.9M158.3 122.5h0.9M157.9 141.2h0.9M158.9 128.6h0.9M155.6 142.0h0.9M157.1 154.5h0.9M156.7 136.3h0.9M158.8 140.6h0.9M157.8 142.3h0.9M156.4 172.3h0.9M156.6 140.0h0.9M156.4 158.7h0.9M155.4 150.2h0.9M158.2 131.7h0.9M157.1 150.4h0.9M157.8 152.8h0.9M155.7 162.1h0.9M157.5 133.8h0.9M156.0 150.5h0.9M157.4 163.4h0.9M156.1 138.9h0.9M156.4 173.0h0.9M157.6 123.5h0.9M158.5 157.3h0.9M156.9 140.6h0.9M158.7 131.2h0.9M156.8 129.6h0.9M158.6 125.4h0.9M157.4 172.0h0.9M155.7 147.1h0.9M156.9 133.8h0.9M158.6 154.5h0.9M157.6 165.3h0.9M157.4 126.4h0.9M155.7 139.2h0.9M156.0 131.6h0.9M156.6 137.2h0.9M158.3 167.1h0.9M156.6 121.3h0.9M157.3 164.1h0.9M155.8 150.5h0.9M156.3 129.9h0.9M158.7 164.3h0.9M158.6 147.7h0.9M156.6 168.1h0.9M157.9 148.4h0.9M158.4 172.0h0.9M155.9 151.1h0.9M156.1 173.4h0.9M157.0 138.2h0.9M159.0 170.1h0.9M156.8 172.7h0.9M156.5 148.9h0.9M156.9 145.2h0.9M156.3 149.6h0.9M158.3 152.8h0.9M158.5 134.5h0.9M157.5 157.5h0.9M156.7 173.1h0.9M158.7 149.2h0.9M157.4 156.9h0.9M157.4 152.1h0.9M156.3 143.5h0.9M159.0 153.0h0.9M155.6 160.5h0.9M158.6 158.4h0.9M158.3 140.6h0.9M155.4 165.1h0.9M156.8 148.1h0.9M156.0 135.3h0.9M158.9 153.9h0.9M155.5 144.9h0.9M156.2 136.4h0.9M157.7 170.4h0.9M157.0 131.8h0.9M158.2 135.3h0.9M157.0 146.0h0.9M157.6 169.8h0.9M155.8 131.3h0.9M158.5 153.4h0.9M159.0 157.6h0.9M157.3 152.7h0.9M155.5 151.8h0.9M156.1 134.0h0.9M158.1 170.6h0.9M156.1 170.8h0.9M156.1 132.4h0.9M155.4 158.2h0.9M156.4 123.2h0.9M156.5 163.0h0.9M155.3 170.8h0.9M155.9 144.9h0.9M157.7 146.1h0.9M155.6 121.7h0.9M157.9 129.6h0.9M164.4 147.8h0.9M169.4 164.1h0.9M165.4 139.2h0.9M173.4 139.2h0.9M173.3 149.4h0.9M167.0 151.8h0.9M169.2 170.5h0.9M173.4 153.9h0.9M164.1 138.0h0.9M164.2 131.8h0.9M175.4 165.2h0.9M171.7 146.5h0.9M172.8 170.3h0.9M168.7 150.4h0.9M171.0 144.4h0.9M165.5 126.0h0.9M168.7 154.3h0.9M166.9 125.7h0.9M168.1 128.2h0.9M166.8 163.2h0.9M162.0 135.4h0.9M169.2 159.7h0.9M175.0 130.5h0.9M167.7 160.0h0.9M165.6 145.8h0.9M168.7 142.2h0.9M165.0 133.2h0.9M165.3 147.6h0.9M165.8 128.4h0.9M171.4 127.1h0.9M169.6 162.8h0.9M168.9 154.6h0.9M172.4 143.0h0.9M168.8 136.9h0.9M176.6 138.9h0.9M162.9 154.8h0.9M165.1 154.4h0.9M167.7 157.3h0.9M167.0 128.9h0.9M168.3 146.2h0.9M177.7 129.1h0.9M166.4 160.8h0.9M163.7 167.7h0.9M165.1 167.8h0.9M164.4 155.3h0.9M171.5 148.8h0.9M173.7 146.3h0.9M163.6 154.8h0.9M161.9 156.5h0.9M162.4 160.5h0.9M170.5 155.7h0.9M161.0 126.0h0.9M164.5 168.3h0.9M165.3 153.3h0.9M169.5 165.2h0.9M169.0 139.8h0.9M167.1 157.5h0.9M165.8 160.3h0.9M162.0 138.2h0.9M168.2 141.8h0.9M170.6 154.2h0.9M175.0 166.5h0.9M164.3 131.6h0.9M177.1 171.2h0.9M168.6 124.6h0.9M170.3 128.0h0.9M168.3 151.8h0.9M174.7 144.8h0.9M169.2 166.0h0.9M181.0 153.1h0.9M164.7 137.2h0.9M171.4 154.3h0.9M169.4 163.8h0.9M167.8 137.6h0.9M166.6 139.1h0.9M159.7 125.4h0.9M161.2 149.4h0.9M169.6 131.0h0.9M195.2 169.4h0.9M219.0 158.7h0.9M178.4 145.9h0.9M203.5 123.4h0.9M206.3 141.6h0.9M202.0 167.6h0.9M210.3 136.8h0.9M220.5 159.4h0.9M188.7 158.5h0.9M188.6 159.3h0.9M203.4 126.0h0.9M201.1 129.9h0.9M212.1 149.9h0.9M182.1 130.4h0.9M219.4 149.7h0.9M192.1 140.4h0.9M182.6 149.8h0.9M202.0 120.8h0.9M186.2 142.7h0.9M180.5 152.0h0.9M209.1 128.9h0.9M214.4 134.2h0.9M208.0 143.2h0.9M205.7 121.9h0.9M223.0 132.2h0.9M206.2 161.4h0.9M225.9 144.4h0.9M216.1 162.5h0.9M193.0 139.2h0.9M217.1 159.2h0.9M185.7 151.5h0.9M213.2 128.4h0.9M188.9 137.4h0.9M213.4 137.7h0.9M180.1 132.7h0.9M216.8 135.2h0.9M207.3 153.2h0.9M181.1 164.9h0.9M211.0 156.5h0.9M178.5 150.3h0.9M184.0 137.3h0.9M205.2 124.5h0.9M209.1 165.6h0.9M223.3 137.8h0.9M220.8 123.3h0.9M196.7 158.2h0.9M217.6 140.2h0.9M201.8 126.7h0.9M221.6 123.4h0.9M205.2 151.8h0.9M193.9 151.7h0.9M183.2 144.0h0.9M181.9 140.6h0.9M187.1 123.6h0.9M186.0 127.4h0.9M183.3 151.8h0.9M209.8 140.3h0.9M225.2 155.3h0.9M208.4 136.9h0.9M202.9 156.7h0.9M202.3 121.9h0.9M222.8 169.0h0.9M203.0 126.8h0.9M198.0 140.1h0.9M203.8 162.5h0.9M181.3 136.8h0.9M203.2 136.2h0.9" stroke="#2a2a2a" stroke-width="0.9" fill="none" opacity="0.33"/>
</g>
</g>
<rect x="153.9" y="95.5" width="78.8" height="80" fill="none" stroke="#7a7a7a" stroke-width="0.9"/>
<path d="M165.9 176.4h0.8M195.7 176.4h0.8M161.0 176.4h0.8M194.4 176.4h0.8M206.2 176.4h0.8M217.3 176.4h0.8M204.3 176.4h0.8M205.9 176.4h0.8M215.5 176.4h0.8M169.0 176.4h0.8M164.5 176.4h0.8M168.9 176.4h0.8M207.7 176.4h0.8M175.8 176.4h0.8M204.2 176.4h0.8M212.3 176.4h0.8M176.7 176.4h0.8M165.2 176.4h0.8M209.6 176.4h0.8M210.0 176.4h0.8M162.8 176.4h0.8M211.2 176.4h0.8M186.7 176.4h0.8M198.3 176.4h0.8M215.4 176.4h0.8M216.6 176.4h0.8" stroke="#222" stroke-width="0.8" fill="none" opacity="0.8"/>
<path d="M153.0 162.2h0.8M153.0 128.6h0.8M153.0 144.0h0.8M153.0 161.8h0.8M153.0 154.9h0.8M153.0 116.3h0.8M153.0 131.2h0.8M153.0 147.6h0.8M153.0 147.8h0.8M153.0 126.4h0.8M153.0 119.9h0.8M153.0 128.4h0.8M153.0 120.8h0.8M153.0 127.3h0.8" stroke="#222" stroke-width="0.8" fill="none" opacity="0.7"/>
<rect x="164.9" y="175.8" width="5" height="1.2" fill="#111"/>
<g filter="url(#b3)">
<path d="M294.8 69.8h0.8M286.9 53.5h0.8M297.3 65.5h0.8M284.1 66.0h0.8M290.7 53.7h0.8M288.6 71.7h0.8M289.4 58.0h0.8M286.3 63.6h0.8M291.1 61.8h0.8M287.4 78.9h0.8M284.0 71.9h0.8M289.5 70.8h0.8M290.5 56.2h0.8M287.2 71.2h0.8M295.4 72.5h0.8M295.0 78.7h0.8M293.2 48.6h0.8M295.1 54.8h0.8M290.8 62.6h0.8M286.6 66.7h0.8M286.5 62.9h0.8M285.0 83.5h0.8M281.9 62.0h0.8M288.1 46.5h0.8M292.3 70.2h0.8M286.6 64.8h0.8M282.8 81.1h0.8M293.3 53.0h0.8M292.5 51.5h0.8M288.3 72.0h0.8M289.5 66.1h0.8M276.5 54.9h0.8M291.5 49.2h0.8M289.6 44.8h0.8M295.7 64.0h0.8M289.4 47.6h0.8M292.0 64.2h0.8M300.2 47.5h0.8M296.0 53.3h0.8M292.0 59.8h0.8M290.9 79.3h0.8M285.2 63.2h0.8M284.3 55.0h0.8M280.1 83.0h0.8M300.9 34.9h0.8M286.5 75.3h0.8M285.0 70.6h0.8M293.0 55.8h0.8M287.3 66.0h0.8M291.1 78.9h0.8M284.3 63.3h0.8M288.3 63.3h0.8M293.7 61.1h0.8M291.9 55.8h0.8M290.4 70.2h0.8M278.8 86.0h0.8M284.6 61.2h0.8M301.5 61.1h0.8M290.8 44.6h0.8M289.4 68.7h0.8M281.5 71.4h0.8M284.2 72.1h0.8M294.1 49.0h0.8M285.9 66.8h0.8M290.1 53.2h0.8M289.1 61.7h0.8M280.7 51.1h0.8M288.9 75.6h0.8M284.4 48.7h0.8M288.9 54.4h0.8M299.2 39.3h0.8M287.8 66.2h0.8M290.4 65.4h0.8M289.1 72.9h0.8M295.2 75.0h0.8M288.2 58.4h0.8M290.0 52.4h0.8M290.9 54.0h0.8M291.9 64.9h0.8M296.4 49.5h0.8M289.8 58.4h0.8M281.4 56.3h0.8M281.4 64.3h0.8M288.5 73.3h0.8M290.7 78.1h0.8M295.3 69.1h0.8M296.9 61.2h0.8M291.2 60.3h0.8M293.3 54.5h0.8M286.6 68.7h0.8M291.4 48.1h0.8M288.5 66.1h0.8M287.9 51.3h0.8M278.2 58.8h0.8M297.2 55.4h0.8M290.6 48.1h0.8M290.8 79.4h0.8M287.9 71.3h0.8M304.8 47.6h0.8M290.5 64.8h0.8M291.3 78.9h0.8M284.7 62.2h0.8M289.4 60.0h0.8M286.8 54.5h0.8M290.7 51.0h0.8M292.5 55.3h0.8M289.9 72.3h0.8M296.9 61.8h0.8M282.2 68.5h0.8M291.7 54.0h0.8M294.5 52.3h0.8M283.5 43.1h0.8M291.1 71.9h0.8M292.4 44.7h0.8M282.9 75.7h0.8M285.9 49.0h0.8M283.2 51.2h0.8M283.8 56.4h0.8M300.0 62.2h0.8M295.4 50.5h0.8M277.6 73.9h0.8M289.6 62.7h0.8M293.9 58.0h0.8M292.0 56.9h0.8M289.7 57.4h0.8M301.3 53.3h0.8M284.8 60.9h0.8M294.4 82.1h0.8M287.1 59.4h0.8M296.5 53.7h0.8M287.0 58.1h0.8M287.4 70.4h0.8M298.8 61.0h0.8M294.3 70.6h0.8M295.1 65.9h0.8M294.5 59.7h0.8M286.5 72.6h0.8M294.0 48.0h0.8M292.8 60.2h0.8M293.1 55.2h0.8M299.3 71.7h0.8M289.1 80.4h0.8M285.0 76.7h0.8M288.8 73.9h0.8M289.5 75.6h0.8M286.9 59.1h0.8M288.3 74.8h0.8M291.0 69.1h0.8M295.4 39.9h0.8M292.1 57.6h0.8M280.9 66.6h0.8M290.0 58.2h0.8M293.6 65.6h0.8M289.7 54.3h0.8M280.6 68.1h0.8M282.9 81.1h0.8M288.7 75.4h0.8M292.0 81.4h0.8M282.1 61.2h0.8M291.1 62.9h0.8M283.3 67.3h0.8M287.4 52.8h0.8M285.4 64.5h0.8M294.2 60.3h0.8M296.5 57.1h0.8M288.3 64.6h0.8M290.6 73.1h0.8M287.5 58.5h0.8M291.4 61.0h0.8M289.5 73.6h0.8M284.6 55.0h0.8M291.3 64.2h0.8M285.8 73.5h0.8M295.4 47.9h0.8M284.5 59.7h0.8M291.6 79.0h0.8M291.0 62.2h0.8M295.4 53.7h0.8M288.3 57.0h0.8M285.0 58.4h0.8M296.0 72.4h0.8M279.4 69.6h0.8M287.3 58.3h0.8M279.5 65.5h0.8M290.7 38.8h0.8M287.6 71.9h0.8M282.9 84.8h0.8M289.1 61.9h0.8M296.0 52.8h0.8M286.8 47.6h0.8M288.1 57.7h0.8M285.8 73.4h0.8M287.0 66.8h0.8M288.0 75.0h0.8M282.0 64.3h0.8M285.9 68.9h0.8M290.9 70.9h0.8M294.2 67.3h0.8M285.3 65.5h0.8M290.4 63.2h0.8M294.2 49.1h0.8M288.9 77.0h0.8M291.8 62.7h0.8M285.8 73.1h0.8M285.1 71.6h0.8M291.4 67.1h0.8M294.6 48.0h0.8M281.9 63.8h0.8M287.6 56.8h0.8M292.9 52.1h0.8M291.1 53.2h0.8M290.1 50.1h0.8M289.2 80.7h0.8M287.6 45.1h0.8M282.6 60.0h0.8M288.3 71.8h0.8M290.1 60.8h0.8M285.5 54.3h0.8M286.7 28.8h0.8M292.6 64.0h0.8M281.7 59.6h0.8M290.4 58.0h0.8M297.8 47.9h0.8M291.3 49.7h0.8M295.4 50.0h0.8M287.4 48.2h0.8M282.5 73.2h0.8M293.0 55.8h0.8M281.3 65.2h0.8M287.6 67.9h0.8M280.2 74.3h0.8M290.6 69.5h0.8M288.4 57.5h0.8M286.1 65.6h0.8M286.8 57.8h0.8M292.7 62.9h0.8M292.1 44.8h0.8M296.2 64.7h0.8M296.5 53.7h0.8M292.6 56.8h0.8M290.7 63.8h0.8M285.8 57.9h0.8M294.4 77.1h0.8M289.2 60.3h0.8M284.0 59.2h0.8M293.2 49.8h0.8M287.5 71.5h0.8M286.1 51.6h0.8M293.8 55.0h0.8M283.2 62.0h0.8M292.9 49.2h0.8M297.4 64.6h0.8M288.7 76.6h0.8M291.6 54.3h0.8M288.2 49.5h0.8M291.2 72.0h0.8M295.6 71.2h0.8M294.0 57.1h0.8M291.1 62.2h0.8M291.9 63.9h0.8M285.4 46.9h0.8M291.9 62.4h0.8M290.0 56.4h0.8M296.1 46.7h0.8M296.0 66.3h0.8M289.9 57.2h0.8M295.9 62.2h0.8M290.8 67.4h0.8M288.1 44.2h0.8M290.9 46.0h0.8M288.9 70.5h0.8M300.3 51.8h0.8M297.6 49.9h0.8M289.4 73.7h0.8M283.0 75.6h0.8M289.2 55.6h0.8M288.5 65.4h0.8M285.7 79.4h0.8M284.6 59.0h0.8M292.8 66.5h0.8M285.1 53.5h0.8M297.0 46.9h0.8M290.0 69.7h0.8M291.0 69.4h0.8M281.8 66.2h0.8M292.3 66.9h0.8M292.6 73.4h0.8M291.9 54.3h0.8M298.3 46.6h0.8M294.9 47.0h0.8M287.1 53.2h0.8M289.5 52.0h0.8M294.4 65.4h0.8M294.1 58.3h0.8M298.0 70.6h0.8M292.0 55.2h0.8M289.5 68.7h0.8M285.9 68.0h0.8M287.4 57.7h0.8M286.6 54.7h0.8M284.3 60.4h0.8M293.2 55.4h0.8M287.1 44.9h0.8M285.5 57.1h0.8M299.7 50.9h0.8M287.2 64.9h0.8M283.7 53.7h0.8M280.8 49.2h0.8M286.7 67.3h0.8M288.5 70.9h0.8M301.2 40.4h0.8M293.1 66.8h0.8M288.0 55.6h0.8M298.2 59.5h0.8M286.6 48.2h0.8M280.1 66.8h0.8M282.5 77.0h0.8M287.5 73.9h0.8M285.0 57.7h0.8M286.5 76.7h0.8M294.5 47.3h0.8M292.3 59.9h0.8M292.0 57.2h0.8M289.2 66.2h0.8M294.3 44.2h0.8M289.9 75.9h0.8M292.1 71.2h0.8M295.0 58.2h0.8M285.5 58.9h0.8M296.2 48.2h0.8M291.7 68.8h0.8M282.2 55.5h0.8M288.3 69.6h0.8M287.8 55.0h0.8M282.1 55.4h0.8M292.1 67.9h0.8M286.9 70.6h0.8M285.2 48.3h0.8M298.1 58.2h0.8M288.6 71.2h0.8M292.8 66.4h0.8M290.7 62.1h0.8M286.8 63.6h0.8M288.8 49.4h0.8M281.0 73.5h0.8M288.5 56.8h0.8M287.7 61.8h0.8M287.0 69.7h0.8M293.0 61.4h0.8M296.7 46.6h0.8M282.4 72.2h0.8M286.5 60.5h0.8M293.8 57.6h0.8M296.2 41.8h0.8M289.2 65.9h0.8M284.5 84.6h0.8M293.6 45.7h0.8M286.7 63.0h0.8M284.1 39.1h0.8M280.7 78.6h0.8M291.6 76.0h0.8M293.7 38.4h0.8M294.0 68.2h0.8M293.7 75.4h0.8M288.7 61.0h0.8M292.4 59.4h0.8M286.2 51.6h0.8M291.0 85.5h0.8M287.3 72.7h0.8M289.0 52.5h0.8M288.0 53.1h0.8M294.7 45.1h0.8M292.9 65.0h0.8M286.4 62.1h0.8M291.3 82.7h0.8M293.0 67.4h0.8M293.5 58.3h0.8M295.4 53.6h0.8M292.3 71.3h0.8M289.9 65.6h0.8M292.8 63.8h0.8M293.6 56.7h0.8M283.0 69.6h0.8M293.5 43.5h0.8M286.6 57.9h0.8M286.4 48.4h0.8M290.4 44.2h0.8M284.1 45.2h0.8M296.8 60.1h0.8M287.3 74.4h0.8M288.1 65.4h0.8M286.4 60.1h0.8M285.0 61.5h0.8M290.1 53.7h0.8M299.1 60.6h0.8M285.9 52.2h0.8M291.5 68.1h0.8M288.3 68.5h0.8M290.2 45.6h0.8M291.2 48.1h0.8M285.9 79.7h0.8M294.5 62.4h0.8M295.0 47.4h0.8M287.1 57.8h0.8M285.7 57.5h0.8M289.0 70.3h0.8M292.6 56.5h0.8M279.2 45.7h0.8M285.3 75.1h0.8M284.6 69.2h0.8M287.3 42.3h0.8M290.2 70.9h0.8M293.7 54.7h0.8M290.9 58.2h0.8M280.9 50.0h0.8M292.6 62.2h0.8M298.1 51.9h0.8M297.3 64.2h0.8M294.4 68.2h0.8M283.4 58.6h0.8M292.7 84.4h0.8M284.6 68.5h0.8M283.8 70.6h0.8M293.2 66.7h0.8M284.5 66.6h0.8M289.7 67.7h0.8M294.7 67.0h0.8M286.8 54.4h0.8M299.4 39.1h0.8M296.7 52.8h0.8M294.6 65.1h0.8M291.5 63.7h0.8M292.1 58.8h0.8M295.8 50.2h0.8M289.6 43.5h0.8M290.6 57.1h0.8M285.4 60.0h0.8M277.2 61.8h0.8M290.3 53.5h0.8M295.0 53.7h0.8M292.0 59.4h0.8M295.4 49.1h0.8M281.7 68.7h0.8M282.4 75.7h0.8M295.0 48.6h0.8M290.2 79.3h0.8M286.6 59.3h0.8M291.5 53.2h0.8M284.7 64.6h0.8M279.0 66.1h0.8M285.1 63.3h0.8M300.9 47.5h0.8M287.4 67.2h0.8M297.5 49.4h0.8M286.0 61.8h0.8M297.0 36.0h0.8M290.8 68.7h0.8M282.7 49.6h0.8M286.6 72.8h0.8M276.9 68.6h0.8M293.2 57.9h0.8M298.0 60.4h0.8M293.1 70.0h0.8M287.6 67.9h0.8M286.9 52.5h0.8M287.0 73.9h0.8M293.3 38.6h0.8M287.2 61.6h0.8M285.0 65.0h0.8M284.0 88.2h0.8M291.4 50.5h0.8M293.3 62.7h0.8M292.3 63.3h0.8M288.4 61.1h0.8M287.7 49.9h0.8M284.0 60.3h0.8M287.1 69.2h0.8M291.6 73.2h0.8M303.9 57.7h0.8M284.6 75.8h0.8M286.3 65.5h0.8M291.6 51.1h0.8M294.2 55.7h0.8M292.7 46.2h0.8M289.0 74.5h0.8M296.0 80.9h0.8M289.6 48.1h0.8M297.3 54.9h0.8M280.8 55.7h0.8M289.0 54.2h0.8M289.0 59.1h0.8M285.9 61.2h0.8M287.5 60.4h0.8M288.9 56.2h0.8M289.6 69.6h0.8M285.3 67.6h0.8M291.0 43.0h0.8M288.3 69.6h0.8M283.1 55.1h0.8M285.4 64.2h0.8M293.5 43.2h0.8M295.1 61.4h0.8M284.9 47.7h0.8M296.5 62.1h0.8M292.3 62.8h0.8M292.7 46.3h0.8M283.3 45.1h0.8M293.8 68.2h0.8M291.3 53.4h0.8M287.9 66.6h0.8M291.1 61.3h0.8M285.8 51.9h0.8M299.5 65.4h0.8M288.1 56.8h0.8M284.1 80.9h0.8M299.4 53.2h0.8M292.0 68.2h0.8M298.4 38.5h0.8M294.5 58.3h0.8M297.3 66.7h0.8M296.9 69.8h0.8M295.6 54.3h0.8M286.5 67.5h0.8M290.6 46.7h0.8M288.8 51.9h0.8M287.4 55.9h0.8M290.2 62.3h0.8M287.5 50.6h0.8M287.0 63.4h0.8M286.0 56.1h0.8M291.0 41.7h0.8M290.7 50.2h0.8M288.2 57.8h0.8M284.7 70.4h0.8M289.7 73.2h0.8M281.9 89.2h0.8M292.4 54.1h0.8M287.3 69.5h0.8M289.2 69.4h0.8M293.1 45.9h0.8M290.4 70.2h0.8M285.8 60.1h0.8M295.3 69.0h0.8M294.5 46.4h0.8M293.1 42.2h0.8M292.6 32.8h0.8M282.2 68.0h0.8M292.1 47.0h0.8M291.5 58.5h0.8M282.4 75.9h0.8M280.5 63.7h0.8M289.4 29.0h0.8M295.8 32.1h0.8M290.8 70.5h0.8M288.4 43.8h0.8M291.2 42.9h0.8M296.2 50.3h0.8M283.3 65.6h0.8M288.7 76.9h0.8M288.6 70.5h0.8M297.3 84.1h0.8M292.8 87.6h0.8M291.3 73.4h0.8M278.9 41.7h0.8M297.0 77.3h0.8M275.8 80.4h0.8M287.3 70.6h0.8M302.5 82.5h0.8M273.4 70.6h0.8M295.0 84.2h0.8M290.7 64.5h0.8M289.1 44.7h0.8M297.4 68.7h0.8M280.7 60.1h0.8M287.3 58.5h0.8M276.8 56.7h0.8M301.6 68.0h0.8M290.4 74.1h0.8M280.2 79.7h0.8M284.4 59.6h0.8M276.6 64.3h0.8M281.4 87.0h0.8M262.8 84.1h0.8M299.1 89.7h0.8M279.3 58.6h0.8M297.3 78.3h0.8M288.5 58.1h0.8M283.2 53.9h0.8M300.8 83.3h0.8M281.9 83.3h0.8M287.1 43.0h0.8M291.0 59.6h0.8M288.8 63.4h0.8M276.7 65.1h0.8M295.4 54.0h0.8M276.9 49.5h0.8M280.2 81.0h0.8M292.5 76.8h0.8M290.4 89.5h0.8M299.5 90.5h0.8M277.9 61.2h0.8M293.0 79.1h0.8M281.2 66.7h0.8M294.2 67.7h0.8M279.0 73.8h0.8M280.7 77.0h0.8M287.9 65.5h0.8M277.8 82.7h0.8M277.9 71.0h0.8M282.6 70.0h0.8M282.4 82.5h0.8M286.8 55.8h0.8M274.5 79.1h0.8M283.9 85.7h0.8M290.0 86.4h0.8M273.1 64.9h0.8M297.1 53.1h0.8M292.3 68.8h0.8M295.2 65.5h0.8M279.2 80.1h0.8M305.5 54.2h0.8M288.4 59.1h0.8M290.3 75.5h0.8M279.2 51.6h0.8M286.5 69.9h0.8M294.0 69.1h0.8M295.5 73.3h0.8M299.3 83.3h0.8M273.6 66.2h0.8M290.0 66.5h0.8M278.2 60.8h0.8M278.1 83.7h0.8M306.4 58.7h0.8M307.5 51.6h0.8M287.3 71.8h0.8M289.0 60.9h0.8M275.8 67.5h0.8M295.4 67.2h0.8M289.8 76.1h0.8M299.4 55.9h0.8M275.7 84.6h0.8M269.5 59.4h0.8M283.6 69.7h0.8M269.4 60.5h0.8M271.5 82.4h0.8M277.8 73.5h0.8M281.7 76.7h0.8M263.0 69.4h0.8M272.9 57.5h0.8M289.5 80.8h0.8M278.0 63.3h0.8M303.9 70.9h0.8M294.9 83.3h0.8M293.2 68.2h0.8M284.8 81.1h0.8M261.5 60.0h0.8M289.9 77.2h0.8M291.6 63.1h0.8M278.6 51.5h0.8M287.9 69.5h0.8M286.9 40.4h0.8M282.4 55.8h0.8M294.7 78.9h0.8M291.9 76.8h0.8M296.4 72.9h0.8M278.6 71.7h0.8M286.4 74.2h0.8M290.4 70.7h0.8M288.1 69.1h0.8M283.7 55.5h0.8" stroke="#333" stroke-width="0.8" fill="none" opacity="0.36"/>
</g>
<line x1="283.2" y1="12.7" x2="283.2" y2="92.5" stroke="#a4a4a4" stroke-width="0.6"/>
<line x1="250.8" y1="61.1" x2="330.5" y2="61.1" stroke="#a4a4a4" stroke-width="0.6"/>
<rect x="250.8" y="12.7" width="79.7" height="79.8" fill="none" stroke="#858585" stroke-width="0.9"/>
<path d="M297.1 93.4h0.8M276.3 93.4h0.8M326.1 93.4h0.8M313.3 93.4h0.8M283.6 93.4h0.8M285.6 93.4h0.8M321.5 93.4h0.8M265.3 93.4h0.8M318.2 93.4h0.8M299.4 93.4h0.8M295.6 93.4h0.8M293.1 93.4h0.8M297.3 93.4h0.8M260.5 93.4h0.8M272.2 93.4h0.8M279.9 93.4h0.8M270.1 93.4h0.8M260.1 93.4h0.8M306.3 93.4h0.8M284.9 93.4h0.8M308.4 93.4h0.8M282.7 93.4h0.8M323.2 93.4h0.8M271.8 93.4h0.8M291.6 93.4h0.8M285.0 93.4h0.8" stroke="#222" stroke-width="0.8" fill="none" opacity="0.7"/>
<path d="M249.9 75.1h0.8M249.9 29.7h0.8M249.9 58.3h0.8M249.9 51.9h0.8M249.9 63.7h0.8M249.9 36.7h0.8M249.9 58.0h0.8M249.9 88.5h0.8M249.9 27.8h0.8M249.9 87.6h0.8M249.9 87.2h0.8M249.9 51.5h0.8" stroke="#222" stroke-width="0.8" fill="none" opacity="0.6"/>
<g filter="url(#b3)">
<path d="M289.4 145.5h0.8M292.2 142.4h0.8M288.3 135.5h0.8M288.1 145.7h0.8M288.7 148.5h0.8M287.5 123.0h0.8M283.6 132.1h0.8M289.5 139.7h0.8M285.9 149.7h0.8M293.2 138.2h0.8M285.5 147.8h0.8M286.1 155.5h0.8M287.9 152.3h0.8M286.0 136.4h0.8M300.5 139.3h0.8M297.7 134.2h0.8M287.3 153.6h0.8M294.8 151.5h0.8M288.8 137.5h0.8M290.6 151.5h0.8M289.7 161.5h0.8M291.9 129.2h0.8M295.2 128.9h0.8M288.0 147.5h0.8M295.4 131.8h0.8M296.1 136.8h0.8M290.7 130.8h0.8M287.1 135.2h0.8M294.0 167.4h0.8M294.7 134.3h0.8M298.1 122.8h0.8M287.8 151.3h0.8M292.1 137.1h0.8M288.5 145.1h0.8M290.6 132.2h0.8M294.4 136.3h0.8M291.5 141.4h0.8M291.2 124.2h0.8M289.0 136.7h0.8M289.5 139.4h0.8M296.4 125.6h0.8M287.3 149.7h0.8M286.0 146.8h0.8M291.4 128.2h0.8M288.2 156.0h0.8M293.6 125.6h0.8M288.5 135.0h0.8M283.1 144.2h0.8M287.0 123.0h0.8M289.7 151.5h0.8M288.7 134.8h0.8M295.0 147.3h0.8M292.7 133.7h0.8M290.2 164.2h0.8M292.5 137.7h0.8M293.3 142.0h0.8M288.3 144.5h0.8M292.4 139.8h0.8M291.9 134.2h0.8M297.0 132.0h0.8M285.2 156.4h0.8M290.3 149.4h0.8M289.6 141.9h0.8M294.5 143.7h0.8M296.5 128.9h0.8M286.6 138.4h0.8M293.4 140.5h0.8M292.1 140.1h0.8M289.0 137.7h0.8M285.6 150.9h0.8M290.9 150.9h0.8M290.2 138.3h0.8M291.0 138.2h0.8M290.2 140.6h0.8M284.6 122.0h0.8M287.8 144.4h0.8M290.8 135.5h0.8M298.5 130.2h0.8M290.1 141.0h0.8M295.7 130.7h0.8M295.9 148.1h0.8M286.3 149.8h0.8M297.9 128.7h0.8M291.2 134.4h0.8M293.0 139.5h0.8M285.9 146.4h0.8M284.5 134.8h0.8M289.4 146.5h0.8M297.1 124.6h0.8M286.7 141.2h0.8M288.9 137.0h0.8M291.5 142.1h0.8M293.2 135.5h0.8M292.7 115.8h0.8M293.8 147.4h0.8M285.6 148.9h0.8M291.5 124.7h0.8M288.9 163.2h0.8M284.9 133.9h0.8M288.8 142.4h0.8M290.9 145.9h0.8M293.2 118.3h0.8M287.4 148.7h0.8M287.6 129.4h0.8M301.2 128.2h0.8M286.5 154.6h0.8M284.7 154.3h0.8M288.4 135.7h0.8M293.6 139.1h0.8M291.1 160.6h0.8M291.5 139.9h0.8M292.5 138.7h0.8M292.8 132.5h0.8M293.9 145.3h0.8M293.4 132.9h0.8M287.1 143.6h0.8M291.0 121.9h0.8M288.5 149.3h0.8M290.1 162.8h0.8M291.2 133.9h0.8M292.1 145.3h0.8M292.8 138.6h0.8M290.7 169.4h0.8M288.6 142.5h0.8M293.6 123.7h0.8M291.0 136.9h0.8M294.5 135.6h0.8M286.6 151.2h0.8M293.7 127.7h0.8M290.6 154.1h0.8M284.5 145.5h0.8M293.7 135.5h0.8M290.2 144.4h0.8M293.4 146.3h0.8M287.8 141.7h0.8M293.3 127.3h0.8M290.2 139.2h0.8M286.7 151.4h0.8M293.6 138.2h0.8M283.3 132.3h0.8M294.6 135.6h0.8M290.5 135.0h0.8M297.7 123.1h0.8M290.2 124.1h0.8M298.6 139.1h0.8M287.7 141.9h0.8M291.3 126.5h0.8M289.7 129.1h0.8M295.4 141.2h0.8M297.5 130.2h0.8M300.8 122.2h0.8M290.0 134.6h0.8M292.2 136.3h0.8M289.4 140.3h0.8M289.4 134.1h0.8M288.5 141.3h0.8M285.8 134.2h0.8M292.6 141.0h0.8M295.9 131.0h0.8M291.1 140.4h0.8M295.2 124.5h0.8M296.8 152.7h0.8M291.2 134.9h0.8M291.9 147.8h0.8M291.7 134.7h0.8M291.7 150.1h0.8M294.9 140.2h0.8M294.2 126.7h0.8M290.1 134.5h0.8M296.5 148.5h0.8M290.6 145.1h0.8M291.6 156.4h0.8M291.0 119.9h0.8M288.9 134.5h0.8M295.1 126.7h0.8M297.3 142.5h0.8M291.5 138.2h0.8M295.6 133.8h0.8M295.7 152.9h0.8M287.2 150.6h0.8M285.7 152.4h0.8M290.8 135.1h0.8M285.4 160.7h0.8M292.9 131.7h0.8M291.5 152.2h0.8M286.8 146.2h0.8M296.2 137.4h0.8M288.1 142.0h0.8M296.4 137.8h0.8M290.3 157.2h0.8M298.3 133.4h0.8M292.0 135.1h0.8M290.2 145.1h0.8M297.3 139.5h0.8M284.8 144.1h0.8M296.6 135.6h0.8M287.0 139.5h0.8M291.6 149.7h0.8M292.9 141.6h0.8M291.9 137.6h0.8M287.9 146.6h0.8M285.2 152.8h0.8M288.6 160.6h0.8M285.6 144.7h0.8M286.6 148.5h0.8M290.3 145.8h0.8M298.7 133.6h0.8M288.6 142.8h0.8M292.5 137.8h0.8M294.0 141.7h0.8M292.3 135.9h0.8M288.7 136.7h0.8M286.7 148.8h0.8M295.3 126.0h0.8M293.6 136.4h0.8M292.1 146.1h0.8M296.7 142.0h0.8M296.6 131.5h0.8M292.1 139.9h0.8M294.7 137.3h0.8M288.5 145.8h0.8M292.6 141.8h0.8M300.6 140.0h0.8M288.6 146.6h0.8M290.6 150.8h0.8M290.2 136.6h0.8M295.7 126.5h0.8M288.7 155.5h0.8M285.2 133.9h0.8M292.3 130.0h0.8M291.0 135.4h0.8M291.2 133.6h0.8M291.8 139.3h0.8M291.5 142.2h0.8M290.7 133.8h0.8M290.4 130.0h0.8M292.6 141.0h0.8M288.8 128.9h0.8M286.8 136.4h0.8M290.4 138.7h0.8M297.9 134.6h0.8M292.3 137.3h0.8M296.2 124.8h0.8M291.2 144.2h0.8M293.2 121.4h0.8M293.2 135.0h0.8M288.8 141.0h0.8M296.1 136.9h0.8M282.9 151.4h0.8M293.8 137.1h0.8M292.5 137.4h0.8M297.5 138.2h0.8M289.2 147.9h0.8M291.6 154.3h0.8M287.0 156.8h0.8M295.7 127.3h0.8M284.0 141.5h0.8M295.8 105.7h0.8M287.6 141.8h0.8M291.8 136.8h0.8M297.3 128.3h0.8M292.5 129.1h0.8M288.9 141.2h0.8M295.0 133.9h0.8M292.7 126.2h0.8M285.9 156.1h0.8M290.7 126.8h0.8M291.3 113.8h0.8M289.0 130.1h0.8M294.1 132.7h0.8M286.7 141.3h0.8M285.4 153.0h0.8M287.1 154.6h0.8M290.1 132.4h0.8M289.5 154.2h0.8M284.3 140.6h0.8M289.5 140.6h0.8M288.1 137.4h0.8M297.5 126.0h0.8M294.2 131.8h0.8M290.6 146.1h0.8M293.0 142.1h0.8M290.8 137.6h0.8M291.0 143.9h0.8M280.6 137.9h0.8M285.9 140.5h0.8M294.1 151.7h0.8M291.4 143.1h0.8M292.5 121.8h0.8M298.7 133.5h0.8M301.0 128.4h0.8M283.0 139.2h0.8M287.7 157.7h0.8M294.5 144.3h0.8M290.7 126.0h0.8M295.5 142.1h0.8M293.2 139.2h0.8M294.9 124.4h0.8M290.5 132.2h0.8M294.1 141.8h0.8M293.2 134.5h0.8M293.5 138.0h0.8M296.7 136.7h0.8M287.9 131.2h0.8M286.3 152.9h0.8M292.6 147.0h0.8M291.6 125.1h0.8M290.8 136.4h0.8M293.2 126.9h0.8M286.2 142.7h0.8M291.5 141.1h0.8M292.5 124.9h0.8M292.5 149.3h0.8M289.0 130.6h0.8M292.2 141.0h0.8M290.0 148.4h0.8M287.1 148.3h0.8M287.7 158.0h0.8M289.6 131.8h0.8M289.9 123.9h0.8M292.9 137.7h0.8M285.9 151.2h0.8M294.2 133.7h0.8M292.3 150.3h0.8M285.8 143.0h0.8M285.2 135.5h0.8M296.3 134.0h0.8M287.6 155.2h0.8M295.1 146.2h0.8M286.6 130.5h0.8M283.2 134.3h0.8M289.4 146.9h0.8M291.1 137.7h0.8M289.9 144.9h0.8M294.5 128.9h0.8M292.3 135.3h0.8M291.4 133.8h0.8M292.9 125.6h0.8M295.0 137.4h0.8M288.1 132.7h0.8M282.0 146.7h0.8M289.4 146.0h0.8M291.4 135.8h0.8M287.3 137.5h0.8M286.1 146.8h0.8M289.6 141.2h0.8M288.9 133.1h0.8M288.7 142.7h0.8M292.2 152.7h0.8M294.9 135.9h0.8M300.0 118.0h0.8M287.1 127.8h0.8M282.8 150.4h0.8M292.6 133.1h0.8M292.4 120.7h0.8M286.6 148.5h0.8M285.2 153.8h0.8M290.3 153.4h0.8M289.4 141.3h0.8M295.8 130.8h0.8M291.9 129.0h0.8M291.4 146.7h0.8M287.2 146.4h0.8M292.9 128.0h0.8M294.8 138.5h0.8M292.8 121.6h0.8M288.1 143.7h0.8M292.5 124.8h0.8M286.5 149.7h0.8M287.7 131.3h0.8M284.7 130.6h0.8M285.8 169.4h0.8M293.6 151.1h0.8M293.4 134.7h0.8M293.5 157.2h0.8M286.5 149.6h0.8M291.5 134.1h0.8M285.9 154.7h0.8M294.2 146.6h0.8M289.6 147.8h0.8M294.1 134.3h0.8M292.4 137.2h0.8M289.1 135.6h0.8M287.2 136.0h0.8M284.1 149.1h0.8M288.4 143.9h0.8M283.5 145.0h0.8M290.8 140.4h0.8M292.8 153.6h0.8M289.9 143.9h0.8M294.5 140.9h0.8M291.3 152.7h0.8M283.3 151.8h0.8M297.2 149.5h0.8M288.2 141.7h0.8M281.7 153.6h0.8M284.6 151.9h0.8M285.6 145.2h0.8M289.1 154.6h0.8M291.3 135.2h0.8M294.9 153.6h0.8M289.6 143.0h0.8M289.4 154.9h0.8M298.8 135.6h0.8M293.9 126.1h0.8M290.5 156.1h0.8M294.1 143.6h0.8M292.0 132.2h0.8M294.8 140.9h0.8M290.6 145.7h0.8M294.5 153.1h0.8M302.3 130.3h0.8M288.6 145.1h0.8M279.4 157.6h0.8M293.5 130.4h0.8M287.2 135.5h0.8M297.1 139.3h0.8M294.1 142.2h0.8M290.0 148.7h0.8M288.4 142.3h0.8M293.8 144.0h0.8M291.1 140.2h0.8M290.7 146.4h0.8M283.5 144.8h0.8M284.3 145.5h0.8M289.6 147.8h0.8M286.8 137.8h0.8M288.3 150.4h0.8M284.3 137.8h0.8M287.1 156.1h0.8M296.4 134.1h0.8M280.9 146.9h0.8M296.9 140.8h0.8M288.5 139.5h0.8M292.9 149.4h0.8M289.5 133.7h0.8M289.6 136.6h0.8M289.8 130.1h0.8M284.2 147.8h0.8M291.6 151.0h0.8M293.0 148.5h0.8M285.9 134.1h0.8M289.4 152.1h0.8M294.1 145.6h0.8M292.2 129.6h0.8M287.2 141.2h0.8M291.9 133.5h0.8M295.3 144.8h0.8M295.3 149.7h0.8M292.4 137.2h0.8M289.8 140.9h0.8M296.6 136.7h0.8M289.3 155.0h0.8M289.6 116.8h0.8M298.3 133.7h0.8M288.6 151.5h0.8M291.3 148.1h0.8M290.5 140.6h0.8M288.1 132.9h0.8M286.9 139.9h0.8M289.3 144.8h0.8M293.2 133.5h0.8M290.4 134.4h0.8M294.4 132.7h0.8M289.9 142.5h0.8M292.9 139.4h0.8M284.5 137.0h0.8M289.2 156.8h0.8M286.6 148.2h0.8M288.5 126.7h0.8M288.6 146.5h0.8M289.2 139.5h0.8M298.8 126.9h0.8M288.2 132.4h0.8M293.3 130.7h0.8M290.0 152.3h0.8M289.3 144.9h0.8M290.1 153.4h0.8M286.3 144.9h0.8M291.9 152.2h0.8M288.7 136.7h0.8M285.5 145.1h0.8M287.6 142.1h0.8M296.1 131.5h0.8M285.2 131.6h0.8M286.6 154.6h0.8M289.5 151.0h0.8M285.8 132.3h0.8M292.0 139.2h0.8M290.1 135.1h0.8M291.2 133.7h0.8M289.7 142.2h0.8M290.1 122.5h0.8M289.3 137.2h0.8M290.6 123.7h0.8M286.2 126.6h0.8M286.6 144.2h0.8M293.5 150.8h0.8M293.7 123.3h0.8M294.5 126.4h0.8M294.5 150.3h0.8M283.8 151.9h0.8M284.6 142.7h0.8M293.1 144.5h0.8M294.0 139.0h0.8M289.7 132.8h0.8M285.1 129.7h0.8M290.5 141.3h0.8M288.6 131.0h0.8M295.0 126.5h0.8M287.9 145.6h0.8M289.3 136.9h0.8M293.0 132.3h0.8M281.7 149.3h0.8M286.1 148.3h0.8M285.6 137.1h0.8M290.7 135.6h0.8M300.7 137.7h0.8M290.0 136.7h0.8M292.6 137.4h0.8M292.5 147.0h0.8M291.4 140.0h0.8M293.7 118.9h0.8M292.7 131.3h0.8M293.4 135.1h0.8M293.2 137.6h0.8M296.8 121.6h0.8M298.3 127.6h0.8M292.4 127.1h0.8M292.3 131.2h0.8M285.9 149.9h0.8M293.3 143.4h0.8M295.0 131.0h0.8M293.4 135.2h0.8M303.6 130.6h0.8M283.0 139.3h0.8M288.7 144.6h0.8M291.1 125.8h0.8M292.5 129.0h0.8M287.7 131.6h0.8M291.6 141.9h0.8M291.7 140.1h0.8M291.7 139.5h0.8M292.7 151.4h0.8M295.8 145.5h0.8M296.2 124.9h0.8M290.1 122.7h0.8M293.6 131.8h0.8M286.4 153.4h0.8M296.3 123.4h0.8M285.3 138.7h0.8M289.5 159.9h0.8M290.9 141.9h0.8M293.2 137.2h0.8M295.0 141.1h0.8M292.3 126.3h0.8M284.9 150.1h0.8M286.7 147.2h0.8M294.4 149.3h0.8M289.8 146.2h0.8M289.0 133.5h0.8M290.2 142.9h0.8M292.2 131.7h0.8M296.7 129.9h0.8M289.6 148.0h0.8M288.4 150.7h0.8M289.4 153.5h0.8M284.7 128.6h0.8M282.1 157.6h0.8M294.1 139.7h0.8M287.6 137.7h0.8M291.6 138.6h0.8M292.4 142.1h0.8M296.3 130.3h0.8M293.3 143.2h0.8M291.5 148.8h0.8M289.2 129.7h0.8M287.7 133.4h0.8M284.7 134.9h0.8M290.5 140.7h0.8M287.4 150.2h0.8M288.2 156.4h0.8M291.2 137.7h0.8M292.7 153.8h0.8M290.3 143.5h0.8M286.1 136.4h0.8M289.5 138.9h0.8M287.0 155.6h0.8M289.4 152.7h0.8M293.5 137.3h0.8M285.9 120.3h0.8M289.8 157.2h0.8M289.4 144.2h0.8M290.0 141.8h0.8M291.5 139.6h0.8M292.4 143.0h0.8M290.2 131.2h0.8M287.3 155.9h0.8M290.9 143.7h0.8M298.1 137.4h0.8M282.8 146.2h0.8M284.6 150.6h0.8M290.1 123.7h0.8M283.2 148.2h0.8M286.2 148.9h0.8M292.0 151.8h0.8M282.5 133.5h0.8M282.4 140.1h0.8M287.9 147.6h0.8M286.9 151.4h0.8M293.5 131.2h0.8M292.0 130.8h0.8M287.8 139.2h0.8M294.4 128.0h0.8M287.5 155.5h0.8M290.4 131.9h0.8M284.6 129.1h0.8M289.8 149.7h0.8M297.6 137.1h0.8M290.4 140.1h0.8M287.2 148.2h0.8M291.6 143.3h0.8M291.0 146.9h0.8M291.9 153.3h0.8M292.9 147.0h0.8M287.8 134.9h0.8M295.1 137.8h0.8M293.4 128.5h0.8M289.7 133.6h0.8M284.7 132.7h0.8M287.8 153.3h0.8M290.7 140.4h0.8M299.0 114.7h0.8M288.3 155.2h0.8M292.8 142.7h0.8M293.3 146.1h0.8M289.0 146.6h0.8M285.5 145.3h0.8M295.0 139.4h0.8M290.8 153.1h0.8M287.8 147.4h0.8M289.0 148.1h0.8M296.5 131.7h0.8M291.6 141.1h0.8M292.0 129.6h0.8M292.3 143.5h0.8M291.7 145.1h0.8M294.1 148.5h0.8M286.0 150.3h0.8M295.3 142.1h0.8M288.5 149.0h0.8M290.2 140.4h0.8M282.7 142.3h0.8M290.9 121.2h0.8M288.5 127.0h0.8M292.0 131.3h0.8M295.8 138.9h0.8M289.5 140.8h0.8M289.9 139.3h0.8M286.9 131.3h0.8M286.2 152.3h0.8M286.9 132.2h0.8M286.1 133.8h0.8M284.7 132.9h0.8M300.0 126.0h0.8M291.6 141.5h0.8M290.7 151.7h0.8M288.6 143.5h0.8M286.5 148.8h0.8M289.0 137.6h0.8M289.0 151.0h0.8M295.9 141.3h0.8M290.5 153.6h0.8M288.6 143.1h0.8M293.7 140.4h0.8M295.1 144.9h0.8M286.1 144.6h0.8M283.5 133.6h0.8M286.6 144.3h0.8M288.4 145.3h0.8M288.9 142.3h0.8M292.5 138.6h0.8M290.4 136.3h0.8M289.7 136.1h0.8M287.2 135.3h0.8M292.8 138.5h0.8M288.0 140.8h0.8M299.6 130.1h0.8M284.9 151.5h0.8M286.4 128.7h0.8M283.1 149.6h0.8M286.5 140.7h0.8M286.6 140.9h0.8M290.5 138.5h0.8M294.5 148.3h0.8M291.0 144.2h0.8M282.9 154.6h0.8M287.3 156.8h0.8M296.2 136.5h0.8M290.9 136.6h0.8M294.2 147.5h0.8M294.4 129.6h0.8M289.5 143.7h0.8M297.8 154.7h0.8M292.2 147.2h0.8M290.5 133.5h0.8M292.7 136.3h0.8M287.7 142.9h0.8M286.6 138.7h0.8M291.0 136.7h0.8M290.0 141.7h0.8M289.9 141.7h0.8M294.4 133.0h0.8M289.4 134.8h0.8M289.4 149.1h0.8M296.5 143.4h0.8M287.0 133.5h0.8M285.9 159.1h0.8M299.3 133.7h0.8M289.4 143.0h0.8M292.5 121.6h0.8M293.5 133.5h0.8M293.6 122.4h0.8M289.2 154.2h0.8M282.0 134.3h0.8M288.7 136.0h0.8M286.7 131.5h0.8M294.1 151.8h0.8M288.9 130.3h0.8M287.3 132.8h0.8M292.0 143.7h0.8M289.6 148.7h0.8M295.4 143.0h0.8M291.2 144.6h0.8M292.0 124.1h0.8M291.2 137.3h0.8M287.0 151.3h0.8M285.5 154.0h0.8M284.7 154.9h0.8M282.8 140.3h0.8M282.8 128.8h0.8M288.8 145.4h0.8M294.8 118.0h0.8M286.5 134.7h0.8M291.9 137.1h0.8M291.0 139.5h0.8M293.7 145.7h0.8M294.1 128.0h0.8M288.7 127.1h0.8M289.7 125.3h0.8M290.3 150.7h0.8M286.4 154.9h0.8M280.0 152.8h0.8M293.7 146.4h0.8M287.5 146.7h0.8M291.1 134.5h0.8M292.0 159.0h0.8M284.0 139.1h0.8M286.3 150.0h0.8M283.8 149.4h0.8M293.1 130.3h0.8M294.3 143.4h0.8M289.6 141.9h0.8M289.0 146.5h0.8M291.5 132.6h0.8M290.1 153.2h0.8M293.7 144.6h0.8M286.2 145.7h0.8M292.7 137.7h0.8M289.2 157.5h0.8M291.9 132.5h0.8M285.8 141.1h0.8M300.1 143.7h0.8M293.4 133.4h0.8M288.8 150.2h0.8M294.4 123.1h0.8M288.8 136.2h0.8M290.6 143.8h0.8M294.4 150.0h0.8M295.1 132.3h0.8M291.8 139.9h0.8M288.3 154.3h0.8M286.2 135.5h0.8M290.7 157.2h0.8M287.9 145.2h0.8M280.8 155.7h0.8M296.9 150.2h0.8M290.4 155.5h0.8M289.6 145.6h0.8M291.1 138.7h0.8M290.7 137.4h0.8M291.5 134.4h0.8M295.3 145.6h0.8M292.8 140.9h0.8M294.6 138.4h0.8M286.8 134.8h0.8M289.4 127.8h0.8M296.7 138.6h0.8M290.8 144.4h0.8M289.9 128.0h0.8M302.2 136.0h0.8M293.6 153.4h0.8M290.7 128.3h0.8M291.6 137.5h0.8M294.5 127.3h0.8M283.5 139.7h0.8M295.5 136.9h0.8M292.5 147.8h0.8M295.8 125.9h0.8M291.0 143.0h0.8M287.3 128.6h0.8M291.6 153.3h0.8M295.4 151.3h0.8M289.1 136.4h0.8M297.4 127.6h0.8M290.0 142.9h0.8M292.0 136.3h0.8M285.6 162.9h0.8M296.4 124.5h0.8M298.1 140.2h0.8M293.2 143.8h0.8M291.4 125.3h0.8M291.5 136.1h0.8M290.4 145.9h0.8M296.5 137.7h0.8M297.5 148.4h0.8M288.5 135.7h0.8M289.4 124.2h0.8M296.4 139.9h0.8M286.4 129.3h0.8M289.6 138.7h0.8M288.0 144.8h0.8M289.8 136.9h0.8M283.0 144.7h0.8M284.3 145.6h0.8M286.8 150.4h0.8M287.5 145.1h0.8M292.2 145.0h0.8M296.3 127.3h0.8M287.2 141.6h0.8M282.0 143.3h0.8M295.8 129.2h0.8M294.7 138.0h0.8M293.6 142.7h0.8M291.4 148.7h0.8M288.0 142.2h0.8M298.2 145.1h0.8M293.5 136.4h0.8M291.3 141.7h0.8M284.8 151.3h0.8M286.4 159.5h0.8M286.0 124.3h0.8M296.9 140.4h0.8M288.3 142.5h0.8M282.7 162.8h0.8M292.7 141.7h0.8M291.6 145.3h0.8M297.7 131.3h0.8M293.2 141.7h0.8M285.1 133.3h0.8M288.6 157.1h0.8M288.0 137.0h0.8M291.3 137.3h0.8M290.8 139.9h0.8M285.9 140.4h0.8M292.6 143.5h0.8M289.8 133.8h0.8M285.3 141.4h0.8M288.6 141.1h0.8M298.7 146.8h0.8M286.8 138.7h0.8M290.2 143.7h0.8M289.8 136.6h0.8M293.4 138.2h0.8M291.7 138.1h0.8M295.1 146.6h0.8M293.9 145.8h0.8M287.4 156.6h0.8M292.7 152.9h0.8M289.5 130.3h0.8M280.3 147.6h0.8M297.6 129.2h0.8M294.9 144.0h0.8M284.5 152.8h0.8M298.8 129.3h0.8M288.8 123.3h0.8M286.1 143.8h0.8M292.6 137.5h0.8M288.8 144.2h0.8M291.3 147.5h0.8M292.2 145.0h0.8M287.7 137.7h0.8M286.8 146.2h0.8M283.7 152.3h0.8M295.7 139.5h0.8M288.8 137.9h0.8M290.0 159.0h0.8M290.0 146.6h0.8M294.5 152.7h0.8M287.7 134.0h0.8M293.7 116.4h0.8M297.1 145.0h0.8M293.8 138.6h0.8M287.3 136.9h0.8M289.4 127.8h0.8M290.7 149.3h0.8M296.6 126.1h0.8M286.2 142.4h0.8M296.4 127.6h0.8M289.5 140.3h0.8M282.5 147.4h0.8M296.7 137.5h0.8M291.9 133.3h0.8M291.1 151.3h0.8M286.8 139.3h0.8M289.2 136.8h0.8M284.0 147.9h0.8M291.2 136.0h0.8M289.4 150.1h0.8M291.7 140.5h0.8M300.0 131.8h0.8M291.8 126.3h0.8M293.0 133.3h0.8M294.1 146.7h0.8M286.7 136.4h0.8M293.4 128.3h0.8M298.5 146.9h0.8M288.4 144.2h0.8M284.7 149.8h0.8M290.0 156.3h0.8M287.2 143.6h0.8M294.4 144.0h0.8M290.5 145.7h0.8M287.3 137.8h0.8M297.8 123.9h0.8M287.2 142.8h0.8M290.6 143.0h0.8M287.2 134.4h0.8M288.7 152.2h0.8M287.7 127.7h0.8M291.7 129.5h0.8M295.0 133.5h0.8M286.7 137.4h0.8M286.8 140.4h0.8M288.7 133.5h0.8M290.0 125.6h0.8M291.0 142.4h0.8M293.2 141.9h0.8M293.6 147.9h0.8M293.1 130.6h0.8M288.6 141.1h0.8M285.5 155.0h0.8M297.2 140.0h0.8M290.4 140.8h0.8M296.8 132.1h0.8M293.0 137.6h0.8M294.0 138.8h0.8M286.3 138.5h0.8M301.6 125.2h0.8M295.6 134.0h0.8M281.3 162.6h0.8M293.5 132.3h0.8M288.6 131.8h0.8M290.7 129.1h0.8M292.5 142.5h0.8M290.4 134.1h0.8M291.2 138.0h0.8M292.9 137.0h0.8M293.8 120.2h0.8M292.5 143.6h0.8M293.9 136.6h0.8M291.1 143.8h0.8M284.8 132.4h0.8M288.9 156.4h0.8M283.9 145.0h0.8M288.8 140.6h0.8M298.6 135.3h0.8M292.0 124.3h0.8M298.3 139.9h0.8M288.6 145.0h0.8M276.9 136.9h0.8M290.6 147.1h0.8M285.7 152.6h0.8M292.9 136.9h0.8M289.6 142.8h0.8M290.2 143.1h0.8M295.3 135.1h0.8M288.8 125.7h0.8M297.7 121.6h0.8M294.4 136.5h0.8M289.3 148.8h0.8M291.1 137.0h0.8M285.6 144.0h0.8M284.9 149.5h0.8M291.6 137.9h0.8M295.1 134.2h0.8M294.5 132.9h0.8M293.3 141.0h0.8M285.4 155.2h0.8M297.5 128.5h0.8M291.8 152.3h0.8M293.9 139.1h0.8M292.2 128.2h0.8M293.7 138.5h0.8M297.0 126.9h0.8M284.4 157.8h0.8M280.9 137.5h0.8M290.2 159.2h0.8M291.6 138.9h0.8M297.5 145.3h0.8M289.5 138.5h0.8M299.8 131.8h0.8M287.2 164.5h0.8M282.8 157.4h0.8M286.6 148.3h0.8M295.6 140.1h0.8M290.3 152.0h0.8M293.4 139.3h0.8M294.7 127.9h0.8M291.4 135.9h0.8M289.4 147.1h0.8M289.1 124.8h0.8M287.3 136.2h0.8M289.1 143.7h0.8M290.8 135.8h0.8M291.6 132.6h0.8M286.2 145.6h0.8M292.5 142.8h0.8M292.9 148.2h0.8M282.2 154.0h0.8M289.0 140.6h0.8M289.0 135.8h0.8M291.5 143.7h0.8M289.1 141.0h0.8M287.3 146.1h0.8M298.5 126.3h0.8M293.7 144.8h0.8M285.1 148.6h0.8M292.3 140.8h0.8M285.0 145.9h0.8M289.1 146.1h0.8M296.9 137.4h0.8M301.9 129.9h0.8M292.7 138.9h0.8M291.2 136.5h0.8M298.8 124.1h0.8M287.9 134.9h0.8M285.5 131.5h0.8M291.1 162.7h0.8M287.2 148.4h0.8M295.9 144.7h0.8M290.6 136.1h0.8M289.0 131.6h0.8M290.3 138.8h0.8M290.7 130.7h0.8M284.6 150.2h0.8M286.0 138.0h0.8M297.6 142.5h0.8M300.6 139.0h0.8M291.1 131.0h0.8M294.4 132.1h0.8M291.2 135.0h0.8M291.5 138.2h0.8M290.4 136.2h0.8M291.4 140.8h0.8M290.9 138.1h0.8M293.1 126.8h0.8M292.3 146.6h0.8M295.0 137.4h0.8M294.5 137.0h0.8M289.8 141.7h0.8M284.3 158.5h0.8M286.9 130.2h0.8M286.7 139.4h0.8M291.9 142.8h0.8M288.5 129.2h0.8M280.5 134.2h0.8M296.1 137.1h0.8M298.8 137.5h0.8M291.2 152.3h0.8M287.9 145.2h0.8M288.7 150.1h0.8M289.5 148.5h0.8M287.6 147.8h0.8M281.7 149.7h0.8M289.5 126.6h0.8M282.1 140.8h0.8M284.9 145.7h0.8M285.8 138.2h0.8M291.4 140.4h0.8M289.2 144.7h0.8M292.5 135.2h0.8M292.9 141.2h0.8M290.7 135.8h0.8M285.5 148.8h0.8M291.9 144.8h0.8M280.8 139.2h0.8M291.2 138.9h0.8M295.7 140.3h0.8M276.8 164.0h0.8M310.9 161.2h0.8M297.8 158.0h0.8M268.4 147.7h0.8M278.9 153.8h0.8M274.5 171.9h0.8M283.3 137.4h0.8M279.0 154.7h0.8M304.8 167.9h0.8M300.7 123.2h0.8M283.6 148.1h0.8M291.9 153.5h0.8M278.9 150.1h0.8M305.1 142.3h0.8M279.2 152.4h0.8M280.3 159.0h0.8M282.9 151.0h0.8M294.0 130.9h0.8M294.1 148.4h0.8M272.1 157.5h0.8M270.1 161.9h0.8M286.3 137.8h0.8M284.7 134.7h0.8M292.4 144.8h0.8M287.0 159.8h0.8M290.6 151.6h0.8M293.3 135.4h0.8M290.8 127.3h0.8M280.7 138.6h0.8M292.1 140.4h0.8M289.3 145.4h0.8M268.6 126.5h0.8M278.2 146.2h0.8M277.1 150.5h0.8M291.5 160.2h0.8M289.7 162.9h0.8M275.3 144.2h0.8M286.1 146.3h0.8M294.2 154.4h0.8M300.1 158.7h0.8M285.3 139.8h0.8M279.6 145.6h0.8M279.3 164.0h0.8M282.7 148.9h0.8M297.7 154.5h0.8M293.8 133.7h0.8M275.8 145.2h0.8M271.5 148.0h0.8M277.6 144.6h0.8M286.0 161.3h0.8M275.6 150.9h0.8M295.1 152.9h0.8M295.2 142.8h0.8M287.7 130.0h0.8M297.9 145.2h0.8M296.0 158.4h0.8M309.4 139.0h0.8M281.7 138.3h0.8M284.2 144.0h0.8M290.8 126.4h0.8M280.2 169.1h0.8M302.2 133.6h0.8M294.3 131.9h0.8M275.4 148.6h0.8M279.3 151.5h0.8M282.8 149.5h0.8M273.3 153.7h0.8M303.1 129.5h0.8M270.6 136.5h0.8M290.8 153.3h0.8M293.2 156.5h0.8M295.0 149.7h0.8M294.8 138.3h0.8M295.8 157.8h0.8M276.2 135.7h0.8M290.6 156.9h0.8M278.2 158.7h0.8M291.4 135.2h0.8M281.9 133.8h0.8M283.5 152.4h0.8M303.9 138.1h0.8M284.4 131.5h0.8M289.0 140.1h0.8M296.7 153.8h0.8M283.7 154.7h0.8M286.8 144.2h0.8M285.1 171.0h0.8M283.2 139.9h0.8M269.1 137.4h0.8M307.9 150.6h0.8M284.8 157.1h0.8M276.5 150.8h0.8M291.1 155.8h0.8M284.6 138.4h0.8M295.4 154.8h0.8M269.1 145.3h0.8M279.3 132.8h0.8M295.8 136.6h0.8M275.6 140.3h0.8M273.1 158.8h0.8M265.6 157.8h0.8M270.0 132.1h0.8M295.7 164.8h0.8M289.1 163.8h0.8M285.0 150.8h0.8M290.7 132.2h0.8M282.1 164.7h0.8M289.6 144.0h0.8M282.4 172.4h0.8M304.6 147.7h0.8M283.6 157.9h0.8M288.7 153.8h0.8M291.2 162.0h0.8M286.3 147.5h0.8M289.9 171.3h0.8M287.8 138.2h0.8M292.6 146.8h0.8M289.6 160.7h0.8M263.4 151.6h0.8M271.0 131.3h0.8M299.1 124.5h0.8M277.8 134.8h0.8M278.1 149.9h0.8M284.2 142.4h0.8M277.8 155.0h0.8M280.6 140.7h0.8M287.8 169.2h0.8M272.7 166.8h0.8M278.4 146.4h0.8M277.4 161.8h0.8M303.1 164.2h0.8M293.5 165.6h0.8M298.5 150.4h0.8M292.1 167.5h0.8M265.3 160.9h0.8M287.4 134.8h0.8M289.2 135.1h0.8M276.5 164.2h0.8M290.2 136.1h0.8M285.3 141.5h0.8M300.1 124.1h0.8M295.5 145.9h0.8M284.3 128.8h0.8M288.6 153.5h0.8M272.7 118.5h0.8M282.7 132.2h0.8M292.2 145.8h0.8M290.7 147.1h0.8M289.4 139.6h0.8M286.8 135.3h0.8M297.0 142.7h0.8M287.1 141.3h0.8M291.7 140.9h0.8M287.3 138.8h0.8M291.0 151.8h0.8M285.6 148.7h0.8M286.7 152.6h0.8M288.7 163.3h0.8M293.2 165.3h0.8M285.4 161.2h0.8M274.5 150.4h0.8M283.4 149.7h0.8M281.3 135.1h0.8M292.4 163.6h0.8M299.0 149.0h0.8M282.6 166.7h0.8M297.1 158.3h0.8M286.2 148.8h0.8M282.3 147.7h0.8M291.4 139.9h0.8M290.1 160.8h0.8M279.6 136.2h0.8M283.3 130.4h0.8M299.2 147.6h0.8M279.4 151.1h0.8M300.8 149.3h0.8M282.7 144.4h0.8M291.5 146.1h0.8M276.6 139.1h0.8M278.6 153.8h0.8M279.3 136.5h0.8M282.1 158.5h0.8M277.1 148.4h0.8M277.5 171.9h0.8M271.0 113.0h0.8M292.5 169.5h0.8M280.5 141.0h0.8M270.6 146.8h0.8M280.2 146.1h0.8M282.9 171.2h0.8M290.5 152.4h0.8M281.3 131.9h0.8M292.7 137.6h0.8M282.4 167.9h0.8M294.5 155.6h0.8M275.9 151.2h0.8M303.4 154.6h0.8M300.9 143.6h0.8M294.4 121.8h0.8M303.8 144.0h0.8M282.9 151.2h0.8M284.4 151.6h0.8M266.4 147.5h0.8M291.4 142.4h0.8M282.5 139.9h0.8M288.3 140.5h0.8M295.6 158.9h0.8M296.0 145.4h0.8M269.1 148.2h0.8M274.4 137.2h0.8M278.5 144.1h0.8M276.1 152.9h0.8M291.0 156.2h0.8" stroke="#333" stroke-width="0.8" fill="none" opacity="0.36"/>
</g>
<line x1="283.7" y1="95.2" x2="283.7" y2="175" stroke="#a4a4a4" stroke-width="0.6"/>
<line x1="250.8" y1="144.5" x2="330.5" y2="144.5" stroke="#a4a4a4" stroke-width="0.6"/>
<rect x="250.8" y="95.2" width="79.7" height="79.8" fill="none" stroke="#858585" stroke-width="0.9"/>
<path d="M264.9 175.9h0.8M302.6 175.9h0.8M287.2 175.9h0.8M297.7 175.9h0.8M282.5 175.9h0.8M307.9 175.9h0.8M311.4 175.9h0.8M259.6 175.9h0.8M257.4 175.9h0.8M315.2 175.9h0.8M270.0 175.9h0.8M326.7 175.9h0.8M278.3 175.9h0.8M274.5 175.9h0.8M257.1 175.9h0.8M296.2 175.9h0.8M297.4 175.9h0.8M257.7 175.9h0.8M307.8 175.9h0.8M257.5 175.9h0.8M288.8 175.9h0.8M321.0 175.9h0.8M256.4 175.9h0.8M318.2 175.9h0.8M310.1 175.9h0.8M276.9 175.9h0.8" stroke="#222" stroke-width="0.8" fill="none" opacity="0.7"/>
<path d="M249.9 145.7h0.8M249.9 114.3h0.8M249.9 150.7h0.8M249.9 170.5h0.8M249.9 126.3h0.8M249.9 104.6h0.8M249.9 104.5h0.8M249.9 128.4h0.8M249.9 148.3h0.8M249.9 171.7h0.8M249.9 165.5h0.8M249.9 159.9h0.8" stroke="#222" stroke-width="0.8" fill="none" opacity="0.6"/>
<text transform="translate(160.2 24.6) scale(1 1.12)" font-size="9.2" text-anchor="start" font-weight="bold" fill="#000" stroke="#000" stroke-width="0.2">WT</text>
<text transform="translate(190.8 30.6) scale(1 1.08)" font-size="9.6" text-anchor="start" font-weight="bold" fill="#000" stroke="#000" stroke-width="0.2">0.10 %</text>
<text transform="translate(160.6 111.7) scale(1 1.15)" font-size="9.4" text-anchor="start" font-weight="bold" fill="#000" stroke="#000" stroke-width="0.2">KO</text>
<text transform="translate(190.8 110.5) scale(1 1.08)" font-size="9.6" text-anchor="start" font-weight="bold" fill="#000" stroke="#000" stroke-width="0.2">0.16 %</text>
<text transform="translate(325.8 25.8) scale(1 1.02)" font-size="9.2" text-anchor="end" font-weight="bold" fill="#000" stroke="#000" stroke-width="0.2">38</text>
<text transform="translate(252.3 89) scale(1 1.02)" font-size="9.2" text-anchor="start" font-weight="bold" fill="#000" stroke="#000" stroke-width="0.2">13</text>
<text transform="translate(325.8 89) scale(1 1.02)" font-size="9.2" text-anchor="end" font-weight="bold" fill="#000" stroke="#000" stroke-width="0.2">44</text>
<text transform="translate(325.8 113) scale(1 1.02)" font-size="9.2" text-anchor="end" font-weight="bold" fill="#000" stroke="#000" stroke-width="0.2">52</text>
<text transform="translate(252.3 171.6) scale(1 1.02)" font-size="9.2" text-anchor="start" font-weight="bold" fill="#000" stroke="#000" stroke-width="0.2">10</text>
<text transform="translate(325.8 171.6) scale(1 1.02)" font-size="9.2" text-anchor="end" font-weight="bold" fill="#000" stroke="#000" stroke-width="0.2">31</text>
<path d="M214.2 41.6V33.5H246" fill="none" stroke="#0a0a0a" stroke-width="1.4"/>
<path d="M251 33.5L244 29.9V37.1Z" fill="#0a0a0a"/>
<path d="M214.2 123.2V115.7H246" fill="none" stroke="#0a0a0a" stroke-width="1.4"/>
<path d="M251 115.7L244 112.1V119.3Z" fill="#0a0a0a"/>
<path d="M145.2 168.6V189.8H170.6" fill="none" stroke="#0a0a0a" stroke-width="1.3"/>
<path d="M145.2 163.6L141.6 171.2H148.8Z" fill="#0a0a0a"/>
<path d="M175.6 189.8L168 186.2V193.4Z" fill="#0a0a0a"/>
<path d="M241.8 169.2V190H268" fill="none" stroke="#0a0a0a" stroke-width="1.3"/>
<path d="M241.8 164.2L238.2 171.8H245.4Z" fill="#0a0a0a"/>
<path d="M273 190L265.4 186.4V193.6Z" fill="#0a0a0a"/>
<text transform="translate(184.9 193.2) scale(1 1.05)" font-size="9.0" text-anchor="start" font-weight="normal" fill="#111">Sca1</text>
<text transform="translate(278 193.4) scale(1 1.08)" font-size="9.8" text-anchor="start" font-weight="normal" fill="#111">CD34</text>
<text transform="translate(147.7 143.3) scale(1 1.02) rotate(-90)" font-size="9.8" text-anchor="middle" fill="#111">CD117</text>
<text transform="translate(245 142.9) scale(1 1.0) rotate(-90)" font-size="9.8" text-anchor="middle" fill="#111">CD135</text>
</svg>
</body>
</html>
